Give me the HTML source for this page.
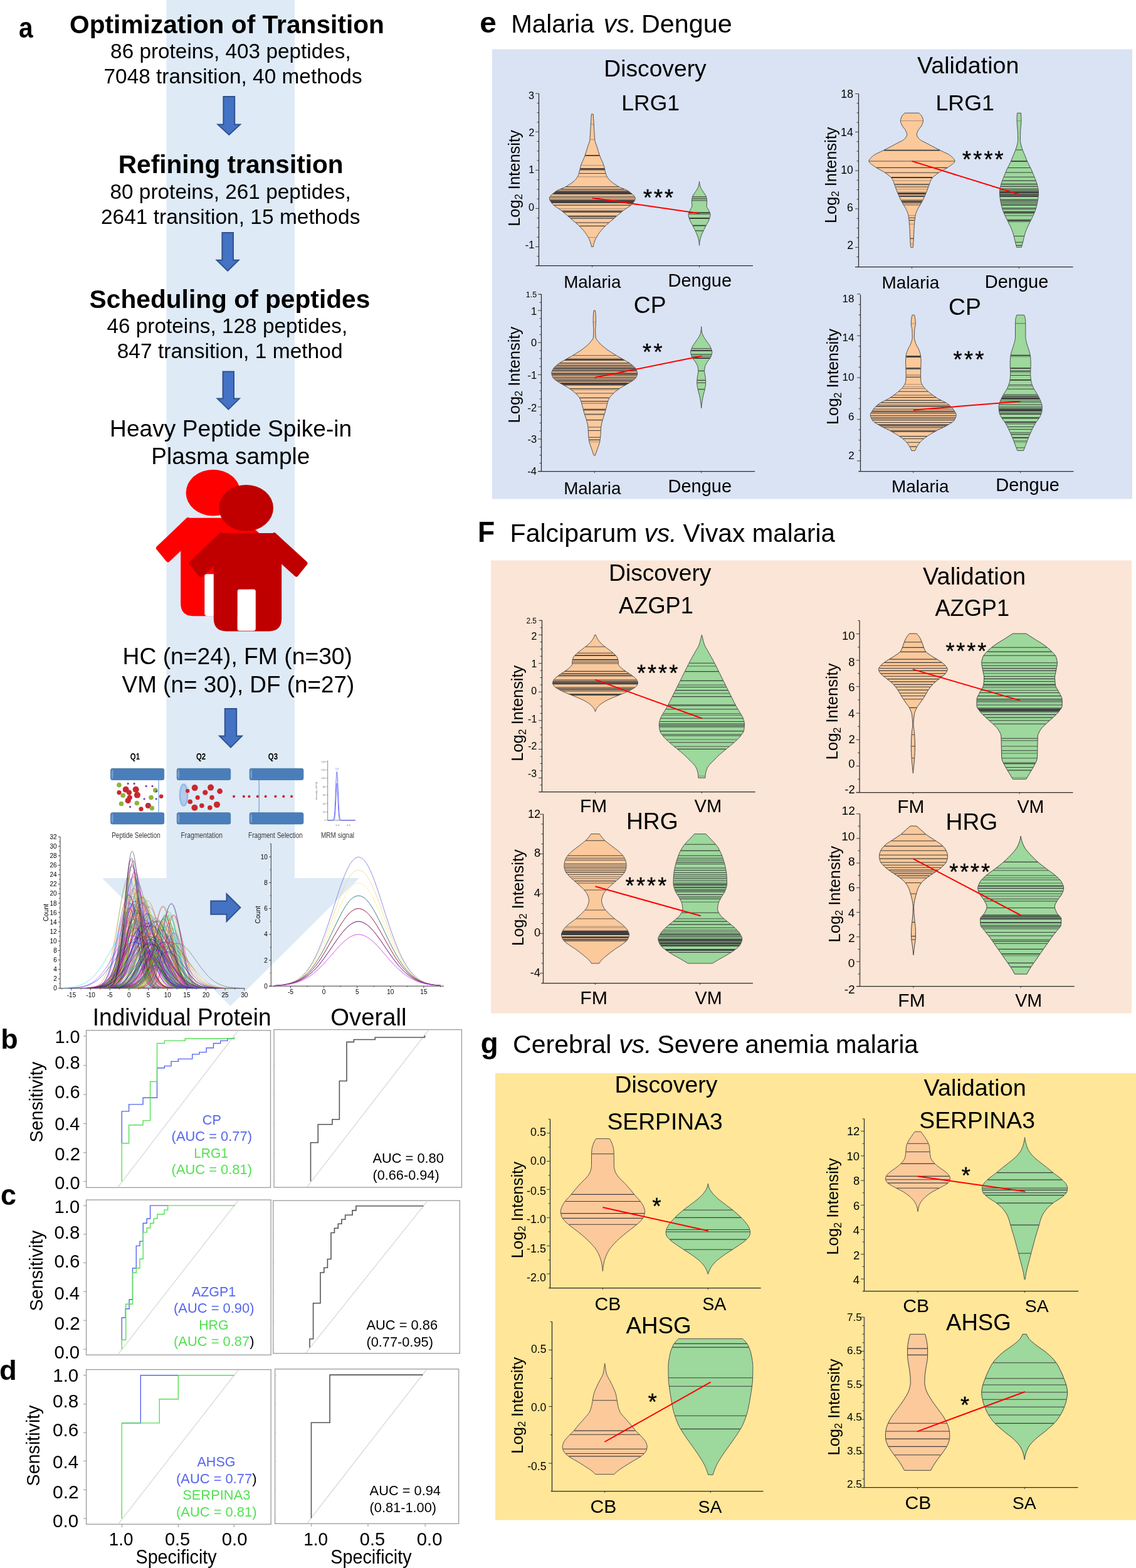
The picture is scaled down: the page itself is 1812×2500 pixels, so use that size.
<!DOCTYPE html>
<html lang="en"><head><meta charset="utf-8"><title>MRM workflow and biomarker validation</title>
<style>
html,body{margin:0;padding:0;background:#fff}
body{width:1812px;height:2500px;overflow:hidden}
svg{display:block}
svg text{font-family:"Liberation Sans",Arial,Helvetica,sans-serif}
</style></head><body>
<svg width="1812" height="2500" viewBox="0 0 1812 2500">
<path d="M265.5 0 L470 0 L470 1400 L573 1400 L367.5 1604 L163 1400 L265.5 1400 Z" fill="#deeaf6" />
<rect x="785.0" y="78.5" width="1021.0" height="717.0" fill="#dae3f3" />
<rect x="783.0" y="893.5" width="1022.0" height="722.0" fill="#fbe5d6" />
<rect x="790.0" y="1711.0" width="1022.0" height="712.5" fill="#ffe699" />
<text x="30.0" y="59.7" font-size="45.8" font-weight="bold" textLength="22.6" lengthAdjust="spacingAndGlyphs">a</text>
<text x="111.0" y="52.5" font-size="40.7" font-weight="bold" textLength="502.0" lengthAdjust="spacingAndGlyphs">Optimization of Transition</text>
<text x="176.1" y="93.0" font-size="33.3" textLength="383.6" lengthAdjust="spacingAndGlyphs">86 proteins, 403 peptides,</text>
<text x="165.5" y="133.1" font-size="33.4" textLength="412.1" lengthAdjust="spacingAndGlyphs">7048 transition, 40 methods</text>
<path d="M356.4 154.0 L374.2 154.0 L374.2 198.4 L383.1 198.4 L365.3 215.0 L347.5 198.4 L356.4 198.4 Z" fill="#4472c4" stroke="#2f528f" stroke-width="2" stroke-linejoin="miter"/>
<text x="188.7" y="276.0" font-size="40.6" font-weight="bold" textLength="359.0" lengthAdjust="spacingAndGlyphs">Refining transition</text>
<text x="175.4" y="316.8" font-size="33.4" textLength="384.4" lengthAdjust="spacingAndGlyphs">80 proteins, 261 peptides,</text>
<text x="160.9" y="356.9" font-size="33.5" textLength="413.5" lengthAdjust="spacingAndGlyphs">2641 transition, 15 methods</text>
<path d="M354.4 371.0 L372.0 371.0 L372.0 414.8 L380.7 414.8 L363.2 431.9 L345.7 414.8 L354.4 414.8 Z" fill="#4472c4" stroke="#2f528f" stroke-width="2" stroke-linejoin="miter"/>
<text x="142.6" y="490.5" font-size="40.7" font-weight="bold" textLength="447.8" lengthAdjust="spacingAndGlyphs">Scheduling of peptides</text>
<text x="170.4" y="531.4" font-size="33.4" textLength="383.9" lengthAdjust="spacingAndGlyphs">46 proteins, 128 peptides,</text>
<text x="186.7" y="571.1" font-size="33.5" textLength="359.9" lengthAdjust="spacingAndGlyphs">847 transition, 1 method</text>
<path d="M355.6 592.4 L373.0 592.4 L373.0 635.6 L381.8 635.6 L364.3 652.6 L346.8 635.6 L355.6 635.6 Z" fill="#4472c4" stroke="#2f528f" stroke-width="2" stroke-linejoin="miter"/>
<text x="175.1" y="695.7" font-size="37.1" textLength="386.1" lengthAdjust="spacingAndGlyphs">Heavy Peptide Spike-in</text>
<text x="241.3" y="739.7" font-size="37.0" textLength="253.0" lengthAdjust="spacingAndGlyphs">Plasma sample</text>
<text x="195.5" y="1059.1" font-size="37.3" textLength="366.5" lengthAdjust="spacingAndGlyphs">HC (n=24), FM (n=30)</text>
<text x="194.6" y="1103.5" font-size="36.9" textLength="370.7" lengthAdjust="spacingAndGlyphs">VM (n= 30), DF (n=27)</text>
<path d="M358.8 1130.0 L377.2 1130.0 L377.2 1173.6 L385.9 1173.6 L368.0 1191.6 L350.1 1173.6 L358.8 1173.6 Z" fill="#4472c4" stroke="#2f528f" stroke-width="2" stroke-linejoin="miter"/>
<g transform="translate(-52.6 -24.2)" fill="#ff0000">
<ellipse cx="392.6" cy="809.9" rx="43.4" ry="36.9"/>
<path fill-rule="evenodd" d="M350.5 850 L439.4 850 L449.2 859.3 L449.2 986 Q449.2 1006.4 429 1006.4 L361 1006.4 Q340.8 1006.4 340.8 986 L340.8 859.3 Z M381.8 939.8 Q378.8 939.8 378.8 942.8 L378.8 1002.5 Q378.8 1005.5 381.8 1005.5 L404.6 1005.5 Q407.6 1005.5 407.6 1002.5 L407.6 942.8 Q407.6 939.8 404.6 939.8 Z"/>
<path stroke="#ff0000" stroke-width="7" stroke-linejoin="round" d="M352.6 852.8 L305 898 L320.6 917 L345 894 L345 860 Z"/>
<path stroke="#ff0000" stroke-width="7" stroke-linejoin="round" d="M437.4 852.8 L487 898 L472.6 916 L445 891 L445 860 Z"/>
</g>
<rect x="327.7" y="915.5" width="14.0" height="67.0" fill="#ffffff" rx="2" />
<g transform="translate(0.0 0.0)" fill="#c00000">
<ellipse cx="392.6" cy="809.9" rx="43.4" ry="36.9"/>
<path fill-rule="evenodd" d="M350.5 850 L439.4 850 L449.2 859.3 L449.2 986 Q449.2 1006.4 429 1006.4 L361 1006.4 Q340.8 1006.4 340.8 986 L340.8 859.3 Z M381.8 939.8 Q378.8 939.8 378.8 942.8 L378.8 1002.5 Q378.8 1005.5 381.8 1005.5 L404.6 1005.5 Q407.6 1005.5 407.6 1002.5 L407.6 942.8 Q407.6 939.8 404.6 939.8 Z"/>
<path stroke="#c00000" stroke-width="7" stroke-linejoin="round" d="M352.6 852.8 L305 898 L320.6 917 L345 894 L345 860 Z"/>
<path stroke="#c00000" stroke-width="7" stroke-linejoin="round" d="M437.4 852.8 L487 898 L472.6 916 L445 891 L445 860 Z"/>
</g>
<rect x="378.8" y="939.8" width="28.8" height="65.7" fill="#ffffff" rx="3" />
<rect x="176.6" y="1225.3" width="85.1" height="18.2" rx="2.5" fill="#4a7ebb" stroke="#41719c" stroke-width="0.8"/>
<ellipse cx="179.2" cy="1234.4" rx="2.2" ry="8.5" fill="#6f9bd1" stroke="#41719c" stroke-width="0.6"/>
<rect x="176.6" y="1295.7" width="85.1" height="18.2" rx="2.5" fill="#4a7ebb" stroke="#41719c" stroke-width="0.8"/>
<ellipse cx="179.2" cy="1304.8" rx="2.2" ry="8.5" fill="#6f9bd1" stroke="#41719c" stroke-width="0.6"/>
<rect x="282.3" y="1225.3" width="85.4" height="18.2" rx="2.5" fill="#4a7ebb" stroke="#41719c" stroke-width="0.8"/>
<ellipse cx="284.9" cy="1234.4" rx="2.2" ry="8.5" fill="#6f9bd1" stroke="#41719c" stroke-width="0.6"/>
<rect x="282.3" y="1295.7" width="85.4" height="18.2" rx="2.5" fill="#4a7ebb" stroke="#41719c" stroke-width="0.8"/>
<ellipse cx="284.9" cy="1304.8" rx="2.2" ry="8.5" fill="#6f9bd1" stroke="#41719c" stroke-width="0.6"/>
<rect x="398.2" y="1225.3" width="85.7" height="18.2" rx="2.5" fill="#4a7ebb" stroke="#41719c" stroke-width="0.8"/>
<ellipse cx="400.8" cy="1234.4" rx="2.2" ry="8.5" fill="#6f9bd1" stroke="#41719c" stroke-width="0.6"/>
<rect x="398.2" y="1295.7" width="85.7" height="18.2" rx="2.5" fill="#4a7ebb" stroke="#41719c" stroke-width="0.8"/>
<ellipse cx="400.8" cy="1304.8" rx="2.2" ry="8.5" fill="#6f9bd1" stroke="#41719c" stroke-width="0.6"/>
<text x="215.4" y="1210.9" font-size="15.5" text-anchor="middle" font-weight="bold" textLength="15.2" lengthAdjust="spacingAndGlyphs">Q1</text>
<text x="320.6" y="1210.9" font-size="15.5" text-anchor="middle" font-weight="bold" textLength="15.2" lengthAdjust="spacingAndGlyphs">Q2</text>
<text x="435.4" y="1210.9" font-size="15.5" text-anchor="middle" font-weight="bold" textLength="15.2" lengthAdjust="spacingAndGlyphs">Q3</text>
<line x1="253.1" y1="1243.5" x2="253.1" y2="1295.7" stroke="#5b8fd0" stroke-width="1" />
<line x1="413.2" y1="1243.5" x2="413.2" y2="1295.7" stroke="#5b8fd0" stroke-width="1" />
<g fill="#c9282d">
<circle cx="200.7" cy="1258.8" r="5.0"/>
<circle cx="206.0" cy="1263.6" r="4.2"/>
<circle cx="216.7" cy="1258.8" r="5.0"/>
<circle cx="218.9" cy="1267.6" r="5.0"/>
<circle cx="190.0" cy="1263.6" r="3.6"/>
<circle cx="206.8" cy="1271.6" r="4.2"/>
<circle cx="204.2" cy="1276.5" r="4.6"/>
<circle cx="225.0" cy="1289.8" r="3.6"/>
<circle cx="236.3" cy="1284.5" r="4.6"/>
<circle cx="257.2" cy="1269.8" r="3.2"/>
</g>
<g fill="#8bb53c">
<circle cx="190.0" cy="1251.6" r="3.8"/>
<circle cx="196.1" cy="1268.2" r="3.8"/>
<circle cx="193.5" cy="1281.5" r="3.8"/>
<circle cx="218.4" cy="1280.5" r="3.8"/>
<circle cx="241.1" cy="1271.6" r="3.8"/>
<circle cx="247.8" cy="1260.1" r="3.8"/>
<circle cx="242.4" cy="1288.5" r="3.8"/>
</g>
<g fill="#7b3fa0">
<circle cx="204.2" cy="1249.4" r="1.6"/>
<circle cx="214.1" cy="1249.4" r="1.6"/>
<circle cx="233.1" cy="1253.4" r="1.6"/>
<circle cx="243.0" cy="1253.4" r="1.6"/>
<circle cx="230.1" cy="1273.8" r="1.6"/>
<circle cx="249.1" cy="1273.8" r="1.6"/>
<circle cx="207.6" cy="1286.4" r="1.6"/>
<circle cx="249.7" cy="1261.7" r="1.6"/>
<circle cx="237.1" cy="1282.3" r="1.6"/>
</g>
<ellipse cx="293.0" cy="1267.6" rx="6" ry="17" fill="#b9c9e6" stroke="#8fbcee" stroke-width="2.6"/>
<g fill="#c9282d">
<circle cx="310.7" cy="1256.1" r="5.0"/>
<circle cx="336.1" cy="1255.6" r="5.0"/>
<circle cx="350.6" cy="1261.5" r="4.4"/>
<circle cx="327.3" cy="1263.6" r="4.2"/>
<circle cx="315.2" cy="1271.6" r="3.6"/>
<circle cx="338.0" cy="1271.6" r="3.8"/>
<circle cx="303.2" cy="1278.3" r="3.8"/>
<circle cx="346.0" cy="1282.9" r="5.0"/>
<circle cx="321.9" cy="1284.5" r="3.8"/>
<circle cx="310.4" cy="1287.7" r="5.0"/>
<circle cx="334.8" cy="1287.7" r="3.8"/>
<circle cx="299.2" cy="1260.9" r="3.2"/>
</g>
<g fill="#c9282d">
<circle cx="373.1" cy="1269.8" r="2.1"/>
<circle cx="388.9" cy="1269.8" r="2.1"/>
<circle cx="397.4" cy="1269.8" r="2.1"/>
<circle cx="410.8" cy="1269.8" r="2.1"/>
<circle cx="423.7" cy="1269.8" r="2.1"/>
<circle cx="439.4" cy="1269.8" r="2.1"/>
<circle cx="452.3" cy="1269.8" r="2.1"/>
<circle cx="465.1" cy="1269.8" r="2.1"/>
</g>
<text x="178.2" y="1335.6" font-size="13.0" fill="#3a3a3a" textLength="77.6" lengthAdjust="spacingAndGlyphs">Peptide Selection</text>
<text x="288.5" y="1335.6" font-size="13.0" fill="#3a3a3a" textLength="66.4" lengthAdjust="spacingAndGlyphs">Fragmentation</text>
<text x="396.1" y="1335.6" font-size="13.0" fill="#3a3a3a" textLength="86.7" lengthAdjust="spacingAndGlyphs">Fragment Selection</text>
<text x="512.0" y="1335.6" font-size="13.0" fill="#3a3a3a" textLength="53.0" lengthAdjust="spacingAndGlyphs">MRM signal</text>
<line x1="522.7" y1="1212.7" x2="522.7" y2="1307.8" stroke="#555" stroke-width="0.7" />
<line x1="522.7" y1="1307.8" x2="566.9" y2="1307.8" stroke="#555" stroke-width="0.7" />
<line x1="520.7" y1="1307.8" x2="522.7" y2="1307.8" stroke="#555" stroke-width="0.5" />
<text x="519.5" y="1309.3" font-size="4.2" text-anchor="end" fill="#777">0</text>
<line x1="520.7" y1="1294.4" x2="522.7" y2="1294.4" stroke="#555" stroke-width="0.5" />
<text x="519.5" y="1295.9" font-size="4.2" text-anchor="end" fill="#777">20</text>
<line x1="520.7" y1="1281.0" x2="522.7" y2="1281.0" stroke="#555" stroke-width="0.5" />
<text x="519.5" y="1282.5" font-size="4.2" text-anchor="end" fill="#777">40</text>
<line x1="520.7" y1="1267.6" x2="522.7" y2="1267.6" stroke="#555" stroke-width="0.5" />
<text x="519.5" y="1269.1" font-size="4.2" text-anchor="end" fill="#777">60</text>
<line x1="520.7" y1="1254.2" x2="522.7" y2="1254.2" stroke="#555" stroke-width="0.5" />
<text x="519.5" y="1255.7" font-size="4.2" text-anchor="end" fill="#777">80</text>
<line x1="520.7" y1="1240.8" x2="522.7" y2="1240.8" stroke="#555" stroke-width="0.5" />
<text x="519.5" y="1242.3" font-size="4.2" text-anchor="end" fill="#777">100</text>
<line x1="520.7" y1="1227.4" x2="522.7" y2="1227.4" stroke="#555" stroke-width="0.5" />
<text x="519.5" y="1228.9" font-size="4.2" text-anchor="end" fill="#777">120</text>
<line x1="520.7" y1="1214.0" x2="522.7" y2="1214.0" stroke="#555" stroke-width="0.5" />
<text x="519.5" y="1215.5" font-size="4.2" text-anchor="end" fill="#777">140</text>
<text x="505.5" y="1261.0" font-size="4.2" text-anchor="middle" fill="#777" transform="rotate(-90 505.5 1261.0)">Intensity (10^3)</text>
<text x="538.4" y="1316.5" font-size="4.2" text-anchor="middle" fill="#777">0.4</text>
<text x="556.0" y="1316.5" font-size="4.2" text-anchor="middle" fill="#777">0.6</text>
<path d="M523 1307.8C523.5 1307.8 523.9 1307.8 524.4 1307.8S525.3 1307.8 525.8 1307.8S526.7 1307.8 527.2 1307.8S528.1 1307.8 528.6 1307.8S529.5 1307.8 530 1307.8S531 1307.7 531.4 1307.3S532.4 1306.1 532.8 1303.5S533.8 1296.5 534.2 1288.6S535.2 1269.1 535.6 1257.6S536.6 1235.4 537 1231.7S538 1232 538.4 1241S539.4 1263 539.8 1273.8S540.8 1292.8 541.2 1297.8S542.2 1304.9 542.6 1306.1S543.6 1307.5 544 1307.6S545 1307.8 545.5 1307.8S546.4 1307.8 546.9 1307.8S547.8 1307.8 548.3 1307.8S549.2 1307.8 549.7 1307.8S550.6 1307.8 551.1 1307.8S552 1307.8 552.5 1307.8S553.4 1307.8 553.9 1307.8S554.8 1307.8 555.3 1307.8S556.2 1307.8 556.7 1307.8S557.6 1307.8 558.1 1307.8S559 1307.8 559.5 1307.8S560.4 1307.8 560.9 1307.8S561.8 1307.8 562.3 1307.8S563.2 1307.8 563.7 1307.8S564.6 1307.8 565.1 1307.8S566 1307.8 566.5 1307.8" fill="none" stroke="#6a6af5" stroke-width="1" />
<path d="M523 1307.8C523.4 1307.8 523.7 1307.8 524.1 1307.8S524.9 1307.8 525.2 1307.8S526 1307.8 526.3 1307.8S527.1 1307.8 527.5 1307.8S528.2 1307.8 528.6 1307.8S529.3 1307.8 529.7 1307.8S530.4 1307.8 530.8 1307.8S531.6 1307.8 531.9 1307.7S532.7 1307.6 533 1306.9S533.8 1305.2 534.2 1302.1S534.9 1293.9 535.3 1286.3S536 1268.8 536.4 1260.9S537.1 1248 537.5 1248.9S538.2 1256.8 538.6 1265.3S539.4 1283.4 539.7 1290.2S540.5 1301.2 540.8 1303.6S541.6 1306.8 542 1307.2S542.7 1307.7 543.1 1307.8S543.8 1307.8 544.2 1307.8S544.9 1307.8 545.3 1307.8S546.1 1307.8 546.4 1307.8S547.2 1307.8 547.5 1307.8S548.3 1307.8 548.7 1307.8S549.4 1307.8 549.8 1307.8S550.5 1307.8 550.9 1307.8S551.6 1307.8 552 1307.8S552.7 1307.8 553.1 1307.8S553.9 1307.8 554.2 1307.8S555 1307.8 555.3 1307.8S556.1 1307.8 556.5 1307.8S557.2 1307.8 557.6 1307.8S558.3 1307.8 558.7 1307.8S559.4 1307.8 559.8 1307.8S560.6 1307.8 560.9 1307.8S561.7 1307.8 562 1307.8S562.8 1307.8 563.2 1307.8S563.9 1307.8 564.3 1307.8S565 1307.8 565.4 1307.8S566.1 1307.8 566.5 1307.8" fill="none" stroke="#6a6af5" stroke-width="0.9" />
<text x="537.8" y="1226.5" font-size="3.6" text-anchor="middle" fill="#6a6af5">0.4</text>
<path d="M336.3 1436.4 L361.5 1436.4 L361.5 1425.2 L383.4 1447.1 L361.5 1469 L361.5 1457.8 L336.3 1457.8 Z" fill="#4472c4" stroke="#2f528f" stroke-width="2" />
<line x1="96.0" y1="1334.2" x2="96.0" y2="1576.2" stroke="#222" stroke-width="0.9" />
<line x1="96.0" y1="1575.8" x2="390.0" y2="1575.8" stroke="#222" stroke-width="0.9" />
<line x1="92.8" y1="1575.8" x2="96.0" y2="1575.8" stroke="#222" stroke-width="0.8" />
<text x="90.7" y="1579.4" font-size="10.0" text-anchor="end">0</text>
<line x1="94.2" y1="1568.2" x2="96.0" y2="1568.2" stroke="#222" stroke-width="0.7" />
<line x1="92.8" y1="1560.7" x2="96.0" y2="1560.7" stroke="#222" stroke-width="0.8" />
<text x="90.7" y="1564.3" font-size="10.0" text-anchor="end">2</text>
<line x1="94.2" y1="1553.1" x2="96.0" y2="1553.1" stroke="#222" stroke-width="0.7" />
<line x1="92.8" y1="1545.6" x2="96.0" y2="1545.6" stroke="#222" stroke-width="0.8" />
<text x="90.7" y="1549.2" font-size="10.0" text-anchor="end">4</text>
<line x1="94.2" y1="1538.0" x2="96.0" y2="1538.0" stroke="#222" stroke-width="0.7" />
<line x1="92.8" y1="1530.5" x2="96.0" y2="1530.5" stroke="#222" stroke-width="0.8" />
<text x="90.7" y="1534.1" font-size="10.0" text-anchor="end">6</text>
<line x1="94.2" y1="1523.0" x2="96.0" y2="1523.0" stroke="#222" stroke-width="0.7" />
<line x1="92.8" y1="1515.4" x2="96.0" y2="1515.4" stroke="#222" stroke-width="0.8" />
<text x="90.7" y="1519.0" font-size="10.0" text-anchor="end">8</text>
<line x1="94.2" y1="1507.8" x2="96.0" y2="1507.8" stroke="#222" stroke-width="0.7" />
<line x1="92.8" y1="1500.3" x2="96.0" y2="1500.3" stroke="#222" stroke-width="0.8" />
<text x="90.7" y="1503.9" font-size="10.0" text-anchor="end">10</text>
<line x1="94.2" y1="1492.8" x2="96.0" y2="1492.8" stroke="#222" stroke-width="0.7" />
<line x1="92.8" y1="1485.2" x2="96.0" y2="1485.2" stroke="#222" stroke-width="0.8" />
<text x="90.7" y="1488.8" font-size="10.0" text-anchor="end">12</text>
<line x1="94.2" y1="1477.6" x2="96.0" y2="1477.6" stroke="#222" stroke-width="0.7" />
<line x1="92.8" y1="1470.1" x2="96.0" y2="1470.1" stroke="#222" stroke-width="0.8" />
<text x="90.7" y="1473.7" font-size="10.0" text-anchor="end">14</text>
<line x1="94.2" y1="1462.5" x2="96.0" y2="1462.5" stroke="#222" stroke-width="0.7" />
<line x1="92.8" y1="1455.0" x2="96.0" y2="1455.0" stroke="#222" stroke-width="0.8" />
<text x="90.7" y="1458.6" font-size="10.0" text-anchor="end">16</text>
<line x1="94.2" y1="1447.5" x2="96.0" y2="1447.5" stroke="#222" stroke-width="0.7" />
<line x1="92.8" y1="1439.9" x2="96.0" y2="1439.9" stroke="#222" stroke-width="0.8" />
<text x="90.7" y="1443.5" font-size="10.0" text-anchor="end">18</text>
<line x1="94.2" y1="1432.3" x2="96.0" y2="1432.3" stroke="#222" stroke-width="0.7" />
<line x1="92.8" y1="1424.8" x2="96.0" y2="1424.8" stroke="#222" stroke-width="0.8" />
<text x="90.7" y="1428.4" font-size="10.0" text-anchor="end">20</text>
<line x1="94.2" y1="1417.2" x2="96.0" y2="1417.2" stroke="#222" stroke-width="0.7" />
<line x1="92.8" y1="1409.7" x2="96.0" y2="1409.7" stroke="#222" stroke-width="0.8" />
<text x="90.7" y="1413.3" font-size="10.0" text-anchor="end">22</text>
<line x1="94.2" y1="1402.1" x2="96.0" y2="1402.1" stroke="#222" stroke-width="0.7" />
<line x1="92.8" y1="1394.6" x2="96.0" y2="1394.6" stroke="#222" stroke-width="0.8" />
<text x="90.7" y="1398.2" font-size="10.0" text-anchor="end">24</text>
<line x1="94.2" y1="1387.0" x2="96.0" y2="1387.0" stroke="#222" stroke-width="0.7" />
<line x1="92.8" y1="1379.5" x2="96.0" y2="1379.5" stroke="#222" stroke-width="0.8" />
<text x="90.7" y="1383.1" font-size="10.0" text-anchor="end">26</text>
<line x1="94.2" y1="1372.0" x2="96.0" y2="1372.0" stroke="#222" stroke-width="0.7" />
<line x1="92.8" y1="1364.4" x2="96.0" y2="1364.4" stroke="#222" stroke-width="0.8" />
<text x="90.7" y="1368.0" font-size="10.0" text-anchor="end">28</text>
<line x1="94.2" y1="1356.8" x2="96.0" y2="1356.8" stroke="#222" stroke-width="0.7" />
<line x1="92.8" y1="1349.3" x2="96.0" y2="1349.3" stroke="#222" stroke-width="0.8" />
<text x="90.7" y="1352.9" font-size="10.0" text-anchor="end">30</text>
<line x1="94.2" y1="1341.8" x2="96.0" y2="1341.8" stroke="#222" stroke-width="0.7" />
<line x1="92.8" y1="1334.2" x2="96.0" y2="1334.2" stroke="#222" stroke-width="0.8" />
<text x="90.7" y="1337.8" font-size="10.0" text-anchor="end">32</text>
<line x1="114.0" y1="1575.8" x2="114.0" y2="1579.0" stroke="#222" stroke-width="0.8" />
<text x="114.0" y="1589.8" font-size="10.0" text-anchor="middle">-15</text>
<line x1="144.6" y1="1575.8" x2="144.6" y2="1579.0" stroke="#222" stroke-width="0.8" />
<text x="144.6" y="1589.8" font-size="10.0" text-anchor="middle">-10</text>
<line x1="175.2" y1="1575.8" x2="175.2" y2="1579.0" stroke="#222" stroke-width="0.8" />
<text x="175.2" y="1589.8" font-size="10.0" text-anchor="middle">-5</text>
<line x1="205.9" y1="1575.8" x2="205.9" y2="1579.0" stroke="#222" stroke-width="0.8" />
<text x="205.9" y="1589.8" font-size="10.0" text-anchor="middle">0</text>
<line x1="236.6" y1="1575.8" x2="236.6" y2="1579.0" stroke="#222" stroke-width="0.8" />
<text x="236.6" y="1589.8" font-size="10.0" text-anchor="middle">5</text>
<line x1="267.2" y1="1575.8" x2="267.2" y2="1579.0" stroke="#222" stroke-width="0.8" />
<text x="267.2" y="1589.8" font-size="10.0" text-anchor="middle">10</text>
<line x1="297.9" y1="1575.8" x2="297.9" y2="1579.0" stroke="#222" stroke-width="0.8" />
<text x="297.9" y="1589.8" font-size="10.0" text-anchor="middle">15</text>
<line x1="328.5" y1="1575.8" x2="328.5" y2="1579.0" stroke="#222" stroke-width="0.8" />
<text x="328.5" y="1589.8" font-size="10.0" text-anchor="middle">20</text>
<line x1="359.1" y1="1575.8" x2="359.1" y2="1579.0" stroke="#222" stroke-width="0.8" />
<text x="359.1" y="1589.8" font-size="10.0" text-anchor="middle">25</text>
<line x1="389.8" y1="1575.8" x2="389.8" y2="1579.0" stroke="#222" stroke-width="0.8" />
<text x="389.8" y="1589.8" font-size="10.0" text-anchor="middle">30</text>
<line x1="98.6" y1="1575.8" x2="98.6" y2="1577.6" stroke="#222" stroke-width="0.7" />
<line x1="129.3" y1="1575.8" x2="129.3" y2="1577.6" stroke="#222" stroke-width="0.7" />
<line x1="159.9" y1="1575.8" x2="159.9" y2="1577.6" stroke="#222" stroke-width="0.7" />
<line x1="190.6" y1="1575.8" x2="190.6" y2="1577.6" stroke="#222" stroke-width="0.7" />
<line x1="221.2" y1="1575.8" x2="221.2" y2="1577.6" stroke="#222" stroke-width="0.7" />
<line x1="251.9" y1="1575.8" x2="251.9" y2="1577.6" stroke="#222" stroke-width="0.7" />
<line x1="282.5" y1="1575.8" x2="282.5" y2="1577.6" stroke="#222" stroke-width="0.7" />
<line x1="313.2" y1="1575.8" x2="313.2" y2="1577.6" stroke="#222" stroke-width="0.7" />
<line x1="343.8" y1="1575.8" x2="343.8" y2="1577.6" stroke="#222" stroke-width="0.7" />
<line x1="374.5" y1="1575.8" x2="374.5" y2="1577.6" stroke="#222" stroke-width="0.7" />
<text x="76.8" y="1455.0" font-size="10.5" text-anchor="middle" transform="rotate(-90 76.8 1455.0)">Count</text>
<g fill="none" stroke-width="0.55" opacity="0.9">
<path d="M156.5 1575.3C160.4 1574.9 164.3 1574.3 168.3 1571.7S176.1 1564.3 180 1555S187.9 1531.2 191.8 1514.7S199.6 1480.6 203.5 1471.3S211.4 1461.9 215.3 1471.3S223.1 1498.3 227.1 1514.7S234.9 1545.6 238.8 1555S246.7 1569 250.6 1571.7S258.4 1574.9 262.3 1575.3" stroke="#00aa00"/>
<path d="M166.3 1575.3C170.1 1575 173.9 1574.3 177.7 1571.8S185.3 1564.8 189.1 1555.9S196.7 1533.2 200.5 1517.5S208.1 1485 211.9 1476.1S219.6 1467.1 223.4 1476.1S231 1501.9 234.8 1517.5S242.4 1547 246.2 1555.9S253.8 1569.4 257.6 1571.8S265.2 1575 269.1 1575.3" stroke="#ff0080"/>
<path d="M159.9 1575.3C163.4 1575 166.9 1574.3 170.5 1571.9S177.6 1564.9 181.1 1556.1S188.2 1533.5 191.7 1518S198.8 1485.6 202.3 1476.8S209.4 1467.9 212.9 1476.8S220 1502.4 223.5 1518S230.6 1547.2 234.1 1556.1S241.2 1569.4 244.7 1571.9S251.8 1575 255.4 1575.3" stroke="#808000"/>
<path d="M148.7 1575.2C152.9 1574.7 157.1 1573.9 161.4 1570.7S169.8 1561.8 174 1550.4S182.4 1521.3 186.6 1501.2S195 1459.5 199.2 1448.1S207.7 1436.6 211.9 1448.1S220.3 1481.1 224.5 1501.2S232.9 1538.9 237.1 1550.4S245.6 1567.5 249.8 1570.7S258.2 1574.7 262.4 1575.2" stroke="#0000ff"/>
<path d="M168.3 1575.1C172.1 1574.6 176 1573.7 179.8 1570S187.4 1559.8 191.2 1546.9S198.8 1513.8 202.6 1491S210.2 1443.6 214 1430.6S221.6 1417.6 225.5 1430.6S233.1 1468.2 236.9 1491S244.5 1533.9 248.3 1546.9S255.9 1566.4 259.7 1570S267.3 1574.6 271.2 1575.1" stroke="#ff0000"/>
<path d="M153.5 1575.2C157.9 1574.8 162.4 1573.9 166.8 1570.8S175.7 1562 180.2 1550.8S189.1 1522.3 193.6 1502.6S202.5 1461.7 206.9 1450.4S215.8 1439.2 220.3 1450.4S229.2 1482.9 233.7 1502.6S242.6 1539.6 247 1550.8S255.9 1567.7 260.4 1570.8S269.3 1574.8 273.8 1575.2" stroke="#ff0000"/>
<path d="M165.5 1575.3C169.1 1574.9 172.6 1574.3 176.1 1571.7S183.2 1564.5 186.7 1555.3S193.8 1531.8 197.4 1515.6S204.4 1482 208 1472.7S215 1463.5 218.6 1472.7S225.7 1499.4 229.2 1515.6S236.3 1546.1 239.8 1555.3S246.9 1569.1 250.4 1571.7S257.5 1574.9 261 1575.3" stroke="#404040"/>
<path d="M149.4 1575.3C153.6 1574.8 157.8 1574.1 162 1571.1S170.4 1562.8 174.6 1552.3S183 1525.5 187.1 1506.9S195.5 1468.5 199.7 1457.9S208.1 1447.3 212.3 1457.9S220.7 1488.4 224.9 1506.9S233.3 1541.8 237.5 1552.3S245.8 1568.2 250 1571.1S258.4 1574.8 262.6 1575.3" stroke="#ff00ff"/>
<path d="M163.2 1575.2C166.3 1574.6 169.5 1573.7 172.6 1570.2S178.9 1560.4 182.1 1547.9S188.4 1516 191.6 1493.9S197.9 1448.2 201 1435.6S207.3 1423.1 210.5 1435.6S216.8 1471.9 220 1493.9S226.3 1535.4 229.4 1547.9S235.8 1566.7 238.9 1570.2S245.2 1574.6 248.4 1575.2" stroke="#0000ff"/>
<path d="M173.4 1575.4C176.3 1575 179.3 1574.4 182.2 1571.9S188.1 1565.1 191 1556.5S196.9 1534.3 199.9 1519.1S205.8 1487.4 208.7 1478.7S214.6 1470 217.5 1478.7S223.4 1503.8 226.4 1519.1S232.3 1547.8 235.2 1556.5S241.1 1569.5 244.1 1571.9S249.9 1575 252.9 1575.4" stroke="#cccc00"/>
<path d="M156.5 1575.2C160.7 1574.7 164.8 1573.8 168.9 1570.4S177.2 1560.8 181.3 1548.5S189.6 1517.4 193.7 1495.9S202 1451.3 206.1 1439S214.3 1426.7 218.5 1439S226.7 1474.4 230.9 1495.9S239.1 1536.3 243.2 1548.5S251.5 1567 255.6 1570.4S263.9 1574.7 268 1575.2" stroke="#ff8000"/>
<path d="M168.6 1575.2C172 1574.7 175.3 1573.9 178.7 1570.6S185.4 1561.5 188.7 1549.9S195.4 1520.2 198.7 1499.8S205.4 1457.3 208.7 1445.6S215.4 1434 218.8 1445.6S225.4 1479.3 228.8 1499.8S235.5 1538.2 238.8 1549.9S245.5 1567.4 248.8 1570.6S255.5 1574.7 258.9 1575.2" stroke="#ff00ff"/>
<path d="M164.4 1575.3C168.2 1574.9 172 1574.1 175.8 1571.3S183.4 1563.4 187.2 1553.4S194.8 1527.8 198.6 1510.1S206.1 1473.4 209.9 1463.4S217.5 1453.3 221.3 1463.4S228.9 1492.5 232.7 1510.1S240.3 1543.4 244.1 1553.4S251.7 1568.5 255.5 1571.3S263.1 1574.9 266.8 1575.3" stroke="#ff0080"/>
<path d="M163.8 1575.2C167.4 1574.8 171 1574 174.6 1571S181.8 1562.5 185.4 1551.7S192.5 1524.2 196.1 1505.2S203.3 1465.8 206.9 1454.9S214 1444.1 217.6 1454.9S224.8 1486.2 228.4 1505.2S235.6 1540.9 239.2 1551.7S246.3 1568 249.9 1571S257.1 1574.8 260.7 1575.2" stroke="#40c040"/>
<path d="M172.5 1575.3C176.1 1575 179.6 1574.3 183.2 1571.8S190.2 1564.6 193.8 1555.5S200.8 1532.3 204.4 1516.4S211.4 1483.2 215 1474S222.1 1464.9 225.6 1474S232.7 1500.4 236.2 1516.4S243.3 1546.4 246.8 1555.5S253.9 1569.2 257.4 1571.8S264.5 1575 268 1575.3" stroke="#669933"/>
<path d="M161.9 1575C165.4 1574.4 169 1573.3 172.5 1569S179.6 1557 183.2 1541.8S190.2 1502.9 193.8 1476S200.9 1420.3 204.4 1405S211.5 1389.7 215 1405S222.1 1449.2 225.7 1476S232.7 1526.5 236.3 1541.8S243.4 1564.8 246.9 1569S254 1574.4 257.5 1575" stroke="#c0c040"/>
<path d="M149.4 1575.2C153.5 1574.6 157.6 1573.7 161.8 1570.3S170.1 1560.5 174.2 1548.1S182.5 1516.4 186.7 1494.6S195 1449.2 199.1 1436.8S207.4 1424.3 211.6 1436.8S219.9 1472.8 224 1494.6S232.3 1535.7 236.5 1548.1S244.7 1566.8 248.9 1570.3S257.2 1574.6 261.3 1575.2" stroke="#800000"/>
<path d="M160.2 1575.2C163.9 1574.8 167.5 1574 171.2 1571S178.5 1562.4 182.2 1551.6S189.5 1523.9 193.2 1504.9S200.5 1465.3 204.2 1454.4S211.5 1443.5 215.2 1454.4S222.5 1485.8 226.2 1504.9S233.5 1540.8 237.2 1551.6S244.5 1568 248.2 1571S255.5 1574.8 259.2 1575.2" stroke="#ff8000"/>
<path d="M160.8 1575.3C164 1575 167.3 1574.3 170.6 1571.8S177.2 1564.8 180.5 1555.9S187.1 1533.2 190.4 1517.6S197 1485 200.3 1476.1S206.8 1467.2 210.1 1476.1S216.7 1501.9 220 1517.6S226.6 1547 229.9 1555.9S236.5 1569.4 239.8 1571.8S246.3 1575 249.6 1575.3" stroke="#993366"/>
<path d="M161 1575.4C165 1575 169 1574.4 173 1572S181 1565.1 185 1556.5S193 1534.4 197 1519.2S205 1487.6 209 1478.9S217.1 1470.2 221.1 1478.9S229.1 1504 233.1 1519.2S241.1 1547.8 245.1 1556.5S253.1 1569.5 257.1 1572S265.1 1575 269.1 1575.4" stroke="#4040c0"/>
<path d="M165.3 1575.1C168.9 1574.6 172.4 1573.6 176 1569.9S183.2 1559.4 186.8 1546S193.9 1512 197.5 1488.5S204.7 1439.7 208.3 1426.3S215.4 1412.9 219 1426.3S226.2 1465 229.7 1488.5S236.9 1532.7 240.5 1546S247.7 1566.1 251.2 1569.9S258.4 1574.6 262 1575.1" stroke="#993366"/>
<path d="M171.5 1575.1C174.4 1574.6 177.3 1573.6 180.2 1569.9S185.9 1559.5 188.8 1546.2S194.6 1512.4 197.5 1489.1S203.2 1440.7 206.1 1427.4S211.9 1414.1 214.8 1427.4S220.5 1465.8 223.4 1489.1S229.2 1533 232.1 1546.2S237.8 1566.2 240.7 1569.9S246.5 1574.6 249.4 1575.1" stroke="#ff8000"/>
<path d="M160.5 1575.1C164.2 1574.6 167.8 1573.7 171.5 1570.1S178.8 1560 182.5 1547.2S189.8 1514.5 193.5 1492S200.8 1445.1 204.5 1432.3S211.8 1419.4 215.4 1432.3S222.8 1469.4 226.4 1492S233.7 1534.4 237.4 1547.2S244.7 1566.5 248.4 1570.1S255.7 1574.6 259.4 1575.1" stroke="#cccc00"/>
<path d="M172.8 1575.3C176.1 1574.9 179.3 1574.3 182.6 1571.7S189.1 1564.5 192.4 1555.3S198.9 1531.9 202.1 1515.8S208.6 1482.3 211.9 1473.1S218.4 1463.9 221.7 1473.1S228.2 1499.7 231.4 1515.8S237.9 1546.2 241.2 1555.3S247.7 1569.2 251 1571.7S257.5 1574.9 260.7 1575.3" stroke="#008080"/>
<path d="M177.1 1575.2C180.2 1574.7 183.3 1573.8 186.5 1570.5S192.7 1561.1 195.8 1549.1S202.1 1518.7 205.2 1497.6S211.4 1454 214.6 1442S220.8 1430 223.9 1442S230.2 1476.6 233.3 1497.6S239.5 1537.2 242.6 1549.1S248.9 1567.2 252 1570.5S258.3 1574.7 261.4 1575.2" stroke="#008080"/>
<path d="M156.5 1575C160.7 1574.4 164.9 1573.3 169.1 1569.2S177.5 1557.5 181.7 1542.6S190.1 1504.7 194.3 1478.5S202.7 1424.1 206.9 1409.2S215.3 1394.3 219.5 1409.2S227.8 1452.3 232 1478.5S240.4 1527.7 244.6 1542.6S253 1565 257.2 1569.2S265.6 1574.4 269.8 1575" stroke="#404040"/>
<path d="M162.3 1575.2C165.7 1574.7 169.1 1573.9 172.6 1570.8S179.4 1561.8 182.9 1550.5S189.8 1521.6 193.2 1501.7S200.1 1460.2 203.5 1448.9S210.4 1437.5 213.8 1448.9S220.7 1481.7 224.1 1501.7S231 1539.2 234.5 1550.5S241.3 1567.6 244.8 1570.8S251.6 1574.7 255.1 1575.2" stroke="#008080"/>
<path d="M177.6 1575.3C180.7 1574.9 183.8 1574.3 187 1571.7S193.2 1564.3 196.4 1555S202.7 1531.2 205.8 1514.7S212.1 1480.6 215.2 1471.2S221.5 1461.9 224.6 1471.2S230.9 1498.3 234 1514.7S240.3 1545.6 243.4 1555S249.7 1569 252.9 1571.7S259.1 1574.9 262.3 1575.3" stroke="#808000"/>
<path d="M158 1575.4C162.2 1575 166.5 1574.4 170.7 1572.1S179.1 1565.6 183.3 1557.3S191.8 1536.2 196 1521.6S204.4 1491.3 208.6 1483S217.1 1474.7 221.3 1483S229.7 1507 233.9 1521.6S242.4 1549 246.6 1557.3S255 1569.8 259.2 1572.1S267.7 1575 271.9 1575.4" stroke="#ff00ff"/>
<path d="M160.7 1575.4C164.2 1575 167.7 1574.4 171.3 1572.1S178.3 1565.7 181.9 1557.4S189 1536.5 192.5 1522S199.6 1491.9 203.1 1483.7S210.2 1475.4 213.7 1483.7S220.8 1507.5 224.3 1522S231.4 1549.2 234.9 1557.4S242 1569.9 245.6 1572.1S252.6 1575 256.2 1575.4" stroke="#008000"/>
<path d="M172.9 1575.3C176 1574.8 179 1574 182.1 1571.1S188.2 1562.7 191.2 1552.1S197.4 1525.1 200.4 1506.4S206.5 1467.7 209.6 1457S215.7 1446.4 218.7 1457S224.8 1487.8 227.9 1506.4S234 1541.5 237.1 1552.1S243.2 1568.1 246.2 1571.1S252.3 1574.8 255.4 1575.3" stroke="#ff0080"/>
<path d="M164.9 1575.1C169 1574.6 173 1573.6 177.1 1570S185.2 1559.6 189.3 1546.5S197.4 1512.9 201.5 1489.8S209.6 1441.7 213.7 1428.5S221.8 1415.4 225.9 1428.5S234 1466.7 238.1 1489.8S246.2 1533.3 250.3 1546.5S258.4 1566.3 262.5 1570S270.6 1574.6 274.7 1575.1" stroke="#ff8000"/>
<path d="M161.1 1575.1C165.3 1574.5 169.6 1573.5 173.9 1569.5S182.5 1558.4 186.8 1544.4S195.4 1508.4 199.7 1483.6S208.2 1432.1 212.5 1418S221.1 1403.8 225.4 1418S234 1458.8 238.2 1483.6S246.8 1530.3 251.1 1544.4S259.7 1565.6 264 1569.5S272.6 1574.5 276.8 1575.1" stroke="#404040"/>
<path d="M169.8 1575.2C172.8 1574.8 175.9 1573.9 178.9 1570.8S184.9 1562 187.9 1550.8S194 1522.2 197 1502.5S203 1461.5 206 1450.2S212.1 1439 215.1 1450.2S221.1 1482.7 224.1 1502.5S230.2 1539.6 233.2 1550.8S239.2 1567.7 242.2 1570.8S248.3 1574.8 251.3 1575.2" stroke="#4040c0"/>
<path d="M150.3 1575.3C154.8 1574.9 159.3 1574.2 163.8 1571.5S172.7 1563.9 177.2 1554.3S186.1 1529.7 190.6 1512.8S199.5 1477.6 204 1467.9S212.9 1458.2 217.4 1467.9S226.3 1495.8 230.8 1512.8S239.7 1544.7 244.2 1554.3S253.2 1568.8 257.6 1571.5S266.6 1574.9 271 1575.3" stroke="#ff8000"/>
<path d="M167.1 1575.2C170.1 1574.8 173 1574 175.9 1571S181.8 1562.5 184.7 1551.8S190.6 1524.3 193.5 1505.4S199.4 1466 202.3 1455.2S208.2 1444.4 211.1 1455.2S217 1486.4 219.9 1505.4S225.8 1541 228.8 1551.8S234.6 1568 237.6 1571S243.4 1574.8 246.4 1575.2" stroke="#000000"/>
<path d="M153.9 1575.2C158.3 1574.7 162.7 1573.8 167.1 1570.4S175.9 1560.7 180.4 1548.5S189.2 1517.2 193.6 1495.7S202.4 1450.9 206.8 1438.6S215.6 1426.3 220.1 1438.6S228.9 1474.1 233.3 1495.7S242.1 1536.2 246.5 1548.5S255.3 1566.9 259.8 1570.4S268.6 1574.7 273 1575.2" stroke="#40c040"/>
<path d="M152.4 1575C156.2 1574.4 160.1 1573.3 164 1569.2S171.7 1557.6 175.5 1542.8S183.3 1505 187.1 1478.9S194.8 1424.8 198.7 1410S206.4 1395.1 210.3 1410S218 1452.9 221.8 1478.9S229.6 1528 233.4 1542.8S241.1 1565.1 245 1569.2S252.7 1574.4 256.6 1575" stroke="#00cccc"/>
<path d="M162.7 1575C166.6 1574.4 170.4 1573.2 174.2 1568.9S181.9 1556.8 185.8 1541.4S193.4 1502.1 197.3 1474.9S205 1418.6 208.8 1403.1S216.5 1387.6 220.3 1403.1S228 1447.8 231.8 1474.9S239.5 1526 243.4 1541.4S251 1564.6 254.9 1568.9S262.6 1574.4 266.4 1575" stroke="#8000ff"/>
<path d="M145.6 1575C150 1574.4 154.5 1573.4 159 1569.3S168 1557.8 172.5 1543.2S181.4 1505.9 185.9 1480.2S194.9 1426.8 199.4 1412.1S208.3 1397.4 212.8 1412.1S221.8 1454.5 226.3 1480.2S235.2 1528.6 239.7 1543.2S248.7 1565.2 253.2 1569.3S262.1 1574.4 266.6 1575" stroke="#ff8000"/>
<path d="M173.4 1574.9C176.2 1574.3 178.9 1573.1 181.7 1568.4S187.2 1555.4 190 1538.9S195.5 1496.7 198.3 1467.6S203.8 1407.1 206.6 1390.5S212.1 1373.9 214.9 1390.5S220.4 1438.5 223.1 1467.6S228.7 1522.3 231.4 1538.9S236.9 1563.8 239.7 1568.4S245.2 1574.3 248 1574.9" stroke="#336699"/>
<path d="M168.6 1575C171.7 1574.3 174.7 1573.1 177.8 1568.5S183.9 1555.6 187 1539.2S193.1 1497.3 196.2 1468.4S202.4 1408.3 205.4 1391.8S211.6 1375.4 214.6 1391.8S220.8 1439.5 223.8 1468.4S230 1522.7 233.1 1539.2S239.2 1563.9 242.3 1568.5S248.4 1574.3 251.5 1575" stroke="#ff00ff"/>
<path d="M168.7 1575C171.8 1574.3 174.9 1573.1 178.1 1568.6S184.3 1555.8 187.4 1539.5S193.7 1498 196.8 1469.3S203.1 1409.9 206.2 1393.5S212.4 1377.2 215.6 1393.5S221.8 1440.7 224.9 1469.3S231.2 1523.2 234.3 1539.5S240.6 1564 243.7 1568.6S249.9 1574.3 253.1 1575" stroke="#008000"/>
<path d="M172.5 1574.9C175.2 1574.2 177.9 1573 180.6 1568.2S186 1554.7 188.8 1537.6S194.2 1493.9 196.9 1463.8S202.3 1401.2 205 1384S210.4 1366.8 213.1 1384S218.6 1433.6 221.3 1463.8S226.7 1520.5 229.4 1537.6S234.8 1563.4 237.5 1568.2S242.9 1574.2 245.6 1574.9" stroke="#ff0080"/>
<path d="M172.8 1574.9C175.6 1574.2 178.3 1572.9 181.1 1568.1S186.5 1554.4 189.3 1537S194.8 1492.7 197.5 1462.1S203 1398.6 205.7 1381.2S211.2 1363.7 213.9 1381.2S219.4 1431.6 222.1 1462.1S227.6 1519.6 230.3 1537S235.8 1563.2 238.6 1568.1S244 1574.2 246.8 1574.9" stroke="#000080"/>
<path d="M170.6 1575.2C174.9 1574.7 179.1 1573.8 183.3 1570.4S191.8 1560.8 196 1548.7S204.5 1517.7 208.7 1496.4S217.2 1452 221.5 1439.8S229.9 1427.6 234.2 1439.8S242.6 1475 246.9 1496.4S255.3 1536.6 259.6 1548.7S268 1567 272.3 1570.4S280.8 1574.7 285 1575.2" stroke="#808000"/>
<path d="M171.6 1575.2C175.8 1574.7 180 1573.9 184.2 1570.7S192.5 1561.6 196.7 1550.2S205.1 1520.8 209.3 1500.6S217.7 1458.6 221.9 1447.1S230.2 1435.6 234.4 1447.1S242.8 1480.4 247 1500.6S255.4 1538.7 259.6 1550.2S268 1567.5 272.1 1570.7S280.5 1574.7 284.7 1575.2" stroke="#808000"/>
<path d="M163.2 1575.2C168.1 1574.7 173.1 1573.9 178.1 1570.7S188 1561.6 192.9 1550.1S202.9 1520.6 207.8 1500.3S217.7 1458.1 222.7 1446.6S232.6 1435 237.6 1446.6S247.5 1480 252.5 1500.3S262.4 1538.5 267.3 1550.1S277.2 1567.5 282.2 1570.7S292.1 1574.7 297.1 1575.2" stroke="#cccc00"/>
<path d="M168.4 1575.2C173.3 1574.7 178.2 1573.9 183.1 1570.6S193 1561.4 197.9 1549.7S207.8 1519.9 212.7 1499.3S222.5 1456.6 227.5 1444.9S237.3 1433.1 242.3 1444.9S252.1 1478.8 257 1499.3S266.9 1538 271.8 1549.7S281.7 1567.3 286.6 1570.6S296.4 1574.7 301.4 1575.2" stroke="#808000"/>
<path d="M153.7 1575.3C158.6 1574.9 163.5 1574.1 168.4 1571.3S178.3 1563.4 183.2 1553.4S193 1527.7 197.9 1510.1S207.7 1473.3 212.6 1463.3S222.5 1453.2 227.4 1463.3S237.2 1492.4 242.1 1510.1S251.9 1543.3 256.8 1553.4S266.6 1568.5 271.6 1571.3S281.4 1574.9 286.3 1575.3" stroke="#000000"/>
<path d="M181.2 1575.3C185.2 1574.9 189.1 1574.2 193.1 1571.4S200.9 1563.6 204.9 1553.6S212.8 1528.2 216.7 1510.7S224.6 1474.4 228.6 1464.4S236.4 1454.4 240.4 1464.4S248.3 1493.3 252.2 1510.7S260.1 1543.7 264.1 1553.6S271.9 1568.6 275.9 1571.4S283.8 1574.9 287.7 1575.3" stroke="#40c040"/>
<path d="M167.3 1575.3C172.5 1574.9 177.8 1574.2 183.1 1571.4S193.7 1563.7 198.9 1553.9S209.5 1528.8 214.8 1511.6S225.3 1475.7 230.6 1465.8S241.2 1456 246.5 1465.8S257 1494.3 262.3 1511.6S272.9 1544.1 278.2 1553.9S288.7 1568.7 294 1571.4S304.6 1574.9 309.8 1575.3" stroke="#008000"/>
<path d="M184.6 1575.3C188.6 1574.9 192.6 1574.2 196.6 1571.6S204.6 1564.2 208.6 1554.8S216.6 1530.8 220.5 1514.3S228.5 1479.9 232.5 1470.5S240.5 1461.1 244.5 1470.5S252.5 1497.8 256.5 1514.3S264.5 1545.4 268.5 1554.8S276.4 1569 280.4 1571.6S288.4 1574.9 292.4 1575.3" stroke="#808000"/>
<path d="M166.4 1575.3C170.8 1574.9 175.3 1574.3 179.7 1571.7S188.7 1564.4 193.1 1555.1S202.1 1531.5 206.5 1515.2S215.5 1481.3 219.9 1472S228.9 1462.7 233.3 1472S242.2 1498.9 246.7 1515.2S255.6 1545.9 260.1 1555.1S269 1569.1 273.5 1571.7S282.4 1574.9 286.9 1575.3" stroke="#40c040"/>
<path d="M171.3 1575.3C176.1 1574.9 180.8 1574.1 185.6 1571.4S195.2 1563.5 199.9 1553.5S209.5 1528.1 214.2 1510.5S223.8 1474 228.5 1464S238.1 1454 242.9 1464S252.4 1493 257.2 1510.5S266.7 1543.5 271.5 1553.5S281 1568.6 285.8 1571.4S295.3 1574.9 300.1 1575.3" stroke="#4040c0"/>
<path d="M146.5 1575.2C151.8 1574.8 157 1574 162.2 1571S172.7 1562.4 177.9 1551.5S188.4 1523.7 193.6 1504.5S204.1 1464.7 209.3 1453.8S219.8 1442.8 225 1453.8S235.5 1485.4 240.7 1504.5S251.2 1540.6 256.4 1551.5S266.9 1567.9 272.1 1571S282.6 1574.8 287.8 1575.2" stroke="#993366"/>
<path d="M180.6 1575.3C184.5 1574.9 188.4 1574.1 192.4 1571.4S200.2 1563.5 204.1 1553.5S211.9 1528.1 215.9 1510.6S223.7 1474.1 227.6 1464.1S235.4 1454.1 239.4 1464.1S247.2 1493 251.1 1510.6S259 1543.6 262.9 1553.5S270.7 1568.6 274.6 1571.4S282.5 1574.9 286.4 1575.3" stroke="#4040c0"/>
<path d="M151.1 1575.2C156.5 1574.7 161.8 1573.9 167.1 1570.6S177.8 1561.5 183.2 1549.9S193.9 1520.3 199.2 1499.9S209.9 1457.5 215.2 1445.9S225.9 1434.2 231.3 1445.9S242 1479.5 247.3 1499.9S258 1538.3 263.3 1549.9S274 1567.4 279.4 1570.6S290 1574.7 295.4 1575.2" stroke="#008080"/>
<path d="M175.8 1575.2C179.6 1574.7 183.3 1573.9 187.1 1570.8S194.6 1561.9 198.3 1550.6S205.8 1521.7 209.6 1501.8S217.1 1460.5 220.8 1449.1S228.3 1437.8 232.1 1449.1S239.6 1481.9 243.3 1501.8S250.8 1539.2 254.6 1550.6S262.1 1567.6 265.8 1570.8S273.3 1574.7 277.1 1575.2" stroke="#ff00ff"/>
<path d="M167 1575.4C170.9 1575 174.8 1574.4 178.6 1572.2S186.4 1565.7 190.3 1557.5S198 1536.6 201.9 1522.1S209.6 1492.2 213.5 1483.9S221.2 1475.7 225.1 1483.9S232.8 1507.7 236.7 1522.1S244.4 1549.3 248.3 1557.5S256 1569.9 259.9 1572.2S267.6 1575 271.5 1575.4" stroke="#ff8000"/>
<path d="M166.3 1575.4C171.3 1575 176.4 1574.4 181.5 1572.1S191.7 1565.6 196.8 1557.3S206.9 1536.1 212 1521.5S222.2 1491.2 227.2 1482.8S237.4 1474.5 242.5 1482.8S252.7 1506.9 257.7 1521.5S267.9 1549 273 1557.3S283.2 1569.8 288.2 1572.1S298.4 1575 303.5 1575.4" stroke="#8000ff"/>
<path d="M169.3 1575.3C173.9 1574.9 178.5 1574.3 183.1 1571.7S192.3 1564.3 196.8 1555S206 1531.2 210.6 1514.8S219.8 1480.7 224.3 1471.3S233.5 1461.9 238.1 1471.3S247.3 1498.4 251.8 1514.8S261 1545.7 265.6 1555S274.7 1569.1 279.3 1571.7S288.5 1574.9 293.1 1575.3" stroke="#00cccc"/>
<path d="M149.4 1575.2C154.3 1574.7 159.2 1573.9 164.1 1570.6S173.9 1561.5 178.9 1549.9S188.7 1520.4 193.6 1500S203.4 1457.6 208.3 1445.9S218.1 1434.3 223 1445.9S232.8 1479.6 237.7 1500S247.5 1538.3 252.4 1549.9S262.2 1567.4 267.1 1570.6S276.9 1574.7 281.8 1575.2" stroke="#0000ff"/>
<path d="M168.9 1575.2C173.3 1574.7 177.7 1573.8 182.1 1570.3S190.8 1560.7 195.2 1548.4S203.9 1517.1 208.3 1495.5S217.1 1450.7 221.4 1438.4S230.2 1426 234.6 1438.4S243.3 1473.9 247.7 1495.5S256.5 1536.1 260.8 1548.4S269.6 1566.9 274 1570.3S282.7 1574.7 287.1 1575.2" stroke="#cccc00"/>
<path d="M180.7 1575.4C184.7 1575 188.8 1574.4 192.8 1572S200.9 1565.2 205 1556.5S213.1 1534.5 217.1 1519.4S225.2 1487.8 229.3 1479.2S237.4 1470.5 241.4 1479.2S249.5 1504.2 253.6 1519.4S261.7 1547.9 265.7 1556.5S273.8 1569.6 277.9 1572S286 1575 290 1575.4" stroke="#800080"/>
<path d="M170.9 1575.2C175.1 1574.7 179.3 1573.9 183.5 1570.7S191.8 1561.7 196 1550.3S204.4 1521.2 208.6 1501.1S216.9 1459.4 221.1 1448S229.5 1436.5 233.7 1448S242 1481.1 246.2 1501.1S254.6 1538.9 258.8 1550.3S267.1 1567.5 271.3 1570.7S279.7 1574.7 283.8 1575.2" stroke="#404040"/>
<path d="M154.7 1575.4C160 1575 165.2 1574.4 170.4 1572.1S180.9 1565.7 186.1 1557.4S196.6 1536.5 201.8 1522S212.3 1491.9 217.5 1483.7S228 1475.4 233.2 1483.7S243.7 1507.5 248.9 1522S259.4 1549.2 264.6 1557.4S275.1 1569.9 280.3 1572.1S290.8 1575 296 1575.4" stroke="#008000"/>
<path d="M168.8 1575.2C173.8 1574.8 178.9 1574 184 1571S194.1 1562.4 199.1 1551.5S209.3 1523.7 214.3 1504.5S224.5 1464.6 229.5 1453.7S239.6 1442.7 244.7 1453.7S254.8 1485.3 259.9 1504.5S270 1540.6 275.1 1551.5S285.2 1567.9 290.3 1571S300.4 1574.8 305.4 1575.2" stroke="#ff0080"/>
<path d="M164.7 1575.2C169.2 1574.7 173.7 1573.8 178.2 1570.4S187.2 1560.8 191.7 1548.6S200.7 1517.5 205.2 1496.1S214.2 1451.5 218.7 1439.3S227.7 1427 232.2 1439.3S241.2 1474.6 245.7 1496.1S254.6 1536.4 259.1 1548.6S268.1 1567 272.6 1570.4S281.6 1574.7 286.1 1575.2" stroke="#404040"/>
<path d="M149.1 1575.3C154.2 1574.9 159.4 1574.1 164.6 1571.3S174.9 1563.3 180.1 1553.2S190.4 1527.3 195.6 1509.5S205.9 1472.4 211.1 1462.3S221.4 1452.1 226.6 1462.3S236.9 1491.7 242.1 1509.5S252.4 1543 257.6 1553.2S267.9 1568.5 273.1 1571.3S283.4 1574.9 288.6 1575.3" stroke="#669933"/>
<path d="M151.6 1575.4C156.7 1575.1 161.7 1574.5 166.7 1572.4S176.8 1566.5 181.8 1558.9S191.9 1539.5 196.9 1526.2S207 1498.5 212 1490.9S222.1 1483.3 227.1 1490.9S237.2 1512.9 242.2 1526.2S252.3 1551.3 257.3 1558.9S267.4 1570.3 272.4 1572.4S282.5 1575.1 287.5 1575.4" stroke="#ff00ff"/>
<path d="M167.1 1575.2C170.9 1574.8 174.7 1574 178.5 1571.1S186.2 1562.6 190 1552S197.6 1524.7 201.4 1505.9S209 1466.9 212.8 1456.1S220.5 1445.4 224.3 1456.1S231.9 1487.1 235.7 1505.9S243.3 1541.3 247.2 1552S254.8 1568.1 258.6 1571.1S266.2 1574.8 270 1575.2" stroke="#ff0000"/>
<path d="M161.1 1575.3C165.7 1574.8 170.2 1574.1 174.8 1571.3S184 1563.3 188.6 1553.1S197.8 1527.1 202.4 1509.2S211.6 1472 216.2 1461.8S225.4 1451.6 230 1461.8S239.2 1491.3 243.8 1509.2S253 1542.9 257.6 1553.1S266.7 1568.4 271.3 1571.3S280.5 1574.8 285.1 1575.3" stroke="#669933"/>
<path d="M163.1 1575.3C167.2 1574.8 171.2 1574.1 175.2 1571.2S183.3 1563 187.4 1552.6S195.5 1526.1 199.5 1507.8S207.6 1469.9 211.6 1459.4S219.7 1449 223.8 1459.4S231.8 1489.6 235.9 1507.8S244 1542.2 248 1552.6S256.1 1568.3 260.1 1571.2S268.2 1574.8 272.3 1575.3" stroke="#000080"/>
<path d="M156.6 1575.4C161 1575 165.4 1574.5 169.8 1572.2S178.7 1565.9 183.1 1557.8S191.9 1537.3 196.3 1523.1S205.1 1493.7 209.5 1485.6S218.3 1477.5 222.7 1485.6S231.6 1508.9 236 1523.1S244.8 1549.8 249.2 1557.8S258 1570 262.4 1572.2S271.2 1575 275.7 1575.4" stroke="#000000"/>
<path d="M181.5 1575.3C186.6 1575 191.7 1574.3 196.8 1571.8S207.1 1564.6 212.2 1555.6S222.5 1532.4 227.6 1516.5S237.8 1483.3 243 1474.2S253.2 1465.1 258.3 1474.2S268.6 1500.5 273.7 1516.5S284 1546.5 289.1 1555.6S299.3 1569.2 304.5 1571.8S314.7 1575 319.8 1575.3" stroke="#40c040"/>
<path d="M194.9 1575.4C199.5 1575.1 204.1 1574.5 208.7 1572.4S218 1566.3 222.6 1558.6S231.8 1538.9 236.4 1525.3S245.7 1497.1 250.3 1489.4S259.5 1481.6 264.1 1489.4S273.3 1511.8 278 1525.3S287.2 1550.9 291.8 1558.6S301 1570.2 305.6 1572.4S314.9 1575.1 319.5 1575.4" stroke="#000080"/>
<path d="M171 1575.4C176.2 1575.1 181.4 1574.6 186.6 1572.5S197 1566.7 202.2 1559.3S212.6 1540.4 217.8 1527.4S228.2 1500.4 233.4 1493S243.8 1485.6 249 1493S259.4 1514.4 264.6 1527.4S275 1551.9 280.2 1559.3S290.6 1570.5 295.8 1572.5S306.2 1575.1 311.4 1575.4" stroke="#808000"/>
<path d="M165.5 1575.3C171.6 1575 177.8 1574.3 184 1571.8S196.3 1564.8 202.5 1555.9S214.8 1533.2 221 1517.5S233.4 1485 239.5 1476S251.9 1467.1 258 1476S270.4 1501.8 276.6 1517.5S288.9 1547 295.1 1555.9S307.4 1569.4 313.6 1571.8S325.9 1575 332.1 1575.3" stroke="#000080"/>
<path d="M193.3 1575.3C197.9 1575 202.5 1574.3 207.1 1571.8S216.4 1564.7 221 1555.8S230.2 1532.8 234.8 1517.1S244.1 1484.2 248.7 1475.2S257.9 1466.2 262.6 1475.2S271.8 1501.3 276.4 1517.1S285.7 1546.8 290.3 1555.8S299.5 1569.3 304.2 1571.8S313.4 1575 318 1575.3" stroke="#ff8000"/>
<path d="M162.4 1575.5C167.5 1575.3 172.6 1574.9 177.8 1573.3S188 1568.9 193.1 1563.4S203.4 1549.1 208.5 1539.3S218.8 1518.9 223.9 1513.3S234.1 1507.7 239.2 1513.3S249.5 1529.5 254.6 1539.3S264.9 1557.8 270 1563.4S280.2 1571.8 285.4 1573.3S295.6 1575.3 300.7 1575.5" stroke="#00aa00"/>
<path d="M185.3 1575.4C189.9 1575.2 194.5 1574.7 199.2 1572.7S208.5 1567.3 213.1 1560.3S222.4 1542.6 227 1530.5S236.3 1505.1 241 1498.2S250.2 1491.2 254.9 1498.2S264.2 1518.3 268.8 1530.5S278.1 1553.4 282.7 1560.3S292 1570.8 296.7 1572.7S305.9 1575.2 310.6 1575.4" stroke="#800080"/>
<path d="M190.4 1575.3C194.9 1575 199.4 1574.3 203.9 1571.8S213 1564.7 217.5 1555.7S226.5 1532.8 231 1516.9S240.1 1484 244.6 1475S253.6 1466 258.2 1475S267.2 1501.1 271.7 1516.9S280.8 1546.7 285.3 1555.7S294.3 1569.3 298.8 1571.8S307.9 1575 312.4 1575.3" stroke="#993366"/>
<path d="M183.3 1575.5C188 1575.2 192.7 1574.7 197.4 1572.8S206.9 1567.6 211.6 1560.9S221.1 1544 225.8 1532.2S235.3 1507.9 240 1501.2S249.4 1494.5 254.2 1501.2S263.6 1520.5 268.3 1532.2S277.8 1554.3 282.5 1560.9S292 1571 296.7 1572.8S306.2 1575.2 310.9 1575.5" stroke="#00cccc"/>
<path d="M173.4 1575.5C179.6 1575.2 185.8 1574.8 192 1573.1S204.4 1568.4 210.6 1562.4S222.9 1547.1 229.1 1536.5S241.5 1514.5 247.7 1508.5S260.1 1502.4 266.3 1508.5S278.7 1525.9 284.9 1536.5S297.3 1556.4 303.5 1562.4S315.9 1571.5 322 1573.1S334.4 1575.2 340.6 1575.5" stroke="#008080"/>
<path d="M178.9 1575.5C184.5 1575.3 190.1 1574.8 195.7 1573.2S206.9 1568.7 212.5 1562.9S223.7 1548.3 229.3 1538.1S240.5 1517.1 246.1 1511.3S257.3 1505.5 262.9 1511.3S274.1 1528 279.7 1538.1S290.9 1557.2 296.5 1562.9S307.6 1571.6 313.2 1573.2S324.4 1575.3 330 1575.5" stroke="#808000"/>
<path d="M161.1 1575.4C166.3 1575.2 171.6 1574.6 176.9 1572.7S187.4 1567.2 192.7 1560.3S203.3 1542.6 208.6 1530.4S219.1 1505 224.4 1498S234.9 1491 240.2 1498S250.8 1518.1 256.1 1530.4S266.6 1553.4 271.9 1560.3S282.4 1570.8 287.7 1572.7S298.3 1575.2 303.5 1575.4" stroke="#800000"/>
<path d="M181 1575.5C185.4 1575.2 189.8 1574.7 194.2 1572.9S203 1567.7 207.3 1561S216.1 1544.2 220.5 1532.5S229.3 1508.3 233.7 1501.7S242.5 1495.1 246.9 1501.7S255.6 1520.9 260 1532.5S268.8 1554.4 273.2 1561S282 1571 286.4 1572.9S295.1 1575.2 299.5 1575.5" stroke="#008000"/>
<path d="M158.8 1575.4C164 1575.1 169.1 1574.6 174.2 1572.5S184.4 1566.6 189.6 1559.1S199.8 1540 204.9 1526.8S215.2 1499.5 220.3 1491.9S230.5 1484.4 235.6 1491.9S245.9 1513.7 251 1526.8S261.2 1551.6 266.3 1559.1S276.6 1570.4 281.7 1572.5S291.9 1575.1 297.1 1575.4" stroke="#000000"/>
<path d="M174.1 1575.4C178.9 1575.1 183.8 1574.6 188.6 1572.5S198.2 1566.8 203 1559.5S212.7 1540.8 217.5 1527.9S227.1 1501.1 231.9 1493.8S241.5 1486.4 246.4 1493.8S256 1515 260.8 1527.9S270.4 1552.1 275.3 1559.5S284.9 1570.5 289.7 1572.5S299.3 1575.1 304.1 1575.4" stroke="#00aa00"/>
<path d="M167.7 1575.3C172.4 1575 177.1 1574.3 181.7 1571.8S191.1 1564.6 195.8 1555.5S205.1 1532.3 209.8 1516.3S219.1 1483.1 223.8 1473.9S233.2 1464.8 237.8 1473.9S247.2 1500.3 251.9 1516.3S261.2 1546.4 265.9 1555.5S275.2 1569.2 279.9 1571.8S289.3 1575 293.9 1575.3" stroke="#0000ff"/>
<path d="M147.6 1575.5C153.7 1575.2 159.8 1574.8 165.9 1573S178.1 1568.1 184.2 1561.9S196.4 1545.9 202.5 1535S214.7 1512.2 220.8 1505.9S233 1499.6 239.1 1505.9S251.3 1524 257.4 1535S269.6 1555.6 275.7 1561.9S287.8 1571.3 293.9 1573S306.1 1575.2 312.2 1575.5" stroke="#ff00ff"/>
<path d="M167 1575.5C172.1 1575.3 177.2 1574.9 182.3 1573.3S192.5 1568.9 197.5 1563.3S207.7 1549 212.8 1539.1S222.9 1518.6 228 1512.9S238.2 1507.3 243.3 1512.9S253.4 1529.2 258.5 1539.1S268.7 1557.7 273.8 1563.3S283.9 1571.7 289 1573.3S299.2 1575.3 304.2 1575.5" stroke="#c0c040"/>
<path d="M191.6 1575.5C196.1 1575.2 200.6 1574.8 205.1 1573.1S214.1 1568.2 218.6 1562S227.7 1546.2 232.2 1535.4S241.2 1512.8 245.7 1506.5S254.7 1500.3 259.2 1506.5S268.2 1524.5 272.7 1535.4S281.8 1555.8 286.3 1562S295.3 1571.3 299.8 1573.1S308.8 1575.2 313.3 1575.5" stroke="#ff0080"/>
<path d="M185.7 1575.4C190.1 1575 194.4 1574.5 198.8 1572.2S207.6 1565.8 212 1557.7S220.7 1536.9 225.1 1522.6S233.9 1492.9 238.3 1484.7S247 1476.6 251.4 1484.7S260.2 1508.3 264.6 1522.6S273.3 1549.5 277.7 1557.7S286.5 1569.9 290.9 1572.2S299.6 1575 304 1575.4" stroke="#ff0000"/>
<path d="M169.9 1575.5C175.9 1575.3 182 1574.8 188.1 1573.2S200.2 1568.6 206.3 1562.7S218.5 1547.8 224.5 1537.5S236.7 1516.1 242.8 1510.3S254.9 1504.4 261 1510.3S273.1 1527.2 279.2 1537.5S291.3 1556.9 297.4 1562.7S309.6 1571.6 315.6 1573.2S327.8 1575.3 333.9 1575.5" stroke="#000080"/>
<path d="M176.8 1575.4C182.6 1575.1 188.5 1574.5 194.4 1572.3S206.2 1566.1 212 1558.3S223.8 1538.3 229.7 1524.5S241.4 1495.8 247.3 1488S259.1 1480.1 264.9 1488S276.7 1510.7 282.6 1524.5S294.3 1550.5 300.2 1558.3S311.9 1570.1 317.8 1572.3S329.6 1575.1 335.5 1575.4" stroke="#00aa00"/>
<path d="M181.9 1575.5C186.6 1575.2 191.4 1574.8 196.1 1573.1S205.6 1568.4 210.4 1562.4S219.9 1547 224.6 1536.4S234.1 1514.4 238.9 1508.3S248.4 1502.3 253.1 1508.3S262.6 1525.8 267.4 1536.4S276.9 1556.3 281.6 1562.4S291.1 1571.4 295.9 1573.1S305.4 1575.2 310.1 1575.5" stroke="#0000ff"/>
<path d="M169 1575.5C174.3 1575.2 179.7 1574.7 185 1572.9S195.7 1567.7 201.1 1561.2S211.8 1544.5 217.2 1533S227.9 1509.1 233.2 1502.6S243.9 1496 249.3 1502.6S260 1521.5 265.4 1533S276.1 1554.7 281.4 1561.2S292.1 1571.1 297.5 1572.9S308.2 1575.2 313.6 1575.5" stroke="#000080"/>
<path d="M169.7 1575.5C175.4 1575.3 181 1574.9 186.7 1573.5S198.1 1569.4 203.8 1564.1S215.1 1550.8 220.8 1541.6S232.2 1522.4 237.9 1517.2S249.3 1511.9 254.9 1517.2S266.3 1532.4 272 1541.6S283.4 1558.9 289 1564.1S300.4 1572 306.1 1573.5S317.5 1575.3 323.1 1575.5" stroke="#0000ff"/>
<path d="M195.3 1575.5C199.9 1575.2 204.4 1574.8 209 1573S218.2 1568.2 222.7 1562S231.9 1546.2 236.5 1535.3S245.6 1512.6 250.2 1506.4S259.3 1500.2 263.9 1506.4S273.1 1524.4 277.7 1535.3S286.8 1555.8 291.4 1562S300.5 1571.3 305.1 1573S314.3 1575.2 318.8 1575.5" stroke="#800080"/>
<path d="M184.2 1575.4C188.8 1575.1 193.4 1574.6 198 1572.5S207.3 1566.7 211.9 1559.3S221.2 1540.5 225.8 1527.5S235.1 1500.5 239.7 1493.1S248.9 1485.7 253.6 1493.1S262.8 1514.5 267.4 1527.5S276.7 1551.9 281.3 1559.3S290.6 1570.5 295.2 1572.5S304.5 1575.1 309.1 1575.4" stroke="#ff8000"/>
<path d="M176.2 1575.5C181.1 1575.3 186.1 1574.8 191 1573.2S200.8 1568.6 205.8 1562.8S215.6 1547.9 220.5 1537.7S230.4 1516.4 235.3 1510.5S245.1 1504.7 250.1 1510.5S259.9 1527.4 264.8 1537.7S274.7 1557 279.6 1562.8S289.5 1571.6 294.4 1573.2S304.2 1575.3 309.2 1575.5" stroke="#000000"/>
<path d="M200.7 1575.5C204.9 1575.3 209.1 1574.9 213.4 1573.5S221.8 1569.4 226.1 1564.2S234.5 1550.9 238.8 1541.8S247.3 1522.7 251.5 1517.5S260 1512.3 264.2 1517.5S272.7 1532.6 276.9 1541.8S285.4 1559 289.6 1564.2S298.1 1572 302.3 1573.5S310.8 1575.3 315 1575.5" stroke="#ff0080"/>
<path d="M174.2 1575.5C179.3 1575.3 184.5 1574.8 189.7 1573.2S200.1 1568.6 205.3 1562.7S215.7 1547.7 220.9 1537.3S231.3 1515.9 236.5 1510S246.8 1504.1 252 1510S262.4 1527 267.6 1537.3S278 1556.8 283.2 1562.7S293.6 1571.5 298.8 1573.2S309.1 1575.3 314.3 1575.5" stroke="#ff8000"/>
<path d="M161.7 1575.4C166.8 1575 171.9 1574.4 177 1572S187.2 1565.1 192.3 1556.5S202.6 1534.4 207.7 1519.2S217.9 1487.5 223 1478.9S233.2 1470.2 238.3 1478.9S248.5 1504 253.6 1519.2S263.8 1547.8 268.9 1556.5S279.1 1569.5 284.2 1572S294.4 1575 299.5 1575.4" stroke="#8000ff"/>
<path d="M160 1575.3C166.2 1575 172.4 1574.3 178.7 1571.8S191.1 1564.8 197.4 1555.8S209.8 1532.9 216 1517.2S228.5 1484.4 234.7 1475.4S247.2 1466.4 253.4 1475.4S265.9 1501.4 272.1 1517.2S284.6 1546.8 290.8 1555.8S303.3 1569.3 309.5 1571.8S322 1575 328.2 1575.3" stroke="#800080"/>
<path d="M182.1 1575.3C187 1574.9 191.9 1574.2 196.8 1571.6S206.7 1564.3 211.6 1554.9S221.4 1531 226.3 1514.5S236.1 1480.2 241.1 1470.8S250.9 1461.4 255.8 1470.8S265.6 1498 270.5 1514.5S280.4 1545.5 285.3 1554.9S295.1 1569 300 1571.6S309.9 1574.9 314.8 1575.3" stroke="#993366"/>
<path d="M165 1575.5C171.3 1575.3 177.6 1574.9 183.8 1573.3S196.4 1568.8 202.7 1563.2S215.2 1548.7 221.5 1538.8S234 1518.1 240.3 1512.4S252.8 1506.7 259.1 1512.4S271.6 1528.8 277.9 1538.8S290.5 1557.5 296.7 1563.2S309.3 1571.7 315.5 1573.3S328.1 1575.3 334.4 1575.5" stroke="#ff0000"/>
<path d="M178.7 1575.5C184.2 1575.3 189.7 1575 195.2 1573.5S206.2 1569.5 211.7 1564.4S222.7 1551.4 228.2 1542.4S239.2 1523.7 244.7 1518.6S255.8 1513.5 261.3 1518.6S272.3 1533.4 277.8 1542.4S288.8 1559.3 294.3 1564.4S305.3 1572.1 310.8 1573.5S321.9 1575.3 327.4 1575.5" stroke="#000080"/>
<path d="M165.1 1575.5C170.7 1575.3 176.3 1574.9 181.8 1573.4S193 1569.3 198.6 1564S209.8 1550.5 215.4 1541.2S226.6 1521.9 232.2 1516.6S243.4 1511.3 248.9 1516.6S260.1 1531.9 265.7 1541.2S276.9 1558.7 282.5 1564S293.7 1572 299.3 1573.4S310.4 1575.3 316 1575.5" stroke="#008080"/>
<path d="M189.4 1575.4C194.2 1575.1 199 1574.5 203.8 1572.2S213.3 1565.9 218.1 1557.9S227.7 1537.5 232.5 1523.5S242.1 1494.2 246.9 1486.2S256.4 1478.2 261.2 1486.2S270.8 1509.4 275.6 1523.5S285.2 1549.9 289.9 1557.9S299.5 1570 304.3 1572.2S313.9 1575.1 318.7 1575.4" stroke="#808000"/>
<path d="M186.7 1575.5C191.3 1575.3 195.9 1574.9 200.4 1573.5S209.6 1569.3 214.2 1564.1S223.4 1550.7 228 1541.5S237.1 1522.4 241.7 1517.1S250.9 1511.8 255.5 1517.1S264.6 1532.3 269.2 1541.5S278.4 1558.9 283 1564.1S292.1 1572 296.7 1573.5S305.9 1575.3 310.5 1575.5" stroke="#000080"/>
<path d="M157.1 1575.5C163.4 1575.2 169.6 1574.8 175.8 1573S188.2 1568.2 194.4 1562S206.8 1546.1 213.1 1535.2S225.5 1512.5 231.7 1506.3S244.1 1500.1 250.3 1506.3S262.8 1524.3 269 1535.2S281.4 1555.8 287.6 1562S300 1571.3 306.3 1573S318.7 1575.2 324.9 1575.5" stroke="#404040"/>
<path d="M155.6 1575.5C161.7 1575.3 167.7 1574.9 173.8 1573.5S185.9 1569.4 191.9 1564.2S204 1551 210.1 1541.8S222.2 1522.8 228.2 1517.6S240.3 1512.4 246.3 1517.6S258.4 1532.7 264.5 1541.8S276.6 1559 282.6 1564.2S294.7 1572 300.8 1573.5S312.9 1575.3 318.9 1575.5" stroke="#cccc00"/>
<path d="M217.8 1575.4C221.3 1575.2 224.8 1574.7 228.3 1572.7S235.4 1567.3 238.9 1560.3S245.9 1542.6 249.4 1530.4S256.4 1505.1 260 1498.1S267 1491.1 270.5 1498.1S277.5 1518.2 281 1530.4S288 1553.4 291.6 1560.3S298.6 1570.8 302.1 1572.7S309.1 1575.2 312.6 1575.4" stroke="#8000ff"/>
<path d="M218.7 1575.3C222 1574.9 225.3 1574.2 228.7 1571.4S235.3 1563.7 238.7 1553.9S245.3 1528.8 248.7 1511.5S255.3 1475.6 258.7 1465.7S265.3 1455.9 268.6 1465.7S275.3 1494.2 278.6 1511.5S285.3 1544 288.6 1553.9S295.3 1568.7 298.6 1571.4S305.3 1574.9 308.6 1575.3" stroke="#669933"/>
<path d="M216 1575.4C219.1 1575 222.2 1574.5 225.4 1572.2S231.6 1565.8 234.7 1557.7S241 1537.1 244.1 1522.8S250.3 1493.2 253.4 1485.1S259.7 1477 262.8 1485.1S269 1508.6 272.1 1522.8S278.4 1549.6 281.5 1557.7S287.7 1569.9 290.8 1572.2S297.1 1575 300.2 1575.4" stroke="#008080"/>
<path d="M224 1575.4C227.4 1575 230.8 1574.4 234.2 1571.9S241 1565.1 244.4 1556.5S251.2 1534.3 254.6 1519.1S261.4 1487.4 264.8 1478.7S271.6 1470 275 1478.7S281.8 1503.8 285.2 1519.1S292 1547.8 295.4 1556.5S302.2 1569.5 305.6 1571.9S312.4 1575 315.8 1575.4" stroke="#4040c0"/>
<path d="M212.6 1575.3C216.3 1574.9 220 1574.2 223.8 1571.6S231.2 1564.1 234.9 1554.6S242.3 1530.3 246 1513.5S253.4 1478.8 257.1 1469.2S264.6 1459.7 268.3 1469.2S275.7 1496.8 279.4 1513.5S286.8 1545 290.5 1554.6S298 1568.9 301.7 1571.6S309.1 1574.9 312.8 1575.3" stroke="#669933"/>
<path d="M206.4 1575.2C210.5 1574.8 214.5 1574 218.6 1571S226.7 1562.4 230.7 1551.5S238.8 1523.8 242.9 1504.7S251 1464.9 255.1 1454S263.2 1443.1 267.2 1454S275.3 1485.6 279.4 1504.7S287.5 1540.7 291.6 1551.5S299.7 1567.9 303.7 1571S311.8 1574.8 315.9 1575.2" stroke="#40c040"/>
<path d="M207.5 1575.4C211.8 1575 216.1 1574.4 220.5 1572.1S229.1 1565.5 233.4 1557.1S242.1 1535.8 246.4 1521S255.1 1490.4 259.4 1482S268 1473.6 272.4 1482S281 1506.3 285.3 1521S294 1548.7 298.3 1557.1S307 1569.7 311.3 1572.1S319.9 1575 324.3 1575.4" stroke="#00cccc"/>
<path d="M220.7 1575.3C223.9 1574.9 227 1574.2 230.2 1571.5S236.6 1563.9 239.8 1554.2S246.2 1529.6 249.4 1512.6S255.8 1477.3 259 1467.6S265.3 1457.9 268.5 1467.6S274.9 1495.6 278.1 1512.6S284.5 1544.6 287.7 1554.2S294.1 1568.8 297.3 1571.5S303.7 1574.9 306.8 1575.3" stroke="#993366"/>
<path d="M222.2 1575.3C226.2 1574.9 230.2 1574.2 234.2 1571.5S242.2 1563.9 246.1 1554.2S254.1 1529.4 258.1 1512.3S266.1 1476.9 270.1 1467.2S278 1457.4 282 1467.2S290 1495.3 294 1512.3S302 1544.5 305.9 1554.2S313.9 1568.8 317.9 1571.5S325.9 1574.9 329.9 1575.3" stroke="#ff0080"/>
<path d="M211.2 1575.3C214.9 1574.9 218.5 1574.3 222.2 1571.7S229.6 1564.4 233.2 1555.2S240.6 1531.6 244.3 1515.3S251.6 1481.5 255.3 1472.3S262.7 1463 266.3 1472.3S273.7 1499.1 277.4 1515.3S284.7 1545.9 288.4 1555.2S295.8 1569.1 299.4 1571.7S306.8 1574.9 310.5 1575.3" stroke="#000000"/>
<path d="M218 1575.3C222.2 1574.9 226.4 1574.2 230.6 1571.6S239 1564.1 243.2 1554.6S251.6 1530.3 255.8 1513.6S264.2 1478.8 268.4 1469.3S276.8 1459.7 281 1469.3S289.4 1496.9 293.6 1513.6S302 1545.1 306.2 1554.6S314.6 1568.9 318.8 1571.6S327.2 1574.9 331.4 1575.3" stroke="#c0c040"/>
<path d="M235.3 1575.3C238.4 1574.9 241.6 1574.2 244.7 1571.5S250.9 1563.8 254 1554S260.2 1529.1 263.3 1511.9S269.6 1476.2 272.7 1466.4S278.9 1456.6 282 1466.4S288.2 1494.7 291.3 1511.9S297.6 1544.2 300.7 1554S306.9 1568.7 310 1571.5S316.2 1574.9 319.4 1575.3" stroke="#ff0000"/>
<path d="M218.3 1575.4C221.5 1575 224.6 1574.4 227.7 1572S234 1565.3 237.2 1556.8S243.4 1535 246.6 1520S252.9 1488.9 256 1480.3S262.3 1471.8 265.4 1480.3S271.7 1505 274.8 1520S281.1 1548.3 284.2 1556.8S290.5 1569.6 293.7 1572S299.9 1575 303.1 1575.4" stroke="#ff8000"/>
<path d="M217.4 1575.3C221.3 1574.9 225.1 1574.2 229 1571.5S236.7 1563.9 240.5 1554.2S248.2 1529.4 252 1512.3S259.7 1476.9 263.5 1467.1S271.2 1457.4 275.1 1467.1S282.7 1495.3 286.6 1512.3S294.3 1544.4 298.1 1554.2S305.8 1568.8 309.6 1571.5S317.3 1574.9 321.2 1575.3" stroke="#c0c040"/>
<path d="M214.2 1575.4C217.8 1575 221.4 1574.5 225 1572.2S232.2 1565.8 235.9 1557.7S243.1 1537.1 246.7 1522.8S253.9 1493.2 257.5 1485.1S264.8 1477 268.4 1485.1S275.6 1508.6 279.2 1522.8S286.4 1549.6 290.1 1557.7S297.3 1569.9 300.9 1572.2S308.1 1575 311.7 1575.4" stroke="#00aa00"/>
<path d="M222.9 1575.3C226.7 1574.9 230.4 1574.3 234.1 1571.7S241.5 1564.5 245.3 1555.4S252.7 1532 256.4 1515.9S263.8 1482.5 267.6 1473.3S275 1464.1 278.7 1473.3S286.2 1499.8 289.9 1515.9S297.3 1546.2 301 1555.4S308.5 1569.2 312.2 1571.7S319.6 1574.9 323.3 1575.3" stroke="#c0c040"/>
<path d="M219.6 1575.3C223.2 1574.8 226.8 1574.1 230.5 1571.3S237.7 1563.2 241.4 1553S248.6 1526.9 252.3 1508.9S259.6 1471.6 263.2 1461.3S270.5 1451 274.1 1461.3S281.4 1490.9 285 1508.9S292.3 1542.8 295.9 1553S303.2 1568.4 306.8 1571.3S314.1 1574.8 317.7 1575.3" stroke="#00aa00"/>
<path d="M220.9 1575.4C224.9 1575.1 228.9 1574.5 232.9 1572.3S241 1566 245 1558S253 1537.7 257 1523.7S265.1 1494.5 269.1 1486.5S277.1 1478.5 281.1 1486.5S289.2 1509.7 293.2 1523.7S301.2 1550.1 305.2 1558S313.3 1570 317.3 1572.3S325.3 1575.1 329.4 1575.4" stroke="#808000"/>
<path d="M223.5 1575.2C227.2 1574.7 230.8 1573.9 234.5 1570.8S241.8 1562 245.5 1550.7S252.8 1522.1 256.5 1502.3S263.8 1461.2 267.5 1449.9S274.8 1438.7 278.5 1449.9S285.8 1482.5 289.5 1502.3S296.8 1539.5 300.4 1550.7S307.8 1567.7 311.4 1570.8S318.8 1574.7 322.4 1575.2" stroke="#008080"/>
<path d="M213.9 1575.2C217.3 1574.8 220.6 1574 224 1570.9S230.8 1562.3 234.2 1551.4S240.9 1523.4 244.3 1504.2S251.1 1464.2 254.5 1453.2S261.2 1442.2 264.6 1453.2S271.4 1484.9 274.8 1504.2S281.6 1540.4 284.9 1551.4S291.7 1567.9 295.1 1570.9S301.9 1574.8 305.2 1575.2" stroke="#ff0000"/>
<path d="M228.6 1575.3C231.7 1574.9 234.8 1574.2 237.9 1571.5S244.1 1563.8 247.2 1554S253.4 1529.1 256.5 1511.9S262.7 1476.2 265.8 1466.4S272 1456.6 275.1 1466.4S281.3 1494.7 284.4 1511.9S290.6 1544.2 293.7 1554S299.9 1568.7 303.1 1571.5S309.3 1574.9 312.4 1575.3" stroke="#00cccc"/>
<path d="M211.6 1575.3C215.6 1574.9 219.5 1574.2 223.4 1571.4S231.3 1563.7 235.2 1553.9S243.1 1528.9 247 1511.6S254.9 1475.8 258.8 1466S266.7 1456.1 270.6 1466S278.5 1494.4 282.4 1511.6S290.3 1544.1 294.2 1553.9S302.1 1568.7 306 1571.4S313.9 1574.9 317.8 1575.3" stroke="#40c040"/>
<path d="M227.9 1575.4C231 1575.1 234.1 1574.6 237.2 1572.7S243.3 1567.2 246.4 1560.2S252.6 1542.4 255.6 1530.1S261.8 1504.5 264.9 1497.5S271 1490.5 274.1 1497.5S280.3 1517.8 283.3 1530.1S289.5 1553.2 292.6 1560.2S298.7 1570.7 301.8 1572.7S308 1575.1 311.1 1575.4" stroke="#000080"/>
<path d="M233.3 1575.4C236.5 1575.1 239.8 1574.6 243.1 1572.5S249.7 1566.7 253 1559.4S259.6 1540.5 262.9 1527.6S269.5 1500.6 272.7 1493.2S279.3 1485.8 282.6 1493.2S289.2 1514.6 292.5 1527.6S299.1 1552 302.4 1559.4S308.9 1570.5 312.2 1572.5S318.8 1575.1 322.1 1575.4" stroke="#8000ff"/>
<path d="M215 1575.3C218.6 1574.9 222.2 1574.3 225.8 1571.7S233.1 1564.5 236.7 1555.2S244 1531.7 247.6 1515.5S254.8 1481.9 258.5 1472.6S265.7 1463.4 269.3 1472.6S276.6 1499.3 280.2 1515.5S287.4 1546 291.1 1555.2S298.3 1569.1 301.9 1571.7S309.2 1574.9 312.8 1575.3" stroke="#ff8000"/>
<path d="M223.1 1575.2C226.8 1574.7 230.5 1573.9 234.3 1570.8S241.8 1561.9 245.5 1550.6S253 1521.7 256.7 1501.8S264.2 1460.4 267.9 1449.1S275.4 1437.7 279.1 1449.1S286.6 1481.9 290.3 1501.8S297.8 1539.2 301.6 1550.6S309 1567.6 312.8 1570.8S320.2 1574.7 324 1575.2" stroke="#800080"/>
<path d="M222.5 1575.5C225.5 1575.2 228.6 1574.7 231.6 1572.8S237.7 1567.6 240.7 1561S246.8 1544 249.8 1532.3S255.9 1508 258.9 1501.3S265 1494.6 268 1501.3S274.1 1520.6 277.1 1532.3S283.2 1554.3 286.2 1561S292.3 1571 295.3 1572.8S301.4 1575.2 304.4 1575.5" stroke="#ff8000"/>
<path d="M167.2 1575.6C172.3 1575.4 177.4 1575 182.5 1573.7S192.6 1569.9 197.7 1565.2S207.9 1553.1 213 1544.7S223.1 1527.3 228.2 1522.5S238.4 1517.8 243.5 1522.5S253.6 1536.3 258.7 1544.7S268.9 1560.4 274 1565.2S284.1 1572.4 289.2 1573.7S299.4 1575.4 304.5 1575.6" stroke="#000080"/>
<path d="M178.5 1575.5C183.5 1575.2 188.4 1574.7 193.4 1572.9S203.3 1567.7 208.2 1561.2S218.1 1544.4 223.1 1532.9S233 1508.9 237.9 1502.3S247.8 1495.7 252.8 1502.3S262.7 1521.3 267.6 1532.9S277.5 1554.6 282.5 1561.2S292.4 1571.1 297.3 1572.9S307.2 1575.2 312.2 1575.5" stroke="#00aa00"/>
<path d="M196 1575.6C200.1 1575.5 204.2 1575.3 208.3 1574.4S216.5 1571.9 220.6 1568.8S228.8 1560.8 232.9 1555.2S241.1 1543.7 245.2 1540.6S253.4 1537.4 257.5 1540.6S265.6 1549.7 269.7 1555.2S277.9 1565.6 282 1568.8S290.2 1573.5 294.3 1574.4S302.5 1575.5 306.6 1575.6" stroke="#008000"/>
<path d="M182.7 1575.5C186.7 1575.2 190.8 1574.8 194.9 1573.1S203 1568.2 207.1 1562.1S215.2 1546.4 219.3 1535.6S227.4 1513.2 231.5 1507S239.6 1500.9 243.6 1507S251.8 1524.8 255.8 1535.6S264 1556 268 1562.1S276.2 1571.4 280.2 1573.1S288.4 1575.2 292.4 1575.5" stroke="#0000ff"/>
<path d="M189.2 1575.6C194 1575.5 198.9 1575.2 203.8 1574.2S213.6 1571.4 218.4 1567.9S228.2 1558.9 233.1 1552.6S242.8 1539.7 247.7 1536.1S257.5 1532.6 262.4 1536.1S272.1 1546.4 277 1552.6S286.8 1564.4 291.6 1567.9S301.4 1573.2 306.3 1574.2S316 1575.5 320.9 1575.6" stroke="#8000ff"/>
<path d="M178.2 1575.6C183.2 1575.5 188.2 1575.3 193.2 1574.4S203.2 1571.8 208.1 1568.6S218.1 1560.4 223.1 1554.7S233.1 1542.9 238.1 1539.7S248.1 1536.5 253 1539.7S263 1549 268 1554.7S278 1565.4 283 1568.6S293 1573.5 298 1574.4S307.9 1575.5 312.9 1575.6" stroke="#c0c040"/>
<path d="M202.9 1575.6C206.1 1575.4 209.4 1575.2 212.7 1574.1S219.3 1571.1 222.6 1567.2S229.2 1557.4 232.5 1550.6S239.1 1536.5 242.4 1532.6S248.9 1528.8 252.2 1532.6S258.8 1543.8 262.1 1550.6S268.7 1563.3 272 1567.2S278.6 1573 281.9 1574.1S288.5 1575.4 291.7 1575.6" stroke="#008000"/>
<path d="M195.2 1575.6C198.9 1575.5 202.6 1575.3 206.2 1574.4S213.6 1572 217.3 1569S224.7 1561.2 228.4 1555.8S235.8 1544.7 239.5 1541.6S246.9 1538.5 250.6 1541.6S257.9 1550.4 261.6 1555.8S269 1565.9 272.7 1569S280.1 1573.6 283.8 1574.4S291.2 1575.5 294.9 1575.6" stroke="#800000"/>
<path d="M212.6 1575.5C215.9 1575.2 219.1 1574.8 222.4 1573S228.9 1568.1 232.1 1561.9S238.6 1546 241.9 1535.1S248.4 1512.3 251.6 1506.1S258.1 1499.9 261.4 1506.1S267.9 1524.1 271.1 1535.1S277.6 1555.7 280.9 1561.9S287.4 1571.3 290.6 1573S297.1 1575.2 300.4 1575.5" stroke="#cccc00"/>
<path d="M206.7 1575.5C210.3 1575.2 213.9 1574.7 217.5 1572.9S224.7 1567.8 228.3 1561.3S235.5 1544.7 239.1 1533.3S246.3 1509.5 249.9 1503S257.1 1496.5 260.7 1503S268 1521.9 271.6 1533.3S278.8 1554.8 282.4 1561.3S289.6 1571.1 293.2 1572.9S300.4 1575.2 304 1575.5" stroke="#008000"/>
<path d="M170.4 1575.6C175.2 1575.4 180 1575.1 184.8 1573.9S194.5 1570.6 199.3 1566.3S209 1555.5 213.8 1548S223.4 1532.5 228.2 1528.3S237.9 1524 242.7 1528.3S252.4 1540.6 257.2 1548S266.8 1562.1 271.6 1566.3S281.3 1572.7 286.1 1573.9S295.8 1575.4 300.6 1575.6" stroke="#00aa00"/>
<path d="M196.3 1575.6C199.9 1575.4 203.4 1575.1 207 1573.8S214.2 1570.4 217.7 1566S224.9 1554.7 228.5 1547S235.6 1530.8 239.2 1526.4S246.3 1522 249.9 1526.4S257.1 1539.2 260.6 1547S267.8 1561.6 271.3 1566S278.5 1572.6 282.1 1573.8S289.2 1575.4 292.8 1575.6" stroke="#ff0000"/>
<path d="M182.9 1575.7C187.3 1575.5 191.7 1575.3 196 1574.6S204.8 1572.4 209.2 1569.7S218 1562.7 222.4 1557.8S231.1 1547.8 235.5 1545S244.3 1542.3 248.7 1545S257.4 1553 261.8 1557.8S270.6 1566.9 275 1569.7S283.7 1573.8 288.1 1574.6S296.9 1575.5 301.3 1575.7" stroke="#4040c0"/>
<path d="M214.2 1575.6C217.7 1575.5 221.3 1575.2 224.8 1574.2S231.9 1571.3 235.5 1567.7S242.6 1558.5 246.2 1552.1S253.3 1538.9 256.8 1535.2S263.9 1531.6 267.5 1535.2S274.6 1545.7 278.2 1552.1S285.3 1564.1 288.8 1567.7S295.9 1573.2 299.5 1574.2S306.6 1575.5 310.1 1575.6" stroke="#ff0080"/>
<path d="M180.5 1575.5C185.1 1575.2 189.8 1574.8 194.4 1573.2S203.7 1568.5 208.3 1562.6S217.6 1547.4 222.3 1537S231.5 1515.3 236.2 1509.4S245.5 1503.4 250.1 1509.4S259.4 1526.6 264.1 1537S273.3 1556.6 278 1562.6S287.3 1571.5 291.9 1573.2S301.2 1575.2 305.9 1575.5" stroke="#0000a0"/>
<path d="M202.3 1575.5C206.6 1575.2 210.9 1574.8 215.2 1573.1S223.9 1568.3 228.2 1562.2S236.8 1546.6 241.1 1535.9S249.8 1513.6 254.1 1507.4S262.7 1501.3 267.1 1507.4S275.7 1525.1 280 1535.9S288.7 1556.1 293 1562.2S301.6 1571.4 306 1573.1S314.6 1575.2 318.9 1575.5" stroke="#404040"/>
<path d="M208.5 1575.5C211.6 1575.3 214.7 1574.9 217.8 1573.3S224 1568.8 227.1 1563.1S233.3 1548.6 236.4 1538.5S242.6 1517.7 245.7 1512S251.9 1506.3 255 1512S261.2 1528.5 264.3 1538.5S270.5 1557.4 273.6 1563.1S279.8 1571.7 282.9 1573.3S289.1 1575.3 292.2 1575.5" stroke="#336699"/>
<path d="M201.7 1575.5C205 1575.3 208.3 1574.9 211.6 1573.5S218.1 1569.4 221.4 1564.1S228 1550.8 231.3 1541.6S237.9 1522.4 241.1 1517.2S247.7 1511.9 251 1517.2S257.6 1532.4 260.9 1541.6S267.4 1558.9 270.7 1564.1S277.3 1572 280.6 1573.5S287.2 1575.3 290.5 1575.5" stroke="#800080"/>
<path d="M192.3 1575.5C196.5 1575.2 200.6 1574.7 204.8 1572.9S213.1 1567.7 217.2 1561.2S225.5 1544.5 229.7 1533S238 1509.1 242.1 1502.5S250.4 1495.9 254.6 1502.5S262.9 1521.5 267 1533S275.3 1554.7 279.5 1561.2S287.8 1571.1 292 1572.9S300.3 1575.2 304.4 1575.5" stroke="#ff00ff"/>
<path d="M199.1 1575.6C202.7 1575.4 206.3 1575.1 209.9 1574S217.2 1570.8 220.8 1566.8S228 1556.5 231.7 1549.4S238.9 1534.6 242.5 1530.6S249.8 1526.5 253.4 1530.6S260.6 1542.3 264.3 1549.4S271.5 1562.8 275.1 1566.8S282.4 1572.9 286 1574S293.2 1575.4 296.8 1575.6" stroke="#336699"/>
<path d="M204.2 1575.5C208 1575.3 211.9 1574.9 215.7 1573.4S223.4 1569.1 227.3 1563.7S235 1550 238.8 1540.5S246.5 1520.7 250.4 1515.3S258.1 1509.9 261.9 1515.3S269.6 1531 273.4 1540.5S281.1 1558.3 285 1563.7S292.7 1571.9 296.5 1573.4S304.2 1575.3 308.1 1575.5" stroke="#808000"/>
<path d="M191.1 1575.5C194.9 1575.3 198.7 1575 202.6 1573.6S210.2 1569.7 214 1564.7S221.7 1552 225.5 1543.2S233.1 1525 237 1520S244.6 1515 248.4 1520S256.1 1534.5 259.9 1543.2S267.6 1559.7 271.4 1564.7S279 1572.2 282.9 1573.6S290.5 1575.3 294.3 1575.5" stroke="#ff00ff"/>
<path d="M198.6 1575.7C202.6 1575.5 206.7 1575.3 210.7 1574.5S218.8 1572.3 222.8 1569.4S230.9 1562.2 235 1557.1S243.1 1546.7 247.1 1543.8S255.2 1541 259.3 1543.8S267.4 1552.1 271.4 1557.1S279.5 1566.6 283.6 1569.4S291.6 1573.7 295.7 1574.5S303.8 1575.5 307.8 1575.7" stroke="#8000ff"/>
<path d="M200.5 1575.6C204.2 1575.4 207.9 1575.1 211.6 1573.8S218.9 1570.2 222.6 1565.7S230 1554.2 233.7 1546.2S241.1 1529.7 244.8 1525.2S252.2 1520.6 255.9 1525.2S263.3 1538.3 267 1546.2S274.4 1561.2 278.1 1565.7S285.5 1572.5 289.2 1573.8S296.5 1575.4 300.2 1575.6" stroke="#669933"/>
<path d="M201.4 1575.6C204.8 1575.5 208.2 1575.3 211.6 1574.4S218.4 1571.9 221.8 1568.8S228.6 1560.8 232 1555.3S238.8 1543.8 242.2 1540.7S249 1537.5 252.4 1540.7S259.2 1549.8 262.6 1555.3S269.4 1565.7 272.8 1568.8S279.6 1573.5 283 1574.4S289.8 1575.5 293.2 1575.6" stroke="#00aa00"/>
<path d="M189.3 1575.5C193 1575.3 196.7 1575 200.3 1573.6S207.7 1569.7 211.3 1564.7S218.7 1552 222.3 1543.3S229.7 1525.1 233.3 1520.1S240.7 1515.1 244.3 1520.1S251.7 1534.5 255.3 1543.3S262.7 1559.7 266.3 1564.7S273.7 1572.2 277.3 1573.6S284.7 1575.3 288.3 1575.5" stroke="#008000"/>
<path d="M175.8 1575.5C180.7 1575.3 185.5 1575 190.4 1573.6S200.1 1569.6 205 1564.6S214.7 1551.7 219.5 1542.9S229.3 1524.5 234.1 1519.4S243.8 1514.4 248.7 1519.4S258.4 1534 263.3 1542.9S273 1559.5 277.8 1564.6S287.6 1572.2 292.4 1573.6S302.1 1575.3 307 1575.5" stroke="#336699"/>
<path d="M138.9 1575.4C146.2 1575.2 153.6 1574.7 160.9 1572.7S175.6 1567.3 182.9 1560.5S197.6 1542.9 204.9 1530.8S219.6 1505.7 226.9 1498.8S241.6 1491.8 248.9 1498.8S263.6 1518.7 270.9 1530.8S285.6 1553.6 292.9 1560.5S307.6 1570.8 314.9 1572.7S329.6 1575.2 336.9 1575.4" stroke="#cccc00"/>
<path d="M137.3 1575.5C143.4 1575.2 149.5 1574.7 155.7 1572.8S167.9 1567.5 174 1560.8S186.2 1543.6 192.3 1531.7S204.5 1507.1 210.6 1500.3S222.8 1493.6 228.9 1500.3S241.1 1519.9 247.2 1531.7S259.4 1554 265.6 1560.8S277.8 1570.9 283.9 1572.8S296.1 1575.2 302.2 1575.5" stroke="#000080"/>
<path d="M129.4 1575.4C136.7 1575.2 143.9 1574.7 151.1 1572.8S165.6 1567.4 172.8 1560.6S187.3 1543.2 194.5 1531.3S209 1506.4 216.2 1499.6S230.6 1492.7 237.9 1499.6S252.3 1519.3 259.6 1531.3S274 1553.8 281.2 1560.6S295.7 1570.9 302.9 1572.8S317.4 1575.2 324.6 1575.4" stroke="#ff0080"/>
<path d="M142.9 1575.4C149.3 1575 155.7 1574.4 162 1572.1S174.8 1565.5 181.2 1557.1S194 1535.7 200.3 1520.9S213.1 1490.2 219.5 1481.8S232.2 1473.4 238.6 1481.8S251.4 1506.1 257.8 1520.9S270.5 1548.7 276.9 1557.1S289.7 1569.7 296.1 1572.1S308.8 1575 315.2 1575.4" stroke="#000080"/>
<path d="M142.3 1575.4C149.4 1575.2 156.6 1574.7 163.8 1572.7S178.1 1567.3 185.2 1560.4S199.5 1542.9 206.7 1530.8S221 1505.6 228.2 1498.7S242.5 1491.8 249.6 1498.7S263.9 1518.7 271.1 1530.8S285.4 1553.6 292.5 1560.4S306.9 1570.8 314 1572.7S328.3 1575.2 335.5 1575.4" stroke="#0000a0"/>
<path d="M138.9 1575.4C146.4 1575 154 1574.4 161.6 1572.1S176.7 1565.5 184.3 1557.2S199.4 1535.9 207 1521.2S222.1 1490.7 229.6 1482.3S244.8 1473.9 252.3 1482.3S267.5 1506.5 275 1521.2S290.1 1548.8 297.7 1557.2S312.8 1569.8 320.4 1572.1S335.5 1575 343.1 1575.4" stroke="#000000"/>
<path d="M111.1 1575.4C118.5 1575.1 125.9 1574.6 133.2 1572.7S148 1567.2 155.3 1560.2S170.1 1542.3 177.4 1529.9S192.2 1504.3 199.5 1497.3S214.3 1490.2 221.6 1497.3S236.4 1517.6 243.7 1529.9S258.5 1553.1 265.8 1560.2S280.6 1570.7 287.9 1572.7S302.7 1575.1 310 1575.4" stroke="#8000ff"/>
<path d="M158.8 1575.4C164.9 1575.1 171.1 1574.6 177.2 1572.6S189.4 1566.9 195.6 1559.7S207.8 1541.3 213.9 1528.6S226.2 1502.2 232.3 1495S244.6 1487.7 250.7 1495S263 1515.9 269.1 1528.6S281.3 1552.5 287.5 1559.7S299.7 1570.6 305.8 1572.6S318.1 1575.1 324.2 1575.4" stroke="#ff0080"/>
<path d="M150.4 1575.3C156.9 1575 163.3 1574.4 169.7 1571.9S182.6 1565 189.1 1556.3S201.9 1534 208.4 1518.7S221.3 1486.7 227.7 1478S240.6 1469.2 247 1478S259.9 1503.3 266.3 1518.7S279.2 1547.6 285.7 1556.3S298.5 1569.5 305 1571.9S317.9 1575 324.3 1575.3" stroke="#0000ff"/>
<path d="M109.6 1575.5C117.4 1575.2 125.1 1574.8 132.8 1573.1S148.3 1568.2 156.1 1562.1S171.6 1546.4 179.3 1535.6S194.8 1513.1 202.5 1506.9S218 1500.7 225.7 1506.9S241.2 1524.7 249 1535.6S264.5 1555.9 272.2 1562.1S287.7 1571.3 295.4 1573.1S310.9 1575.2 318.6 1575.5" stroke="#0000ff"/>
<path d="M143.9 1575.4C151.1 1575.1 158.2 1574.5 165.4 1572.3S179.7 1566 186.8 1558.1S201.2 1537.8 208.3 1523.8S222.6 1494.8 229.8 1486.8S244.1 1478.8 251.3 1486.8S265.6 1509.8 272.7 1523.8S287.1 1550.1 294.2 1558.1S308.5 1570.1 315.7 1572.3S330 1575.1 337.2 1575.4" stroke="#669933"/>
<path d="M139 1575.5C146.4 1575.2 153.8 1574.8 161.2 1573.2S176 1568.5 183.4 1562.5S198.2 1547.4 205.6 1536.9S220.3 1515.2 227.7 1509.3S242.5 1503.3 249.9 1509.3S264.7 1526.5 272.1 1536.9S286.9 1556.6 294.2 1562.5S309 1571.5 316.4 1573.2S331.2 1575.2 338.6 1575.5" stroke="#000000"/>
<path d="M131.4 1575.5C139.1 1575.2 146.7 1574.7 154.4 1573S169.7 1567.9 177.3 1561.5S192.6 1545.2 200.3 1533.9S215.6 1510.5 223.2 1504.1S238.5 1497.6 246.1 1504.1S261.4 1522.6 269.1 1533.9S284.4 1555.1 292 1561.5S307.3 1571.2 315 1573S330.3 1575.2 337.9 1575.5" stroke="#4040c0"/>
<path d="M136.1 1575.3C143.2 1575 150.3 1574.4 157.4 1571.9S171.7 1565.1 178.8 1556.4S193 1534.2 200.2 1518.9S214.4 1487 221.5 1478.3S235.8 1469.6 242.9 1478.3S257.1 1503.5 264.2 1518.9S278.5 1547.7 285.6 1556.4S299.8 1569.5 307 1571.9S321.2 1575 328.3 1575.3" stroke="#ff0080"/>
<path d="M187.4 1575.5C193.5 1575.3 199.7 1574.9 205.8 1573.3S218.2 1568.7 224.3 1563S236.7 1548.4 242.8 1538.3S255.1 1517.3 261.3 1511.6S273.6 1505.8 279.8 1511.6S292.1 1528.2 298.3 1538.3S310.6 1557.3 316.8 1563S329.1 1571.7 335.2 1573.3S347.6 1575.3 353.7 1575.5" stroke="#00aa00"/>
<path d="M177.5 1575.5C183.8 1575.2 190.1 1574.8 196.4 1573S208.9 1568.2 215.2 1562S227.8 1546.2 234 1535.3S246.6 1512.6 252.9 1506.4S265.4 1500.2 271.7 1506.4S284.3 1524.4 290.6 1535.3S303.1 1555.8 309.4 1562S322 1571.3 328.3 1573S340.8 1575.2 347.1 1575.5" stroke="#000080"/>
<path d="M179.3 1575.5C185.3 1575.3 191.3 1574.9 197.3 1573.3S209.3 1569 215.4 1563.4S227.4 1549.3 233.4 1539.5S245.4 1519.2 251.4 1513.7S263.4 1508.1 269.4 1513.7S281.5 1529.7 287.5 1539.5S299.5 1557.9 305.5 1563.4S317.5 1571.8 323.5 1573.3S335.5 1575.3 341.5 1575.5" stroke="#800080"/>
<path d="M192.1 1575.5C198.5 1575.3 205 1575 211.5 1573.6S224.4 1569.7 230.9 1564.8S243.8 1552.2 250.3 1543.5S263.2 1525.4 269.7 1520.5S282.6 1515.5 289.1 1520.5S302 1534.8 308.5 1543.5S321.4 1559.8 327.9 1564.8S340.8 1572.2 347.3 1573.6S360.2 1575.3 366.7 1575.5" stroke="#808000"/>
<path d="M180.7 1575.5C187 1575.3 193.4 1575 199.8 1573.6S212.5 1569.8 218.9 1565S231.6 1552.6 238 1544S250.7 1526.3 257 1521.4S269.8 1516.5 276.1 1521.4S288.9 1535.5 295.2 1544S308 1560.1 314.3 1565S327.1 1572.3 333.4 1573.6S346.1 1575.3 352.5 1575.5" stroke="#0000a0"/>
<path d="M190.9 1575.5C196.9 1575.3 202.9 1575 208.9 1573.6S221 1569.7 227 1564.7S239.1 1551.9 245.1 1543.1S257.2 1524.9 263.2 1519.9S275.2 1514.9 281.3 1519.9S293.3 1534.4 299.3 1543.1S311.4 1559.7 317.4 1564.7S329.5 1572.2 335.5 1573.6S347.5 1575.3 353.6 1575.5" stroke="#8000ff"/>
<path d="M194.1 1575.5C200.2 1575.3 206.3 1574.9 212.4 1573.3S224.7 1568.9 230.8 1563.2S243 1548.8 249.1 1538.9S261.3 1518.3 267.5 1512.7S279.7 1507 285.8 1512.7S298 1529 304.2 1538.9S316.4 1557.6 322.5 1563.2S334.7 1571.7 340.8 1573.3S353.1 1575.3 359.2 1575.5" stroke="#808000"/>
<path d="M185.8 1575.5C192.1 1575.2 198.5 1574.8 204.8 1573.1S217.5 1568.2 223.8 1562.1S236.5 1546.3 242.8 1535.5S255.5 1513 261.8 1506.8S274.5 1500.6 280.8 1506.8S293.5 1524.7 299.8 1535.5S312.5 1555.9 318.8 1562.1S331.5 1571.3 337.8 1573.1S350.5 1575.2 356.8 1575.5" stroke="#ff0000"/>
<path d="M98.7 1575.4C107.1 1575 115.5 1574.4 123.9 1572S140.7 1565.3 149.1 1556.8S165.9 1535.1 174.3 1520.1S191.1 1489 199.4 1480.5S216.2 1472 224.6 1480.5S241.4 1505.2 249.8 1520.1S266.6 1548.3 275 1556.8S291.7 1569.6 300.1 1572S316.9 1575 325.3 1575.4" stroke="#00cccc"/>
<path d="M181.4 1575.5C188.9 1575.2 196.4 1574.8 203.9 1573.1S218.8 1568.4 226.3 1562.4S241.3 1547.2 248.8 1536.6S263.8 1514.7 271.3 1508.7S286.3 1502.7 293.8 1508.7S308.7 1526.1 316.2 1536.6S331.2 1556.5 338.7 1562.4S353.7 1571.5 361.2 1573.1S376.2 1575.2 383.7 1575.5" stroke="#404040"/>
<path d="M172.4 1574.9C175.2 1574.1 178.1 1572.8 180.9 1567.7S186.6 1553.3 189.5 1535S195.1 1488.4 198 1456.2S203.7 1389.4 206.5 1371.1S212.2 1352.7 215.1 1371.1S220.8 1424.1 223.6 1456.2S229.3 1516.7 232.2 1535S237.9 1562.6 240.7 1567.7S246.4 1574.1 249.2 1574.9" stroke="#000000"/>
<path d="M172.2 1574.9C175.2 1574.2 178.2 1573 181.2 1568.2S187.2 1554.8 190.2 1537.8S196.2 1494.4 199.2 1464.5S205.2 1402.3 208.1 1385.2S214.1 1368.1 217.1 1385.2S223.1 1434.6 226.1 1464.5S232.1 1520.8 235.1 1537.8S241.1 1563.5 244.1 1568.2S250.1 1574.2 253.1 1574.9" stroke="#404040"/>
<path d="M173.2 1575C176.4 1574.3 179.5 1573.2 182.7 1568.8S189 1556.4 192.1 1540.6S198.4 1500.4 201.5 1472.7S207.8 1415.1 211 1399.3S217.3 1383.5 220.4 1399.3S226.7 1445 229.9 1472.7S236.2 1524.9 239.3 1540.6S245.6 1564.4 248.7 1568.8S255 1574.3 258.2 1575" stroke="#cc00cc"/>
<path d="M169.1 1575C172.1 1574.3 175.1 1573.2 178.1 1568.8S184.1 1556.4 187.1 1540.6S193.1 1500.4 196.1 1472.7S202.1 1415.1 205.1 1399.3S211.1 1383.5 214.1 1399.3S220.1 1445 223.1 1472.7S229.1 1524.9 232.1 1540.6S238 1564.4 241 1568.8S247 1574.3 250 1575" stroke="#cccc00"/>
</g>
<line x1="432.3" y1="1345.2" x2="432.3" y2="1572.6" stroke="#222" stroke-width="0.9" />
<line x1="429.4" y1="1572.2" x2="708.0" y2="1572.2" stroke="#222" stroke-width="0.9" />
<line x1="429.1" y1="1572.2" x2="432.3" y2="1572.2" stroke="#222" stroke-width="0.8" />
<text x="426.8" y="1575.8" font-size="10.0" text-anchor="end">0</text>
<line x1="430.5" y1="1551.6" x2="432.3" y2="1551.6" stroke="#222" stroke-width="0.7" />
<line x1="429.1" y1="1531.0" x2="432.3" y2="1531.0" stroke="#222" stroke-width="0.8" />
<text x="426.8" y="1534.6" font-size="10.0" text-anchor="end">2</text>
<line x1="430.5" y1="1510.4" x2="432.3" y2="1510.4" stroke="#222" stroke-width="0.7" />
<line x1="429.1" y1="1489.8" x2="432.3" y2="1489.8" stroke="#222" stroke-width="0.8" />
<text x="426.8" y="1493.4" font-size="10.0" text-anchor="end">4</text>
<line x1="430.5" y1="1469.2" x2="432.3" y2="1469.2" stroke="#222" stroke-width="0.7" />
<line x1="429.1" y1="1448.6" x2="432.3" y2="1448.6" stroke="#222" stroke-width="0.8" />
<text x="426.8" y="1452.2" font-size="10.0" text-anchor="end">6</text>
<line x1="430.5" y1="1428.0" x2="432.3" y2="1428.0" stroke="#222" stroke-width="0.7" />
<line x1="429.1" y1="1407.4" x2="432.3" y2="1407.4" stroke="#222" stroke-width="0.8" />
<text x="426.8" y="1411.0" font-size="10.0" text-anchor="end">8</text>
<line x1="430.5" y1="1386.8" x2="432.3" y2="1386.8" stroke="#222" stroke-width="0.7" />
<line x1="429.1" y1="1366.2" x2="432.3" y2="1366.2" stroke="#222" stroke-width="0.8" />
<text x="426.8" y="1369.8" font-size="10.0" text-anchor="end">10</text>
<line x1="430.5" y1="1345.2" x2="432.3" y2="1345.2" stroke="#222" stroke-width="0.7" />
<line x1="463.5" y1="1572.2" x2="463.5" y2="1575.4" stroke="#222" stroke-width="0.8" />
<text x="463.5" y="1585.2" font-size="10.0" text-anchor="middle">-5</text>
<line x1="516.6" y1="1572.2" x2="516.6" y2="1575.4" stroke="#222" stroke-width="0.8" />
<text x="516.6" y="1585.2" font-size="10.0" text-anchor="middle">0</text>
<line x1="569.7" y1="1572.2" x2="569.7" y2="1575.4" stroke="#222" stroke-width="0.8" />
<text x="569.7" y="1585.2" font-size="10.0" text-anchor="middle">5</text>
<line x1="622.8" y1="1572.2" x2="622.8" y2="1575.4" stroke="#222" stroke-width="0.8" />
<text x="622.8" y="1585.2" font-size="10.0" text-anchor="middle">10</text>
<line x1="675.9" y1="1572.2" x2="675.9" y2="1575.4" stroke="#222" stroke-width="0.8" />
<text x="675.9" y="1585.2" font-size="10.0" text-anchor="middle">15</text>
<line x1="437.0" y1="1572.2" x2="437.0" y2="1574.0" stroke="#222" stroke-width="0.7" />
<line x1="490.1" y1="1572.2" x2="490.1" y2="1574.0" stroke="#222" stroke-width="0.7" />
<line x1="543.1" y1="1572.2" x2="543.1" y2="1574.0" stroke="#222" stroke-width="0.7" />
<line x1="596.2" y1="1572.2" x2="596.2" y2="1574.0" stroke="#222" stroke-width="0.7" />
<line x1="649.4" y1="1572.2" x2="649.4" y2="1574.0" stroke="#222" stroke-width="0.7" />
<line x1="702.5" y1="1572.2" x2="702.5" y2="1574.0" stroke="#222" stroke-width="0.7" />
<text x="414.6" y="1458.4" font-size="10.5" text-anchor="middle" transform="rotate(-90 414.6 1458.4)">Count</text>
<path d="M437 1571.5C446.9 1571 456.7 1570 466.6 1565.9S486.3 1554.3 496.1 1538.4S515.8 1497.1 525.7 1467S545.4 1402.8 555.2 1383.3S574.9 1361.1 584.8 1376.8S604.5 1424.9 614.3 1455.7S634 1514.2 643.9 1532.1S663.6 1559.2 673.4 1564.3S693.1 1570.6 703 1571.3" fill="none" stroke="#7070d8" stroke-width="0.8" />
<path d="M437 1571.5C446.9 1570.9 456.7 1570 466.6 1566.1S486.3 1555 496.1 1540.4S515.8 1502.9 525.7 1476S545.4 1419 555.2 1401.9S574.9 1382.3 584.8 1396.1S604.5 1438.5 614.3 1465.9S634 1518.3 643.9 1534.7S663.6 1559.7 673.4 1564.5S693.1 1570.5 703 1571.3" fill="none" stroke="#f5d28a" stroke-width="0.8" />
<path d="M437 1571.5C446.9 1570.9 456.7 1570 466.6 1566.3S486.3 1556 496.1 1542.8S515.8 1509.1 525.7 1485.3S545.4 1435.4 555.2 1420.5S574.9 1403.5 584.8 1415.5S604.5 1452.4 614.3 1476.5S634 1522.9 643.9 1537.6S663.6 1560.4 673.4 1564.8S693.1 1570.5 703 1571.3" fill="none" stroke="#f6ee8a" stroke-width="0.8" />
<path d="M437 1571.5C446.9 1571 456.7 1570 466.6 1566.6S486.3 1557.2 496.1 1545.4S515.8 1515.7 525.7 1495.1S545.4 1452 555.2 1439.2S574.9 1424.6 584.8 1434.9S604.5 1466.5 614.3 1487.4S634 1527.7 643.9 1540.8S663.6 1561.2 673.4 1565.3S693.1 1570.6 703 1571.3" fill="none" stroke="#2f9a96" stroke-width="0.9" />
<path d="M437 1571.5C446.9 1571 456.7 1570 466.6 1566.6S486.3 1557.2 496.1 1545.4S515.8 1515.7 525.7 1495.1S545.4 1452 555.2 1439.2S574.9 1424.6 584.8 1434.9S604.5 1466.5 614.3 1487.4S634 1527.7 643.9 1540.8S663.6 1561.2 673.4 1565.3S693.1 1570.6 703 1571.3" fill="none" stroke="#7a7a7a" stroke-width="0.5" />
<path d="M437 1571.5C448.1 1571 459.2 1569.9 470.2 1565.8S492.4 1553.9 503.5 1539.8S525.7 1504.7 536.8 1485.4S558.9 1450.2 570 1448.7S592.2 1460.5 603.2 1479.1S625.4 1519.7 636.5 1535S658.7 1559.4 669.8 1564.3S691.9 1570.6 703 1571.3" fill="none" stroke="#8a2be2" stroke-width="0.5" />
<path d="M437 1571.5C448.1 1571 459.2 1569.9 470.2 1565.8S492.4 1553.9 503.5 1539.8S525.7 1504.7 536.8 1485.4S558.9 1450.2 570 1448.7S592.2 1460.5 603.2 1479.1S625.4 1519.7 636.5 1535S658.7 1559.4 669.8 1564.3S691.9 1570.6 703 1571.3" fill="none" stroke="#a03030" stroke-width="0.9" />
<path d="M437 1571.6C448.1 1571 459.2 1570.1 470.2 1566.5S492.4 1556.2 503.5 1544.4S525.7 1515.2 536.8 1499.3S558.9 1470.5 570 1469.3S592.2 1478.9 603.2 1494.1S625.4 1527.5 636.5 1540.3S658.7 1561 669.8 1565.2S691.9 1570.7 703 1571.4" fill="none" stroke="#d0105a" stroke-width="0.9" />
<path d="M437 1571.6C448.1 1571 459.2 1570.1 470.2 1566.5S492.4 1556.2 503.5 1544.4S525.7 1515.2 536.8 1499.3S558.9 1470.5 570 1469.3S592.2 1478.9 603.2 1494.1S625.4 1527.5 636.5 1540.3S658.7 1561 669.8 1565.2S691.9 1570.7 703 1571.4" fill="none" stroke="#5a3f9a" stroke-width="0.8" />
<path d="M437 1571.6C448.1 1571.2 459.2 1570.3 470.2 1567.3S492.4 1558.8 503.5 1549.3S525.7 1525.9 536.8 1513.4S558.9 1490.8 570 1489.9S592.2 1497.3 603.2 1509.4S625.4 1535.8 636.5 1546S658.7 1562.7 669.8 1566.3S691.9 1570.9 703 1571.5" fill="none" stroke="#cc44ee" stroke-width="0.9" />
<text x="147.7" y="1634.8" font-size="38.8" textLength="284.9" lengthAdjust="spacingAndGlyphs">Individual Protein</text>
<text x="527.3" y="1634.8" font-size="38.8" textLength="121.3" lengthAdjust="spacingAndGlyphs">Overall</text>
<text x="1.2" y="1671.5" font-size="45.0" font-weight="bold" textLength="27.5" lengthAdjust="spacingAndGlyphs">b</text>
<rect x="137.6" y="1642.8" width="293.9" height="250.6" fill="#ffffff" stroke="#9a9a9a" stroke-width="1.3"/>
<rect x="437.0" y="1641.6" width="299.4" height="251.5" fill="#ffffff" stroke="#9a9a9a" stroke-width="1.3"/>
<line x1="133.1" y1="1652.0" x2="137.6" y2="1652.0" stroke="#9a9a9a" stroke-width="1.1" />
<text x="87.4" y="1663.3" font-size="29.5" textLength="40.2" lengthAdjust="spacingAndGlyphs">1.0</text>
<line x1="133.1" y1="1698.8" x2="137.6" y2="1698.8" stroke="#9a9a9a" stroke-width="1.1" />
<text x="87.2" y="1704.2" font-size="29.5" textLength="40.5" lengthAdjust="spacingAndGlyphs">0.8</text>
<line x1="133.1" y1="1745.1" x2="137.6" y2="1745.1" stroke="#9a9a9a" stroke-width="1.1" />
<text x="87.2" y="1750.6" font-size="29.5" textLength="40.5" lengthAdjust="spacingAndGlyphs">0.6</text>
<line x1="133.1" y1="1791.4" x2="137.6" y2="1791.4" stroke="#9a9a9a" stroke-width="1.1" />
<text x="87.2" y="1801.9" font-size="29.5" textLength="40.2" lengthAdjust="spacingAndGlyphs">0.4</text>
<line x1="133.1" y1="1837.7" x2="137.6" y2="1837.7" stroke="#9a9a9a" stroke-width="1.1" />
<text x="87.2" y="1849.8" font-size="29.5" textLength="40.8" lengthAdjust="spacingAndGlyphs">0.2</text>
<line x1="133.1" y1="1883.7" x2="137.6" y2="1883.7" stroke="#9a9a9a" stroke-width="1.1" />
<text x="87.2" y="1896.0" font-size="29.5" textLength="40.4" lengthAdjust="spacingAndGlyphs">0.0</text>
<line x1="437.0" y1="1652.0" x2="439.0" y2="1652.0" stroke="#bbbbbb" stroke-width="0.8" />
<line x1="437.0" y1="1698.8" x2="439.0" y2="1698.8" stroke="#bbbbbb" stroke-width="0.8" />
<line x1="437.0" y1="1745.1" x2="439.0" y2="1745.1" stroke="#bbbbbb" stroke-width="0.8" />
<line x1="437.0" y1="1791.4" x2="439.0" y2="1791.4" stroke="#bbbbbb" stroke-width="0.8" />
<line x1="437.0" y1="1837.7" x2="439.0" y2="1837.7" stroke="#bbbbbb" stroke-width="0.8" />
<line x1="437.0" y1="1883.7" x2="439.0" y2="1883.7" stroke="#bbbbbb" stroke-width="0.8" />
<text x="67.6" y="1821.6" font-size="30.0" textLength="129.0" lengthAdjust="spacingAndGlyphs" transform="rotate(-90 67.6 1821.6)">Sensitivity</text>
<clipPath id="cb1"><rect x="137.6" y="1642.8" width="293.9" height="250.6"/></clipPath>
<line x1="187.4" y1="1893.6" x2="380.1" y2="1642.8" stroke="#d2d2d2" stroke-width="1.1" clip-path="url(#cb1)"/>
<clipPath id="cb2"><rect x="437.0" y="1641.6" width="299.4" height="251.5"/></clipPath>
<line x1="489.3" y1="1893.1" x2="684.3" y2="1641.4" stroke="#d2d2d2" stroke-width="1.1" clip-path="url(#cb2)"/>
<path d="M194.3 1822.7L194.3 1771.9L205.6 1771.9L205.6 1760.9L228.1 1760.9L228.1 1750.2L250.5 1750.2L250.5 1702.8L262.3 1702.8L262.3 1699.6L273 1699.6L273 1692.4L284.3 1692.4L284.3 1688.4L306.7 1688.4L306.7 1680.9L318 1680.9L318 1677.6L329.2 1677.6L329.2 1670.7L340.5 1670.7L340.5 1663.5L351.7 1663.5L351.7 1659.4L363 1659.4L363 1656L373.9 1656" fill="none" stroke="#5566ee" stroke-width="1.4" stroke-linejoin="miter"/>
<path d="M194.3 1883.7L194.3 1822.7L205.6 1822.7L205.6 1793.8L228.1 1793.8L228.1 1786.6L239.6 1786.6L239.6 1724.5L250.5 1724.5L250.5 1663.5L262.3 1663.5L262.3 1659.4L295.2 1659.4L295.2 1656L373.9 1656L373.9 1653.6" fill="none" stroke="#55e055" stroke-width="1.4" stroke-linejoin="miter"/>
<path d="M495.5 1883.4L495.5 1821.7L507.3 1821.7L507.3 1792.8L530 1792.8L530 1784.7L541.4 1784.7L541.4 1723.5L553 1723.5L553 1661.4L564.4 1661.4L564.4 1657.5L598.3 1657.5L598.3 1654L677.5 1654L677.5 1650.7" fill="none" stroke="#555555" stroke-width="1.6" stroke-linejoin="miter"/>
<text x="337.8" y="1792.5" font-size="21.6" text-anchor="middle" fill="#5566ee">CP</text>
<text x="273.6" y="1819.2" font-size="21.6" fill="#5566ee" textLength="128.4" lengthAdjust="spacingAndGlyphs">(AUC = 0.77)</text>
<text x="309.2" y="1845.5" font-size="21.6" fill="#55e055" textLength="54.8" lengthAdjust="spacingAndGlyphs">LRG1</text>
<text x="273.6" y="1872.2" font-size="21.6" fill="#55e055" textLength="128.4" lengthAdjust="spacingAndGlyphs">(AUC = 0.81)</text>
<text x="594.4" y="1854.4" font-size="22.6" textLength="113.5" lengthAdjust="spacingAndGlyphs">AUC = 0.80</text>
<text x="594.4" y="1881.3" font-size="22.6" textLength="106.3" lengthAdjust="spacingAndGlyphs">(0.66-0.94)</text>
<text x="1.0" y="1920.6" font-size="45.8" font-weight="bold" textLength="25.0" lengthAdjust="spacingAndGlyphs">c</text>
<rect x="137.6" y="1913.1" width="294.6" height="247.2" fill="#ffffff" stroke="#9a9a9a" stroke-width="1.3"/>
<rect x="435.7" y="1914.2" width="297.6" height="243.6" fill="#ffffff" stroke="#9a9a9a" stroke-width="1.3"/>
<line x1="133.1" y1="1922.1" x2="137.6" y2="1922.1" stroke="#9a9a9a" stroke-width="1.1" />
<text x="86.6" y="1933.8" font-size="29.5" textLength="40.6" lengthAdjust="spacingAndGlyphs">1.0</text>
<line x1="133.1" y1="1967.9" x2="137.6" y2="1967.9" stroke="#9a9a9a" stroke-width="1.1" />
<text x="86.4" y="1974.5" font-size="29.5" textLength="41.0" lengthAdjust="spacingAndGlyphs">0.8</text>
<line x1="133.1" y1="2013.4" x2="137.6" y2="2013.4" stroke="#9a9a9a" stroke-width="1.1" />
<text x="86.4" y="2020.7" font-size="29.5" textLength="41.0" lengthAdjust="spacingAndGlyphs">0.6</text>
<line x1="133.1" y1="2059.2" x2="137.6" y2="2059.2" stroke="#9a9a9a" stroke-width="1.1" />
<text x="86.4" y="2071.6" font-size="29.5" textLength="40.7" lengthAdjust="spacingAndGlyphs">0.4</text>
<line x1="133.1" y1="2105.2" x2="137.6" y2="2105.2" stroke="#9a9a9a" stroke-width="1.1" />
<text x="86.4" y="2119.6" font-size="29.5" textLength="41.3" lengthAdjust="spacingAndGlyphs">0.2</text>
<line x1="133.1" y1="2151.2" x2="137.6" y2="2151.2" stroke="#9a9a9a" stroke-width="1.1" />
<text x="86.4" y="2166.3" font-size="29.5" textLength="40.8" lengthAdjust="spacingAndGlyphs">0.0</text>
<line x1="435.7" y1="1922.1" x2="437.7" y2="1922.1" stroke="#bbbbbb" stroke-width="0.8" />
<line x1="435.7" y1="1967.9" x2="437.7" y2="1967.9" stroke="#bbbbbb" stroke-width="0.8" />
<line x1="435.7" y1="2013.4" x2="437.7" y2="2013.4" stroke="#bbbbbb" stroke-width="0.8" />
<line x1="435.7" y1="2059.2" x2="437.7" y2="2059.2" stroke="#bbbbbb" stroke-width="0.8" />
<line x1="435.7" y1="2105.2" x2="437.7" y2="2105.2" stroke="#bbbbbb" stroke-width="0.8" />
<line x1="435.7" y1="2151.2" x2="437.7" y2="2151.2" stroke="#bbbbbb" stroke-width="0.8" />
<text x="68.4" y="2090.6" font-size="30.0" textLength="129.0" lengthAdjust="spacingAndGlyphs" transform="rotate(-90 68.4 2090.6)">Sensitivity</text>
<clipPath id="cc1"><rect x="137.6" y="1913.1" width="294.6" height="247.2"/></clipPath>
<line x1="187.4" y1="2160.3" x2="380.6" y2="1913.1" stroke="#d2d2d2" stroke-width="1.1" clip-path="url(#cc1)"/>
<clipPath id="cc2"><rect x="435.7" y="1914.2" width="297.6" height="243.6"/></clipPath>
<line x1="487.2" y1="2157.8" x2="682.3" y2="1914.2" stroke="#d2d2d2" stroke-width="1.1" clip-path="url(#cc2)"/>
<path d="M194.3 2136.3L194.3 2100.7L200.2 2100.7L200.2 2086.7L206.1 2086.7L206.1 2072L211.5 2072L211.5 2022L217.3 2022L217.3 1986.4L223 1986.4L223 1979.1L228.3 1979.1L228.3 1950.2L234.2 1950.2L234.2 1943L239.6 1943L239.6 1922.1L267.7 1922.1" fill="none" stroke="#5566ee" stroke-width="1.4" stroke-linejoin="miter"/>
<path d="M194.3 2151.2L194.3 2136.3L200.7 2136.3L200.7 2079.2L211.5 2079.2L211.5 2029.2L217.3 2029.2L217.3 2022L223 2022L223 2007.2L228.3 2007.2L228.3 1964.9L234.2 1964.9L234.2 1957.7L239.6 1957.7L239.6 1950.2L245.2 1950.2L245.2 1943L250.8 1943L250.8 1936L262 1936L262 1929.1L267.7 1929.1L267.7 1922.1L374.7 1922.1" fill="none" stroke="#55e055" stroke-width="1.4" stroke-linejoin="miter"/>
<path d="M494 2148.5L494 2134.7L499.6 2134.7L499.6 2077.8L511 2077.8L511 2029L516.8 2029L516.8 2021.3L522.4 2021.3L522.4 2007.5L528 2007.5L528 1965.5L533.5 1965.5L533.5 1958.3L539.3 1958.3L539.3 1951.2L544.9 1951.2L544.9 1944.2L550.7 1944.2L550.7 1937.2L562.1 1937.2L562.1 1929.9L567.9 1929.9L567.9 1922.7L675.4 1922.7" fill="none" stroke="#555555" stroke-width="1.6" stroke-linejoin="miter"/>
<text x="305.9" y="2066.7" font-size="21.6" fill="#5566ee" textLength="70.2" lengthAdjust="spacingAndGlyphs">AZGP1</text>
<text x="277.0" y="2093.4" font-size="21.6" fill="#5566ee" textLength="128.5" lengthAdjust="spacingAndGlyphs">(AUC = 0.90)</text>
<text x="317.2" y="2119.7" font-size="21.6" fill="#55e055" textLength="47.4" lengthAdjust="spacingAndGlyphs">HRG</text>
<text x="277.0" y="2146.4" font-size="21.6" textLength="128.5" lengthAdjust="spacingAndGlyphs"><tspan fill="#55e055">(AUC = 0.87</tspan><tspan fill="#000">)</tspan></text>
<text x="584.4" y="2120.0" font-size="22.6" textLength="113.8" lengthAdjust="spacingAndGlyphs">AUC = 0.86</text>
<text x="584.4" y="2146.5" font-size="22.6" textLength="106.6" lengthAdjust="spacingAndGlyphs">(0.77-0.95)</text>
<text x="-1.0" y="2200.3" font-size="45.0" font-weight="bold" textLength="27.8" lengthAdjust="spacingAndGlyphs">d</text>
<rect x="137.6" y="2183.6" width="294.6" height="246.6" fill="#ffffff" stroke="#9a9a9a" stroke-width="1.3"/>
<rect x="438.6" y="2182.8" width="293.1" height="246.5" fill="#ffffff" stroke="#9a9a9a" stroke-width="1.3"/>
<line x1="133.1" y1="2192.7" x2="137.6" y2="2192.7" stroke="#9a9a9a" stroke-width="1.1" />
<text x="84.2" y="2203.3" font-size="29.5" textLength="41.1" lengthAdjust="spacingAndGlyphs">1.0</text>
<line x1="133.1" y1="2238.7" x2="137.6" y2="2238.7" stroke="#9a9a9a" stroke-width="1.1" />
<text x="84.0" y="2243.6" font-size="29.5" textLength="41.4" lengthAdjust="spacingAndGlyphs">0.8</text>
<line x1="133.1" y1="2284.2" x2="137.6" y2="2284.2" stroke="#9a9a9a" stroke-width="1.1" />
<text x="84.0" y="2289.8" font-size="29.5" textLength="41.4" lengthAdjust="spacingAndGlyphs">0.6</text>
<line x1="133.1" y1="2329.4" x2="137.6" y2="2329.4" stroke="#9a9a9a" stroke-width="1.1" />
<text x="84.0" y="2340.6" font-size="29.5" textLength="41.1" lengthAdjust="spacingAndGlyphs">0.4</text>
<line x1="133.1" y1="2375.2" x2="137.6" y2="2375.2" stroke="#9a9a9a" stroke-width="1.1" />
<text x="84.0" y="2389.2" font-size="29.5" textLength="41.7" lengthAdjust="spacingAndGlyphs">0.2</text>
<line x1="133.1" y1="2421.0" x2="137.6" y2="2421.0" stroke="#9a9a9a" stroke-width="1.1" />
<text x="84.0" y="2435.4" font-size="29.5" textLength="41.2" lengthAdjust="spacingAndGlyphs">0.0</text>
<line x1="438.6" y1="2192.7" x2="440.6" y2="2192.7" stroke="#bbbbbb" stroke-width="0.8" />
<line x1="438.6" y1="2238.7" x2="440.6" y2="2238.7" stroke="#bbbbbb" stroke-width="0.8" />
<line x1="438.6" y1="2284.2" x2="440.6" y2="2284.2" stroke="#bbbbbb" stroke-width="0.8" />
<line x1="438.6" y1="2329.4" x2="440.6" y2="2329.4" stroke="#bbbbbb" stroke-width="0.8" />
<line x1="438.6" y1="2375.2" x2="440.6" y2="2375.2" stroke="#bbbbbb" stroke-width="0.8" />
<line x1="438.6" y1="2421.0" x2="440.6" y2="2421.0" stroke="#bbbbbb" stroke-width="0.8" />
<text x="63.4" y="2369.4" font-size="30.0" textLength="129.0" lengthAdjust="spacingAndGlyphs" transform="rotate(-90 63.4 2369.4)">Sensitivity</text>
<clipPath id="cd1"><rect x="137.6" y="2183.6" width="294.6" height="246.6"/></clipPath>
<line x1="188.2" y1="2430.3" x2="380.6" y2="2183.6" stroke="#d2d2d2" stroke-width="1.1" clip-path="url(#cd1)"/>
<clipPath id="cd2"><rect x="438.6" y="2182.8" width="293.1" height="246.5"/></clipPath>
<line x1="489.3" y1="2429.3" x2="681.0" y2="2182.8" stroke="#d2d2d2" stroke-width="1.1" clip-path="url(#cd2)"/>
<path d="M194.3 2268.9L224.3 2268.9L224.3 2192.7L284.3 2192.7" fill="none" stroke="#5566ee" stroke-width="1.4" stroke-linejoin="miter"/>
<path d="M194.3 2421L194.3 2268.9L254.3 2268.9L254.3 2230.7L284.3 2230.7L284.3 2192.7L373.9 2192.7" fill="none" stroke="#55e055" stroke-width="1.4" stroke-linejoin="miter"/>
<path d="M496.5 2420.6L496.5 2268.2L526.1 2268.2L526.1 2192.1L674.4 2192.1" fill="none" stroke="#555555" stroke-width="1.6" stroke-linejoin="miter"/>
<text x="314.5" y="2338.0" font-size="21.6" fill="#5566ee" textLength="61.0" lengthAdjust="spacingAndGlyphs">AHSG</text>
<text x="281.0" y="2364.8" font-size="21.6" textLength="128.5" lengthAdjust="spacingAndGlyphs"><tspan fill="#5566ee">(AUC = 0.77</tspan><tspan fill="#000">)</tspan></text>
<text x="291.2" y="2391.0" font-size="21.6" fill="#55e055" textLength="108.2" lengthAdjust="spacingAndGlyphs">SERPINA3</text>
<text x="281.0" y="2417.8" font-size="21.6" fill="#55e055" textLength="128.5" lengthAdjust="spacingAndGlyphs">(AUC = 0.81)</text>
<text x="589.6" y="2384.0" font-size="22.6" textLength="113.4" lengthAdjust="spacingAndGlyphs">AUC = 0.94</text>
<text x="589.6" y="2410.7" font-size="22.6" textLength="106.5" lengthAdjust="spacingAndGlyphs">(0.81-1.00)</text>
<text x="173.7" y="2464.2" font-size="29.5" textLength="38.7" lengthAdjust="spacingAndGlyphs">1.0</text>
<text x="262.9" y="2464.2" font-size="29.5" textLength="40.4" lengthAdjust="spacingAndGlyphs">0.5</text>
<text x="353.8" y="2464.2" font-size="29.5" textLength="40.8" lengthAdjust="spacingAndGlyphs">0.0</text>
<text x="484.2" y="2464.2" font-size="29.5" textLength="38.8" lengthAdjust="spacingAndGlyphs">1.0</text>
<text x="573.8" y="2464.2" font-size="29.5" textLength="40.3" lengthAdjust="spacingAndGlyphs">0.5</text>
<text x="664.8" y="2464.2" font-size="29.5" textLength="40.8" lengthAdjust="spacingAndGlyphs">0.0</text>
<line x1="194.6" y1="2430.2" x2="194.6" y2="2435.0" stroke="#9a9a9a" stroke-width="1.1" />
<line x1="284.4" y1="2430.2" x2="284.4" y2="2435.0" stroke="#9a9a9a" stroke-width="1.1" />
<line x1="373.3" y1="2430.2" x2="373.3" y2="2435.0" stroke="#9a9a9a" stroke-width="1.1" />
<line x1="496.5" y1="2429.3" x2="496.5" y2="2434.0" stroke="#9a9a9a" stroke-width="1.1" />
<line x1="587.0" y1="2429.3" x2="587.0" y2="2434.0" stroke="#9a9a9a" stroke-width="1.1" />
<line x1="678.2" y1="2429.3" x2="678.2" y2="2434.0" stroke="#9a9a9a" stroke-width="1.1" />
<text x="216.5" y="2493.4" font-size="30.5" textLength="129.1" lengthAdjust="spacingAndGlyphs">Specificity</text>
<text x="527.3" y="2492.6" font-size="30.5" textLength="129.3" lengthAdjust="spacingAndGlyphs">Specificity</text>
<text x="765.3" y="52.3" font-size="45.8" font-weight="bold" textLength="26.6" lengthAdjust="spacingAndGlyphs">e</text>
<text x="815.2" y="52.0" font-size="40.4" textLength="132.4" lengthAdjust="spacingAndGlyphs">Malaria</text>
<text x="962.8" y="52.0" font-size="41.0" font-style="italic" textLength="52.4" lengthAdjust="spacingAndGlyphs">vs.</text>
<text x="1023.0" y="52.0" font-size="41.3" textLength="144.7" lengthAdjust="spacingAndGlyphs">Dengue</text>
<text x="963.3" y="121.5" font-size="37.2" textLength="163.4" lengthAdjust="spacingAndGlyphs">Discovery</text>
<text x="1463.0" y="117.0" font-size="37.6" textLength="162.4" lengthAdjust="spacingAndGlyphs">Validation</text>
<line x1="859.5" y1="149.1" x2="859.5" y2="424.1" stroke="#2a2a2a" stroke-width="1.25" />
<line x1="854.3" y1="423.5" x2="1200.9" y2="423.5" stroke="#2a2a2a" stroke-width="1.25" />
<path d="M854.1 149.1h5.4M854.1 210.2h5.4M854.1 271.3h5.4M854.1 332.4h5.4M854.1 393.4h5.4M856.6 164.4h2.9M856.6 179.6h2.9M856.6 194.9h2.9M856.6 225.5h2.9M856.6 240.8h2.9M856.6 256h2.9M856.6 286.6h2.9M856.6 301.9h2.9M856.6 317.2h2.9M856.6 347.7h2.9M856.6 362.9h2.9M856.6 378.1h2.9M856.6 408.6h2.9M944.5 423.5v2.6M1115.5 423.5v2.6" stroke="#2a2a2a" stroke-width="0.9" fill="none"/>
<text x="843.1" y="157.5" font-size="16.4">3</text>
<text x="843.3" y="217.1" font-size="16.4">2</text>
<text x="843.2" y="276.3" font-size="16.4">1</text>
<text x="843.1" y="335.7" font-size="16.4">0</text>
<text x="837.7" y="395.6" font-size="16.4">-1</text>
<text x="829.2" y="360.8" font-size="25.5" textLength="153.6" lengthAdjust="spacingAndGlyphs" transform="rotate(-90 829.2 360.8)">Log<tspan font-size="16.3" dy="4.3">2</tspan><tspan dy="-4.3"> Intensity</tspan></text>
<text x="991.3" y="176.4" font-size="35.5" textLength="92.8" lengthAdjust="spacingAndGlyphs">LRG1</text>
<path d="M943.4 182L946.2 182C946.6 187.4 947 192.7 947.3 198.1C947.8 206.2 947.9 214.3 948.7 222.5C949.1 226.7 951.3 230.9 952.6 235.1C953.9 239.3 955 243.5 956.5 247.8C958.4 253.3 961.6 258.8 963.3 264.3C964.7 268.8 965 273.4 966.6 277.9C967.5 280.5 969 283.1 971.1 285.7C974.1 289.6 980.2 293.5 986.6 297.4C991 300 999.8 302.6 1003.2 305.2C1008.1 308.9 1013.3 312.7 1013.3 316.5C1013.3 319.2 1011 321.9 1009 324.6C1006.2 328.5 998.3 332.4 993.5 336.3C988.6 340.2 984.3 344.1 979.8 348C974.6 352.5 968.6 357.1 964.3 361.6C960.5 365.5 957.1 369.4 954.5 373.3C952.4 376.6 950.3 379.8 949.1 383C947.8 386.5 946.6 389.9 946.2 393.4L943.4 393.4C943 389.9 941.8 386.5 940.5 383C939.3 379.8 937.2 376.6 935.1 373.3C932.5 369.4 929.1 365.5 925.3 361.6C921 357.1 915 352.5 909.8 348C905.3 344.1 901 340.2 896.1 336.3C891.3 332.4 883.4 328.5 880.6 324.6C878.6 321.9 876.3 319.2 876.3 316.5C876.3 312.7 881.5 308.9 886.4 305.2C889.8 302.6 898.6 300 903 297.4C909.4 293.5 915.5 289.6 918.5 285.7C920.6 283.1 922.1 280.5 923 277.9C924.6 273.4 924.9 268.8 926.3 264.3C928 258.8 931.2 253.3 933.1 247.8C934.6 243.5 935.7 239.3 937 235.1C938.3 230.9 940.5 226.7 940.9 222.5C941.7 214.3 941.8 206.2 942.3 198.1C942.6 192.7 943 187.4 943.4 182Z" fill="#fcc99b" stroke="#444444" stroke-width="0.9" stroke-linejoin="round"/>
<path d="M942.7 198.2h4.3M941.3 222.5h7M926.9 263.7h35.8M925 271.9h39.6M921.5 281.9h46.6M891.2 332.6h107.2M895.2 335.3h99.2M938.8 378.6h12" stroke="#3a3a3a" stroke-width="1" opacity="0.42" fill="none"/>
<path d="M923.9 276.5h41.8M902.5 297.9h84.7M894.1 301.6h101.4M878 313h133.5M876.9 315.2h135.9M876.9 318h135.8M883.4 327.1h122.9M906.1 344.4h77.4M907.6 345.8h74.3M910.3 348.1h69.1M924.5 360.4h40.6" stroke="#3a3a3a" stroke-width="1.1" opacity="0.95" fill="none"/>
<path d="M933.5 247.9h22.7" stroke="#3a3a3a" stroke-width="1.8" fill="none"/>
<path d="M889.7 303.5h110.3M887.8 304.5h114M917.9 354.5h53.8M919.1 355.5h51.4" stroke="#3a3a3a" stroke-width="1" opacity="0.5" fill="none"/>
<path d="M896.8 336.5h96.1M898 337.5h93.6M899.2 338.5h91.2" stroke="#3a3a3a" stroke-width="1" opacity="0.8" fill="none"/>
<path d="M925.7 268.5h38.3M925.5 269.5h38.7M925.3 270.5h39.1" stroke="#3a3a3a" stroke-width="1" opacity="0.9" fill="none"/>
<path d="M886.4 305.5h116.8M885.1 306.5h119.4M883.8 307.5h122M882.6 308.5h124.5M881.4 309.5h126.9M877.5 319.5h134.6M878 320.5h133.5M878.7 321.5h132.2M879.4 322.5h130.8M880.1 323.5h129.4" stroke="#3a3a3a" stroke-width="1" opacity="0.95" fill="none"/>
<path d="M1115.5 289.2C1115.5 291.9 1116.3 294.7 1117.1 297.4C1117.8 300 1119.8 302.6 1121.3 305.2C1122.9 307.8 1125.4 310.4 1126.2 313C1126.9 315.2 1127.6 317.5 1127.6 319.8C1127.6 322.7 1127.2 325.6 1127.2 328.5C1127.2 330.5 1129.3 332.4 1130.1 334.4C1131.2 337 1133 339.6 1133 342.2C1133 344.8 1131.9 347.4 1131.1 350C1130 353.2 1127.8 356.4 1126.2 359.7C1124.3 363.6 1121.9 367.5 1120.4 371.4C1118.8 375.3 1117.1 379.1 1116.5 383C1116 385.8 1115.6 388.6 1115.5 391.4C1115.4 388.6 1115 385.8 1114.5 383C1113.9 379.1 1112.2 375.3 1110.6 371.4C1109.1 367.5 1106.7 363.6 1104.8 359.7C1103.2 356.4 1101 353.2 1099.9 350C1099.1 347.4 1098 344.8 1098 342.2C1098 339.6 1099.8 337 1100.9 334.4C1101.7 332.4 1103.8 330.5 1103.8 328.5C1103.8 325.6 1103.4 322.7 1103.4 319.8C1103.4 317.5 1104.1 315.2 1104.8 313C1105.6 310.4 1108.1 307.8 1109.7 305.2C1111.2 302.6 1113.2 300 1113.9 297.4C1114.7 294.7 1115.5 291.9 1115.5 289.2Z" fill="#9dd89c" stroke="#444444" stroke-width="0.9" stroke-linejoin="round"/>
<path d="M1104.9 313.9h21.2M1104.2 316.9h22.7M1103.8 319.8h23.3M1098.5 341.2h34.1M1109.5 367.9h12.1" stroke="#3a3a3a" stroke-width="1.1" opacity="0.95" fill="none"/>
<path d="M1099 339.2h33M1099.7 348h31.7M1105.2 359.7h20.6" stroke="#3a3a3a" stroke-width="1.8" fill="none"/>
<line x1="944.5" y1="315.5" x2="1115.5" y2="340.2" stroke="#ff0000" stroke-width="2" stroke-linecap="butt"/>
<text x="1026.0" y="328.0" font-size="36.0" textLength="48.0" lengthAdjust="spacing" stroke="#000" stroke-width="0.45">***</text>
<text x="899.2" y="458.5" font-size="27.8" textLength="91.2" lengthAdjust="spacingAndGlyphs">Malaria</text>
<text x="1065.5" y="456.5" font-size="29.0" textLength="101.6" lengthAdjust="spacingAndGlyphs">Dengue</text>
<line x1="1369.5" y1="149.5" x2="1369.5" y2="426.1" stroke="#2a2a2a" stroke-width="1.25" />
<line x1="1364.0" y1="425.5" x2="1711.5" y2="425.5" stroke="#2a2a2a" stroke-width="1.25" />
<path d="M1364.1 149.5h5.4M1364.1 210.4h5.4M1364.1 272.1h5.4M1364.1 333h5.4M1364.1 394.3h5.4M1366.6 164.7h2.9M1366.6 179.9h2.9M1366.6 195.2h2.9M1366.6 225.8h2.9M1366.6 241.2h2.9M1366.6 256.7h2.9M1366.6 287.3h2.9M1366.6 302.6h2.9M1366.6 317.8h2.9M1366.6 348.3h2.9M1366.6 363.7h2.9M1366.6 379h2.9M1366.6 409.6h2.9M1454.5 425.5v2.6M1625.5 425.5v2.6" stroke="#2a2a2a" stroke-width="0.9" fill="none"/>
<text x="1341.3" y="155.7" font-size="17.7">18</text>
<text x="1341.1" y="216.6" font-size="17.7">14</text>
<text x="1341.2" y="276.7" font-size="17.7">10</text>
<text x="1351.1" y="336.7" font-size="17.7">6</text>
<text x="1351.3" y="397.0" font-size="17.7">2</text>
<text x="1333.6" y="356.0" font-size="25.5" textLength="153.6" lengthAdjust="spacingAndGlyphs" transform="rotate(-90 1333.6 356.0)">Log<tspan font-size="16.3" dy="4.3">2</tspan><tspan dy="-4.3"> Intensity</tspan></text>
<text x="1492.4" y="176.4" font-size="35.8" textLength="93.6" lengthAdjust="spacingAndGlyphs">LRG1</text>
<path d="M1443.2 180.2L1465.8 180.2C1468.2 182.3 1470.2 184.4 1471 186.4C1471.8 188.5 1472.6 190.6 1472.6 192.7C1472.6 195.1 1471.2 197.6 1470.1 200.1C1468.9 202.7 1465.8 205.3 1464.6 207.9C1463.6 210.1 1462.3 212.4 1462.3 214.7C1462.3 216.9 1464.2 219.2 1466.2 221.5C1468.4 224.1 1475.1 226.7 1479.8 229.3C1485.7 232.5 1492.1 235.8 1498.3 239C1504.5 242.2 1513.3 245.5 1516.8 248.7C1519.7 251.5 1523 254.2 1523 256.9C1523 260 1517 263.1 1512.9 266.3C1508.6 269.5 1500.7 272.7 1496.3 276C1492 279.2 1487.5 282.5 1485.6 285.7C1483.7 289 1483 292.2 1481.8 295.5C1480.5 298.7 1479.5 301.9 1478.2 305.2C1477 308.4 1475.5 311.7 1474 314.9C1472.4 318.2 1470.9 321.4 1469.1 324.6C1467.3 327.9 1464.7 331.1 1463.3 334.4C1461.9 337.6 1460.5 340.9 1460 344.1C1458.9 350.6 1458.4 357.1 1458 363.6C1457.6 370.1 1457.6 376.6 1457.2 383C1457 386.8 1456.7 390.6 1456.4 394.3L1452.6 394.3C1452.3 390.6 1452 386.8 1451.8 383C1451.4 376.6 1451.4 370.1 1451 363.6C1450.6 357.1 1450.1 350.6 1449 344.1C1448.5 340.9 1447.1 337.6 1445.7 334.4C1444.3 331.1 1441.7 327.9 1439.9 324.6C1438.1 321.4 1436.6 318.2 1435 314.9C1433.5 311.7 1432 308.4 1430.8 305.2C1429.5 301.9 1428.5 298.7 1427.2 295.5C1426 292.2 1425.3 289 1423.4 285.7C1421.5 282.5 1417 279.2 1412.7 276C1408.3 272.7 1400.4 269.5 1396.1 266.3C1392 263.1 1386 260 1386 256.9C1386 254.2 1389.3 251.5 1392.2 248.7C1395.7 245.5 1404.5 242.2 1410.7 239C1416.9 235.8 1423.3 232.5 1429.2 229.3C1433.9 226.7 1440.6 224.1 1442.8 221.5C1444.8 219.2 1446.7 216.9 1446.7 214.7C1446.7 212.4 1445.4 210.1 1444.4 207.9C1443.2 205.3 1440.1 202.7 1438.9 200.1C1437.8 197.6 1436.4 195.1 1436.4 192.7C1436.4 190.6 1437.2 188.5 1438 186.4C1438.8 184.4 1440.8 182.3 1443.2 180.2Z" fill="#fcc99b" stroke="#444444" stroke-width="0.9" stroke-linejoin="round"/>
<path d="M1436.8 192.6h35.4M1424.9 288h59.2M1426.8 293h55.4M1429.8 301.7h49.3M1431.4 305.8h46.2M1433.7 311.2h41.5M1449.4 343.6h10.3M1451 357.3h7M1452.5 388.8h3.9" stroke="#3a3a3a" stroke-width="1" opacity="0.42" fill="none"/>
<path d="M1398.2 267.4h112.5M1411.9 275.2h85.1M1427.3 294.4h54.5M1428.6 298h51.8M1437.4 319h34.2M1440 324h29.1M1449.9 347.3h9.1M1450.4 351.4h8.1M1452.1 380.4h4.9" stroke="#3a3a3a" stroke-width="1.1" opacity="0.95" fill="none"/>
<path d="M1386.4 257h136.2M1441.6 326.8h25.9" stroke="#3a3a3a" stroke-width="1.4" opacity="0.55" fill="none"/>
<path d="M1409.9 239.6h89.2M1421.6 283h65.8" stroke="#3a3a3a" stroke-width="1.8" fill="none"/>
<path d="M1438.1 320.5h32.7M1438.6 321.5h31.7M1439.2 322.5h30.7" stroke="#3a3a3a" stroke-width="1" opacity="0.85" fill="none"/>
<path d="M1434.3 312.5h40.4M1434.8 313.5h39.4" stroke="#3a3a3a" stroke-width="1" opacity="0.9" fill="none"/>
<path d="M1432.1 307.5h44.8M1432.5 308.5h43.9M1433 309.5h43.1" stroke="#3a3a3a" stroke-width="1" opacity="0.95" fill="none"/>
<path d="M1622.6 180.2L1628.4 180.2C1628.8 184.2 1629 188.3 1629 192.3C1629 197.5 1628 202.7 1627.8 207.9C1627.6 213 1627.4 218.2 1627.4 223.4C1627.4 227.3 1628.8 231.2 1629.8 235.1C1630.8 239 1632.7 242.9 1634.3 246.8C1635.8 250.7 1637.4 254.6 1639.1 258.5C1640.9 262.4 1643.2 266.3 1645 270.1C1646.7 274 1648.3 277.9 1649.8 281.8C1651.6 286.4 1653.7 290.9 1654.7 295.5C1655.6 299.3 1656.6 303.2 1656.6 307.1C1656.6 311.7 1655.8 316.2 1655.1 320.8C1654.4 325.3 1653.2 329.8 1651.8 334.4C1650.4 338.9 1648 343.5 1645.9 348C1644.1 351.9 1641.9 355.8 1640.1 359.7C1638.3 363.6 1636.4 367.5 1635.2 371.4C1634 375.3 1633.3 379.1 1632.3 383C1631.4 386.8 1630.4 390.6 1629.4 394.3L1621.6 394.3C1620.6 390.6 1619.6 386.8 1618.7 383C1617.7 379.1 1617 375.3 1615.8 371.4C1614.6 367.5 1612.7 363.6 1610.9 359.7C1609.1 355.8 1606.9 351.9 1605.1 348C1603 343.5 1600.6 338.9 1599.2 334.4C1597.8 329.8 1596.6 325.3 1595.9 320.8C1595.2 316.2 1594.4 311.7 1594.4 307.1C1594.4 303.2 1595.4 299.3 1596.3 295.5C1597.3 290.9 1599.4 286.4 1601.2 281.8C1602.7 277.9 1604.3 274 1606 270.1C1607.8 266.3 1610.1 262.4 1611.9 258.5C1613.6 254.6 1615.2 250.7 1616.7 246.8C1618.3 242.9 1620.2 239 1621.2 235.1C1622.2 231.2 1623.6 227.3 1623.6 223.4C1623.6 218.2 1623.4 213 1623.2 207.9C1623 202.7 1622 197.5 1622 192.3C1622 188.3 1622.2 184.2 1622.6 180.2Z" fill="#9dd89c" stroke="#444444" stroke-width="0.9" stroke-linejoin="round"/>
<path d="M1622.4 192.6h6.2M1596.5 322h58M1599.7 334.7h51.6M1608.5 354.1h33.9" stroke="#3a3a3a" stroke-width="1" opacity="0.42" fill="none"/>
<path d="M1620.3 239h10.3M1607.7 267.5h35.5M1604.3 275h42.4M1601.4 282.3h48.2M1599.1 288.1h52.9M1597 294.2h57M1596.3 297.4h58.5M1595 303.7h61M1595 311.3h61.1M1595.9 318.4h59.1M1596.3 320.4h58.5M1596.7 323.2h57.5M1597.2 325.6h56.5M1597.7 327.5h55.6M1598.9 331.9h53.2M1606.5 350.2h38M1617.5 376.5h15.9M1619.9 386.3h11.2M1621.2 391.4h8.5" stroke="#3a3a3a" stroke-width="1.1" opacity="0.95" fill="none"/>
<path d="M1597.5 292.6h56.1M1599.2 333.1h52.5M1603.5 343.8h44" stroke="#3a3a3a" stroke-width="1.4" opacity="0.55" fill="none"/>
<path d="M1612.9 257.1h25.2M1594.8 309.7h61.3M1607.5 352.1h36" stroke="#3a3a3a" stroke-width="1.8" fill="none"/>
<path d="M1595.6 300.5h59.9M1595.4 301.5h60.3M1595.2 302.5h60.6" stroke="#3a3a3a" stroke-width="1" opacity="0.5" fill="none"/>
<path d="M1601.5 339.5h47.9M1602 340.5h47.1" stroke="#3a3a3a" stroke-width="1" opacity="0.6" fill="none"/>
<path d="M1594.8 305.5h61.4M1594.8 306.5h61.5M1594.8 307.5h61.5M1595.1 312.5h60.8M1595.2 313.5h60.6M1600.7 337.5h49.6M1601.1 338.5h48.8" stroke="#3a3a3a" stroke-width="1" opacity="0.95" fill="none"/>
<line x1="1454.5" y1="256.9" x2="1625.5" y2="310.0" stroke="#ff0000" stroke-width="2" stroke-linecap="butt"/>
<text x="1535.0" y="267.1" font-size="36.0" textLength="65.6" lengthAdjust="spacing" stroke="#000" stroke-width="0.45">****</text>
<text x="1406.6" y="460.3" font-size="27.9" textLength="91.6" lengthAdjust="spacingAndGlyphs">Malaria</text>
<text x="1570.7" y="459.1" font-size="29.0" textLength="101.6" lengthAdjust="spacingAndGlyphs">Dengue</text>
<line x1="863.5" y1="469.1" x2="863.5" y2="752.1" stroke="#2a2a2a" stroke-width="1.25" />
<line x1="858.2" y1="751.5" x2="1204.1" y2="751.5" stroke="#2a2a2a" stroke-width="1.25" />
<path d="M858.1 495h5.4M858.1 546.2h5.4M858.1 597.4h5.4M858.1 648.8h5.4M858.1 700h5.4M858.1 751.4h5.4M860.6 482.2h2.9M860.6 469.4h2.9M860.6 507.8h2.9M860.6 520.6h2.9M860.6 533.4h2.9M860.6 559h2.9M860.6 571.8h2.9M860.6 584.6h2.9M860.6 610.3h2.9M860.6 623.1h2.9M860.6 636h2.9M860.6 661.6h2.9M860.6 674.4h2.9M860.6 687.2h2.9M860.6 712.8h2.9M860.6 725.7h2.9M860.6 738.5h2.9M948.3 751.5v2.6M1118.7 751.5v2.6" stroke="#2a2a2a" stroke-width="0.9" fill="none"/>
<line x1="857.9" y1="469.1" x2="863.1" y2="469.1" stroke="#2a2a2a" stroke-width="0.9" />
<text x="838.8" y="473.7" font-size="12.4">1.5</text>
<text x="847.1" y="501.8" font-size="16.5">1</text>
<text x="846.9" y="552.4" font-size="16.5">0</text>
<text x="841.6" y="604.4" font-size="16.5">-1</text>
<text x="841.6" y="655.6" font-size="16.5">-2</text>
<text x="841.5" y="706.2" font-size="16.5">-3</text>
<text x="841.3" y="757.2" font-size="16.5">-4</text>
<text x="829.2" y="674.4" font-size="25.5" textLength="153.6" lengthAdjust="spacingAndGlyphs" transform="rotate(-90 829.2 674.4)">Log<tspan font-size="16.3" dy="4.3">2</tspan><tspan dy="-4.3"> Intensity</tspan></text>
<text x="1010.7" y="499.2" font-size="37.4" textLength="51.9" lengthAdjust="spacingAndGlyphs">CP</text>
<path d="M947.3 495L949.3 495C949.7 497.6 950.2 500.2 950.2 502.8C950.4 506.7 950.4 510.6 950.4 514.5C950.4 518.4 949.7 522.3 949.7 526.2C949.7 530.1 949.9 534 950.2 537.9C950.5 540.5 953.1 543 955.1 545.6C957.7 548.9 961.7 552.1 965.8 555.4C969.9 558.6 975.2 561.9 980.4 565.1C984.6 567.7 989.7 570.3 994 572.9C998.4 575.5 1003.5 578.1 1006.7 580.7C1009.9 583.3 1013.2 585.9 1014.5 588.5C1015.6 590.7 1016.8 593 1016.8 595.3C1016.8 597.6 1015.7 599.8 1014.5 602.1C1013.1 604.7 1008.5 607.3 1004.7 609.9C1001 612.5 995.1 615.1 991.1 617.7C987.1 620.3 983.3 622.9 980.4 625.5C976.9 628.7 973.3 631.9 971.7 635.2C969.7 639.1 968.9 643 967.8 646.9C966.7 650.8 966 654.6 964.8 658.5C963.7 662.4 961.9 666.3 961 670.2C960 674.1 958.9 678 958.6 681.9C958.3 685.8 958.3 689.7 958 693.6C957.7 697.5 957.2 701.4 956.5 705.3C955.8 708.5 954.3 711.7 953.2 715C951.9 718.6 950.7 722.3 949.5 725.9L947.1 725.9C945.9 722.3 944.7 718.6 943.4 715C942.3 711.7 940.8 708.5 940.1 705.3C939.4 701.4 938.9 697.5 938.6 693.6C938.3 689.7 938.3 685.8 938 681.9C937.7 678 936.6 674.1 935.6 670.2C934.7 666.3 932.9 662.4 931.8 658.5C930.6 654.6 929.9 650.8 928.8 646.9C927.7 643 926.9 639.1 924.9 635.2C923.3 631.9 919.7 628.7 916.2 625.5C913.3 622.9 909.5 620.3 905.5 617.7C901.5 615.1 895.6 612.5 891.9 609.9C888.1 607.3 883.5 604.7 882.1 602.1C880.9 599.8 879.8 597.6 879.8 595.3C879.8 593 881 590.7 882.1 588.5C883.4 585.9 886.7 583.3 889.9 580.7C893.1 578.1 898.2 575.5 902.6 572.9C906.9 570.3 912 567.7 916.2 565.1C921.4 561.9 926.7 558.6 930.8 555.4C934.9 552.1 938.9 548.9 941.5 545.6C943.5 543 946.1 540.5 946.4 537.9C946.7 534 946.9 530.1 946.9 526.2C946.9 522.3 946.2 518.4 946.2 514.5C946.2 510.6 946.2 506.7 946.4 502.8C946.4 500.2 946.9 497.6 947.3 495Z" fill="#fcc99b" stroke="#444444" stroke-width="0.9" stroke-linejoin="round"/>
<path d="M946.6 513.8h3.5M906.3 571h83.9M911.9 621.7h72.7M930.5 651.9h35.6M933.1 661.4h30.4M940.4 704.6h15.8" stroke="#3a3a3a" stroke-width="1" opacity="0.42" fill="none"/>
<path d="M888.6 582.1h119.4M883.2 587.4h130.2M881 591.6h134.5M881 599h134.6M882.3 601.6h132M883.8 603.8h129M908.9 619.6h78.9M924.9 634.4h46.7M927.3 639.9h42.1M932.7 660.2h31.3M935.9 669.6h24.8M938.6 686.5h19.3M939.3 697.2h18M939.9 701.4h16.9" stroke="#3a3a3a" stroke-width="1.1" opacity="0.95" fill="none"/>
<path d="M913.9 566.7h68.8M918.3 627h60M928.2 643.1h40.2M938.3 681h20" stroke="#3a3a3a" stroke-width="1.4" opacity="0.55" fill="none"/>
<path d="M930.8 653.3h34.9" stroke="#3a3a3a" stroke-width="1.8" fill="none"/>
<path d="M886.9 583.5h122.8M885.8 584.5h125M884.8 585.5h127.1M883.9 586.5h128.9M900.4 614.5h95.9" stroke="#3a3a3a" stroke-width="1" opacity="0.5" fill="none"/>
<path d="M882.5 588.5h131.6M882 589.5h132.6M881.5 590.5h133.6" stroke="#3a3a3a" stroke-width="1" opacity="0.55" fill="none"/>
<path d="M885.8 605.5h124.9M887.2 606.5h122.2M888.7 607.5h119.2M890.2 608.5h116.2" stroke="#3a3a3a" stroke-width="1" opacity="0.65" fill="none"/>
<path d="M893.4 578.5h109.8M891.9 579.5h112.8" stroke="#3a3a3a" stroke-width="1" opacity="0.7" fill="none"/>
<path d="M880.2 594.5h136.1M880.2 595.5h136.2M880.3 596.5h136M880.5 597.5h135.6" stroke="#3a3a3a" stroke-width="1" opacity="0.75" fill="none"/>
<path d="M903.6 572.5h89.3M901.9 573.5h92.7M900.2 574.5h96.2" stroke="#3a3a3a" stroke-width="1" opacity="0.9" fill="none"/>
<path d="M893.2 610.5h110.2M894.8 611.5h106.9M896.6 612.5h103.3M898.5 613.5h99.6" stroke="#3a3a3a" stroke-width="1" opacity="0.95" fill="none"/>
<path d="M1118.7 520.7C1118.7 523.8 1119.1 527 1119.7 530.1C1120.1 532.7 1121.6 535.3 1123 537.9C1124.4 540.5 1126.7 543 1128.4 545.6C1130.1 548.2 1132.2 550.8 1133.3 553.4C1134.4 556 1135.8 558.6 1135.8 561.2C1135.8 563.8 1134.8 566.4 1133.9 569C1132.9 571.6 1129.9 574.2 1128.4 576.8C1126.9 579.4 1125.1 582 1124.5 584.6C1124 587.2 1123.6 589.8 1123.6 592.4C1123.6 595 1124.6 597.6 1124.9 600.1C1125.3 603.4 1125.7 606.6 1125.7 609.9C1125.7 613.1 1125.1 616.4 1124.5 619.6C1124 622.9 1122.7 626.1 1122 629.3C1121.3 632.6 1120.5 635.8 1120.1 639.1C1119.5 643 1119 646.9 1118.7 650.8C1118.4 646.9 1117.9 643 1117.3 639.1C1116.9 635.8 1116.1 632.6 1115.4 629.3C1114.7 626.1 1113.4 622.9 1112.9 619.6C1112.3 616.4 1111.7 613.1 1111.7 609.9C1111.7 606.6 1112.1 603.4 1112.5 600.1C1112.8 597.6 1113.8 595 1113.8 592.4C1113.8 589.8 1113.4 587.2 1112.9 584.6C1112.3 582 1110.5 579.4 1109 576.8C1107.5 574.2 1104.5 571.6 1103.5 569C1102.6 566.4 1101.6 563.8 1101.6 561.2C1101.6 558.6 1103 556 1104.1 553.4C1105.2 550.8 1107.3 548.2 1109 545.6C1110.7 543 1113 540.5 1114.4 537.9C1115.8 535.3 1117.3 532.7 1117.7 530.1C1118.3 527 1118.7 523.8 1118.7 520.7Z" fill="#9dd89c" stroke="#444444" stroke-width="0.9" stroke-linejoin="round"/>
<path d="M1103.5 555.8h30.5M1102.6 565.1h32.2M1103.6 568h30.3M1114.2 591.4h9M1112.2 606.4h12.9M1112.1 610.3h13.2M1113.4 620.6h10.5" stroke="#3a3a3a" stroke-width="1.1" opacity="0.95" fill="none"/>
<path d="M1102.4 558.5h32.6M1102.2 559.5h33.1M1104.7 570.5h28.1M1105.3 571.5h26.7" stroke="#3a3a3a" stroke-width="1" opacity="0.95" fill="none"/>
<line x1="948.3" y1="602.1" x2="1119.6" y2="567.6" stroke="#ff0000" stroke-width="2" stroke-linecap="butt"/>
<text x="1025.0" y="574.1" font-size="36.0" textLength="31.5" lengthAdjust="spacing" stroke="#000" stroke-width="0.45">**</text>
<text x="899.2" y="787.7" font-size="27.8" textLength="91.2" lengthAdjust="spacingAndGlyphs">Malaria</text>
<text x="1065.5" y="785.4" font-size="29.0" textLength="101.6" lengthAdjust="spacingAndGlyphs">Dengue</text>
<line x1="1372.5" y1="470.1" x2="1372.5" y2="752.1" stroke="#2a2a2a" stroke-width="1.25" />
<line x1="1369.2" y1="751.5" x2="1712.5" y2="751.5" stroke="#2a2a2a" stroke-width="1.25" />
<path d="M1367.1 468.8h5.4M1367.1 535.3h5.4M1367.1 602.1h5.4M1367.1 668.7h5.4M1367.1 734.8h5.4M1369.6 485.4h2.9M1369.6 502h2.9M1369.6 518.7h2.9M1369.6 552h2.9M1369.6 568.7h2.9M1369.6 585.4h2.9M1369.6 618.7h2.9M1369.6 635.4h2.9M1369.6 652h2.9M1369.6 685.2h2.9M1369.6 701.8h2.9M1369.6 718.3h2.9M1456.8 751.5v2.6M1627.7 751.5v2.6" stroke="#2a2a2a" stroke-width="0.9" fill="none"/>
<text x="1343.6" y="481.5" font-size="17.0">18</text>
<text x="1343.5" y="543.8" font-size="17.0">14</text>
<text x="1343.5" y="607.1" font-size="17.0">10</text>
<text x="1353.1" y="669.9" font-size="17.0">6</text>
<text x="1353.2" y="732.2" font-size="17.0">2</text>
<text x="1337.4" y="677.0" font-size="25.4" textLength="153.0" lengthAdjust="spacingAndGlyphs" transform="rotate(-90 1337.4 677.0)">Log<tspan font-size="16.3" dy="4.3">2</tspan><tspan dy="-4.3"> Intensity</tspan></text>
<text x="1512.9" y="501.6" font-size="37.4" textLength="52.0" lengthAdjust="spacingAndGlyphs">CP</text>
<path d="M1455.2 502.2L1458.4 502.2C1459.1 504.4 1459.7 506.5 1459.9 508.7C1460.1 511.3 1460.3 513.9 1460.3 516.4C1460.3 519.7 1458.9 522.9 1458.7 526.2C1458.5 530.1 1458.4 534 1458.4 537.9C1458.4 541.1 1459.6 544.3 1460.7 547.6C1461.7 550.8 1464.3 554.1 1465.6 557.3C1466.8 560.6 1468.2 563.8 1468.5 567.1C1468.8 570.3 1469.1 573.5 1469.1 576.8C1469.1 583.3 1468.5 589.8 1468.5 596.3C1468.5 600.1 1468.6 604 1468.9 607.9C1469 610.5 1470.8 613.1 1472.4 615.7C1474.4 619 1478.3 622.2 1482.1 625.5C1485.9 628.7 1490.6 631.9 1495.7 635.2C1500.8 638.4 1509.4 641.7 1513.2 644.9C1517.1 648.2 1520 651.4 1522 654.6C1523.4 656.9 1525.3 659.2 1525.3 661.5C1525.3 664.4 1523.8 667.3 1522 670.2C1520.5 672.8 1515.5 675.4 1511.3 678C1507.1 680.6 1500.6 683.2 1495.7 685.8C1490.9 688.4 1486.1 691 1482.1 693.6C1478.1 696.2 1474.2 698.8 1471.4 701.4C1468.6 704 1466.3 706.6 1464.6 709.1C1462.5 712.3 1460.7 715.4 1459.7 718.5L1453.9 718.5C1452.9 715.4 1451.1 712.3 1449 709.1C1447.3 706.6 1445 704 1442.2 701.4C1439.4 698.8 1435.5 696.2 1431.5 693.6C1427.5 691 1422.7 688.4 1417.9 685.8C1413 683.2 1406.5 680.6 1402.3 678C1398.1 675.4 1393.1 672.8 1391.6 670.2C1389.8 667.3 1388.3 664.4 1388.3 661.5C1388.3 659.2 1390.2 656.9 1391.6 654.6C1393.6 651.4 1396.5 648.2 1400.4 644.9C1404.2 641.7 1412.8 638.4 1417.9 635.2C1423 631.9 1427.7 628.7 1431.5 625.5C1435.3 622.2 1439.2 619 1441.2 615.7C1442.8 613.1 1444.6 610.5 1444.7 607.9C1445 604 1445.1 600.1 1445.1 596.3C1445.1 589.8 1444.5 583.3 1444.5 576.8C1444.5 573.5 1444.8 570.3 1445.1 567.1C1445.4 563.8 1446.8 560.6 1448 557.3C1449.3 554.1 1451.9 550.8 1452.9 547.6C1454 544.3 1455.2 541.1 1455.2 537.9C1455.2 534 1455.1 530.1 1454.9 526.2C1454.7 522.9 1453.3 519.7 1453.3 516.4C1453.3 513.9 1453.5 511.3 1453.7 508.7C1453.9 506.5 1454.5 504.4 1455.2 502.2Z" fill="#fcc99b" stroke="#444444" stroke-width="0.9" stroke-linejoin="round"/>
<path d="M1453.7 516h6.2M1443.3 612.9h26.9M1440.9 616.8h31.8M1414.5 683.9h84.5" stroke="#3a3a3a" stroke-width="1" opacity="0.42" fill="none"/>
<path d="M1445.4 601.5h22.7M1433.3 624.3h47M1420.7 633.6h72.1M1412.4 638.4h88.7M1405.2 642.1h103.3M1399.9 645.7h113.9M1393.6 652.3h126.4M1391.5 655.4h130.6M1388.7 662.5h136.1M1390.2 666.9h133.3M1391.6 669.6h130.3M1395.5 673.5h122.7M1409.4 681.5h94.8M1435 695.6h43.7M1440.4 699.5h32.8M1446.5 705.3h20.7M1451.3 712.1h11" stroke="#3a3a3a" stroke-width="1.1" opacity="0.95" fill="none"/>
<path d="M1389.3 664.9h134.9" stroke="#3a3a3a" stroke-width="1.4" opacity="0.55" fill="none"/>
<path d="M1426.7 629.5h60.2M1425.3 630.5h63" stroke="#3a3a3a" stroke-width="1" opacity="0.4" fill="none"/>
<path d="M1445.5 597.5h22.6M1445.5 599.5h22.6" stroke="#3a3a3a" stroke-width="1" opacity="0.45" fill="none"/>
<path d="M1390.8 656.5h132M1390.1 657.5h133.3M1389.6 658.5h134.5M1389.1 659.5h135.4" stroke="#3a3a3a" stroke-width="1" opacity="0.5" fill="none"/>
<path d="M1438.5 619.5h36.5" stroke="#3a3a3a" stroke-width="1" opacity="0.6" fill="none"/>
<path d="M1400.2 676.5h113.2M1401.9 677.5h109.9M1403.5 678.5h106.5M1405.4 679.5h102.9" stroke="#3a3a3a" stroke-width="1" opacity="0.7" fill="none"/>
<path d="M1397.9 647.5h117.9M1396.9 648.5h119.9M1419.6 686.5h74.4M1421.4 687.5h70.7M1423.3 688.5h67" stroke="#3a3a3a" stroke-width="1" opacity="0.75" fill="none"/>
<path d="M1445.2 586.5h23.1M1445.3 587.5h23.1M1445.3 588.5h23" stroke="#3a3a3a" stroke-width="1" opacity="0.8" fill="none"/>
<path d="M1445.5 567.5h22.6M1445.4 568.5h22.8M1445.3 569.5h23" stroke="#3a3a3a" stroke-width="1" opacity="0.95" fill="none"/>
<path d="M1621.9 502.2L1633.5 502.2C1634.4 504.4 1635.3 506.5 1635.5 508.7C1635.7 511.9 1635.9 515.2 1635.9 518.4C1635.9 524.9 1635.9 531.4 1635.9 537.9C1635.9 541.1 1637 544.3 1637.8 547.6C1638.6 550.8 1640.1 554.1 1640.9 557.3C1642 561.2 1643.3 565.1 1643.7 569C1644 572.9 1644.2 576.8 1644.2 580.7C1644.2 585.9 1643.7 591.1 1643.7 596.3C1643.7 600.1 1644.2 604 1644.8 607.9C1645.4 611.8 1647.3 615.7 1649.1 619.6C1650.6 622.9 1653.2 626.1 1655 629.3C1656.7 632.6 1658.7 635.8 1659.8 639.1C1660.9 642.3 1662.3 645.6 1662.3 648.8C1662.3 651.4 1662.1 654 1661.8 656.6C1661.4 659.2 1660.1 661.8 1658.8 664.4C1657.3 667.6 1654 670.9 1652 674.1C1650.1 677.4 1648.4 680.6 1646.8 683.8C1645.2 687.1 1643.7 690.3 1642.3 693.6C1640.9 696.8 1639.7 700.1 1638.4 703.3C1637.4 705.9 1636.5 708.5 1635.5 711.1C1634.5 713.6 1633.6 716 1632.6 718.5L1622.8 718.5C1621.8 716 1620.9 713.6 1619.9 711.1C1618.9 708.5 1618 705.9 1617 703.3C1615.7 700.1 1614.5 696.8 1613.1 693.6C1611.7 690.3 1610.2 687.1 1608.6 683.8C1607 680.6 1605.3 677.4 1603.4 674.1C1601.4 670.9 1598.1 667.6 1596.6 664.4C1595.3 661.8 1594 659.2 1593.6 656.6C1593.3 654 1593.1 651.4 1593.1 648.8C1593.1 645.6 1594.5 642.3 1595.6 639.1C1596.7 635.8 1598.7 632.6 1600.4 629.3C1602.2 626.1 1604.8 622.9 1606.3 619.6C1608.1 615.7 1610 611.8 1610.6 607.9C1611.2 604 1611.7 600.1 1611.7 596.3C1611.7 591.1 1611.2 585.9 1611.2 580.7C1611.2 576.8 1611.4 572.9 1611.7 569C1612.1 565.1 1613.4 561.2 1614.5 557.3C1615.3 554.1 1616.8 550.8 1617.6 547.6C1618.4 544.3 1619.5 541.1 1619.5 537.9C1619.5 531.4 1619.5 524.9 1619.5 518.4C1619.5 515.2 1619.7 511.9 1619.9 508.7C1620.1 506.5 1621 504.4 1621.9 502.2Z" fill="#9dd89c" stroke="#444444" stroke-width="0.9" stroke-linejoin="round"/>
<path d="M1612.2 568.8h31.1M1612.1 594.2h31.2M1608.4 615.9h38.7M1618.2 705.3h19.1" stroke="#3a3a3a" stroke-width="1" opacity="0.42" fill="none"/>
<path d="M1612 592.1h31.3M1612.1 598.5h31.2M1609.3 613.8h36.9M1606.4 620.2h42.5M1601 629.2h53.5M1599.8 631.3h55.8M1598.9 632.9h57.6M1595.9 639.2h63.5M1593.9 645.3h67.6M1593.5 648.7h68.5M1595.1 660.4h65.2M1597.7 665.7h60.1M1598.5 666.9h58.4M1604.7 675.7h46M1607.3 680.5h40.8M1609.3 684.5h36.7M1613.1 692.6h29.2" stroke="#3a3a3a" stroke-width="1.1" opacity="0.95" fill="none"/>
<path d="M1620 515.6h15.5M1612 591.1h31.4M1595.1 641.5h65.2M1617.4 703.2h20.7M1621.4 713.8h12.7" stroke="#3a3a3a" stroke-width="1.4" opacity="0.55" fill="none"/>
<path d="M1612.4 566.7h30.5M1611.8 587.1h31.9M1611.3 605.9h32.8M1615.3 697.9h24.8" stroke="#3a3a3a" stroke-width="1.8" fill="none"/>
<path d="M1594.2 657.5h67M1594.4 658.5h66.5M1594.8 659.5h65.9M1611.7 689.5h32M1612.2 690.5h31.1" stroke="#3a3a3a" stroke-width="1" opacity="0.5" fill="none"/>
<path d="M1593.5 650.5h68.4M1593.5 651.5h68.3" stroke="#3a3a3a" stroke-width="1" opacity="0.55" fill="none"/>
<path d="M1598 634.5h59.4M1597.5 635.5h60.4M1597 636.5h61.3M1593.6 652.5h68.2M1593.7 653.5h68M1593.8 654.5h67.8M1593.9 655.5h67.6M1602.7 672.5h50M1603.4 673.5h48.6" stroke="#3a3a3a" stroke-width="1" opacity="0.95" fill="none"/>
<line x1="1456.8" y1="653.7" x2="1627.7" y2="640.0" stroke="#ff0000" stroke-width="2" stroke-linecap="butt"/>
<text x="1520.4" y="585.7" font-size="36.0" textLength="49.0" lengthAdjust="spacing" stroke="#000" stroke-width="0.45">***</text>
<text x="1422.0" y="785.4" font-size="27.9" textLength="91.5" lengthAdjust="spacingAndGlyphs">Malaria</text>
<text x="1588.3" y="783.2" font-size="29.0" textLength="101.6" lengthAdjust="spacingAndGlyphs">Dengue</text>
<text x="761.9" y="863.8" font-size="45.8" font-weight="bold" textLength="27.2" lengthAdjust="spacingAndGlyphs">F</text>
<text x="813.6" y="863.7" font-size="41.0" textLength="202.9" lengthAdjust="spacingAndGlyphs">Falciparum</text>
<text x="1027.5" y="863.7" font-size="40.8" font-style="italic" textLength="52.2" lengthAdjust="spacingAndGlyphs">vs.</text>
<text x="1089.6" y="863.7" font-size="40.7" textLength="98.7" lengthAdjust="spacingAndGlyphs">Vivax</text>
<text x="1199.8" y="863.7" font-size="40.3" textLength="132.1" lengthAdjust="spacingAndGlyphs">malaria</text>
<text x="971.0" y="926.1" font-size="37.2" textLength="163.4" lengthAdjust="spacingAndGlyphs">Discovery</text>
<text x="1472.0" y="931.9" font-size="38.0" textLength="164.1" lengthAdjust="spacingAndGlyphs">Validation</text>
<line x1="864.5" y1="989.2" x2="864.5" y2="1263.1" stroke="#2a2a2a" stroke-width="1.25" />
<line x1="859.2" y1="1262.5" x2="1204.7" y2="1262.5" stroke="#2a2a2a" stroke-width="1.25" />
<path d="M859.1 1012.2h5.4M859.1 1057.7h5.4M859.1 1103.3h5.4M859.1 1148.8h5.4M859.1 1194.5h5.4M859.1 1240.3h5.4M861.6 1000.8h2.9M861.6 989.4h2.9M861.6 1023.6h2.9M861.6 1034.9h2.9M861.6 1046.3h2.9M861.6 1069.1h2.9M861.6 1080.5h2.9M861.6 1091.9h2.9M861.6 1114.6h2.9M861.6 1126h2.9M861.6 1137.4h2.9M861.6 1160.2h2.9M861.6 1171.7h2.9M861.6 1183.1h2.9M861.6 1206h2.9M861.6 1217.4h2.9M861.6 1228.9h2.9M861.6 1251.7h2.9M949.5 1262.5v2.6M1119.4 1262.5v2.6" stroke="#2a2a2a" stroke-width="0.9" fill="none"/>
<line x1="859.4" y1="989.2" x2="864.6" y2="989.2" stroke="#2a2a2a" stroke-width="0.9" />
<text x="839.4" y="993.8" font-size="11.9">2.5</text>
<text x="847.5" y="1019.5" font-size="15.9">2</text>
<text x="847.4" y="1063.9" font-size="15.9">1</text>
<text x="847.2" y="1107.1" font-size="15.9">0</text>
<text x="842.1" y="1151.8" font-size="15.9">-1</text>
<text x="842.2" y="1195.2" font-size="15.9">-2</text>
<text x="842.0" y="1238.6" font-size="15.9">-3</text>
<text x="834.4" y="1213.7" font-size="25.4" textLength="152.9" lengthAdjust="spacingAndGlyphs" transform="rotate(-90 834.4 1213.7)">Log<tspan font-size="16.3" dy="4.3">2</tspan><tspan dy="-4.3"> Intensity</tspan></text>
<text x="987.1" y="977.6" font-size="36.2" textLength="118.8" lengthAdjust="spacingAndGlyphs">AZGP1</text>
<path d="M948.7 1012.2L950.3 1012.2C950.9 1014.2 951.8 1016.3 953 1018.4C954.5 1021 956.7 1023.6 959.2 1026.2C961.8 1028.8 965.7 1031.4 969 1034C972.2 1036.6 975.9 1039.2 978.7 1041.8C980.8 1043.7 983.2 1045.6 984.1 1047.6C985.1 1049.5 985.9 1051.5 986.1 1053.4C986.3 1055.4 986.2 1057.3 986.5 1059.3C986.7 1061.2 989.4 1063.2 991.3 1065.1C993.3 1067.1 996.4 1069 999.1 1070.9C1001.9 1072.9 1005.3 1074.8 1007.9 1076.8C1010.4 1078.7 1013.4 1080.7 1014.7 1082.6C1016.1 1084.7 1017.6 1086.8 1017.6 1088.9C1017.6 1090.7 1016.1 1092.5 1014.7 1094.3C1013.2 1096.3 1009.4 1098.2 1005.9 1100.1C1002.5 1102.1 997.8 1104 993.3 1106C988.8 1107.9 983.2 1109.9 978.7 1111.8C974.2 1113.8 969.5 1115.7 966 1117.7C962.6 1119.6 959.5 1121.6 957.3 1123.5C955 1125.5 953 1127.4 951.8 1129.3C950.8 1131.1 949.9 1132.8 949.5 1134.6C949.1 1132.8 948.2 1131.1 947.2 1129.3C946 1127.4 944 1125.5 941.7 1123.5C939.5 1121.6 936.4 1119.6 933 1117.7C929.5 1115.7 924.8 1113.8 920.3 1111.8C915.8 1109.9 910.2 1107.9 905.7 1106C901.2 1104 896.5 1102.1 893.1 1100.1C889.6 1098.2 885.8 1096.3 884.3 1094.3C882.9 1092.5 881.4 1090.7 881.4 1088.9C881.4 1086.8 882.9 1084.7 884.3 1082.6C885.6 1080.7 888.6 1078.7 891.1 1076.8C893.7 1074.8 897.1 1072.9 899.9 1070.9C902.6 1069 905.7 1067.1 907.7 1065.1C909.6 1063.2 912.3 1061.2 912.5 1059.3C912.8 1057.3 912.7 1055.4 912.9 1053.4C913.1 1051.5 913.9 1049.5 914.9 1047.6C915.8 1045.6 918.2 1043.7 920.3 1041.8C923.1 1039.2 926.8 1036.6 930 1034C933.3 1031.4 937.2 1028.8 939.8 1026.2C942.3 1023.6 944.5 1021 946 1018.4C947.2 1016.3 948.1 1014.2 948.7 1012.2Z" fill="#fcc99b" stroke="#444444" stroke-width="0.9" stroke-linejoin="round"/>
<path d="M921.3 1041.2h56.4M901 1070.4h96.9M891.8 1076.5h115.3M881.9 1087.7h135.2M881.9 1089.7h135.3M882.2 1090.6h134.6M886.5 1096h126" stroke="#3a3a3a" stroke-width="1.1" opacity="0.95" fill="none"/>
<path d="M934 1031.3h31.1M913 1058h72.9M897.8 1102.3h103.5" stroke="#3a3a3a" stroke-width="1.4" opacity="0.55" fill="none"/>
<path d="M913.6 1051.9h71.8" stroke="#3a3a3a" stroke-width="1.8" fill="none"/>
<path d="M913.2 1054.5h72.6M913.2 1055.5h72.7M913.1 1056.5h72.8" stroke="#3a3a3a" stroke-width="1" opacity="0.4" fill="none"/>
<path d="M890.6 1077.5h117.9M889.2 1078.5h120.6" stroke="#3a3a3a" stroke-width="1" opacity="0.45" fill="none"/>
<path d="M884.1 1083.5h130.8M883.4 1084.5h132.1M882.8 1085.5h133.3" stroke="#3a3a3a" stroke-width="1" opacity="0.5" fill="none"/>
<path d="M882.3 1086.5h134.3M882 1087.5h135.1M881.8 1088.5h135.4M881.8 1089.5h135.3M888.8 1097.5h121.4M890.5 1098.5h118M892.3 1099.5h114.4M894.1 1100.5h110.8" stroke="#3a3a3a" stroke-width="1" opacity="0.65" fill="none"/>
<path d="M896.4 1073.5h106.2M894.8 1074.5h109.3" stroke="#3a3a3a" stroke-width="1" opacity="0.7" fill="none"/>
<path d="M917.7 1044.5h63.5M916.8 1045.5h65.5" stroke="#3a3a3a" stroke-width="1" opacity="0.85" fill="none"/>
<path d="M907.3 1106.5h84.4M909.8 1107.5h79.4M912.4 1108.5h74.3" stroke="#3a3a3a" stroke-width="1" opacity="0.9" fill="none"/>
<path d="M1119.4 1012.2C1119.9 1014.2 1120.4 1016.3 1121 1018.4C1121.8 1021.6 1122.5 1024.9 1123.7 1028.1C1124.9 1031.4 1127.3 1034.6 1129.1 1037.9C1130.9 1041.1 1132.8 1044.3 1134.6 1047.6C1136.4 1050.8 1138.2 1054.1 1139.8 1057.3C1141.9 1061.2 1143.7 1065.1 1145.7 1069C1147.6 1072.9 1149.6 1076.8 1151.5 1080.7C1154.1 1085.9 1156.7 1091.1 1159.3 1096.3C1161.9 1101.4 1164.5 1106.6 1167.1 1111.8C1169.4 1116.4 1171.4 1120.9 1173.9 1125.5C1175.7 1128.7 1177.9 1131.9 1179.7 1135.2C1181.6 1138.4 1184.1 1141.7 1185.2 1144.9C1186.3 1148.2 1187.5 1151.4 1187.5 1154.6C1187.5 1157.9 1187.1 1161.1 1186.6 1164.4C1186 1167.6 1183.1 1170.9 1180.7 1174.1C1178.3 1177.4 1174.5 1180.6 1171 1183.8C1167.4 1187.1 1163.2 1190.3 1159.3 1193.6C1155.4 1196.8 1151.2 1200.1 1147.6 1203.3C1144.1 1206.6 1141 1209.8 1137.9 1213C1134.8 1216.3 1130.8 1219.5 1129.1 1222.8C1127.5 1226 1126.1 1229.3 1125.6 1232.5C1125.2 1235.1 1124.9 1237.7 1124.9 1240.3L1113.9 1240.3C1113.9 1237.7 1113.6 1235.1 1113.2 1232.5C1112.7 1229.3 1111.3 1226 1109.7 1222.8C1108 1219.5 1104 1216.3 1100.9 1213C1097.8 1209.8 1094.7 1206.6 1091.2 1203.3C1087.6 1200.1 1083.4 1196.8 1079.5 1193.6C1075.6 1190.3 1071.4 1187.1 1067.8 1183.8C1064.3 1180.6 1060.5 1177.4 1058.1 1174.1C1055.7 1170.9 1052.8 1167.6 1052.2 1164.4C1051.7 1161.1 1051.3 1157.9 1051.3 1154.6C1051.3 1151.4 1052.5 1148.2 1053.6 1144.9C1054.7 1141.7 1057.2 1138.4 1059.1 1135.2C1060.9 1131.9 1063.1 1128.7 1064.9 1125.5C1067.4 1120.9 1069.4 1116.4 1071.7 1111.8C1074.3 1106.6 1076.9 1101.4 1079.5 1096.3C1082.1 1091.1 1084.7 1085.9 1087.3 1080.7C1089.2 1076.8 1091.2 1072.9 1093.1 1069C1095.1 1065.1 1096.9 1061.2 1099 1057.3C1100.6 1054.1 1102.4 1050.8 1104.2 1047.6C1106 1044.3 1107.9 1041.1 1109.7 1037.9C1111.5 1034.6 1113.9 1031.4 1115.1 1028.1C1116.3 1024.9 1117 1021.6 1117.8 1018.4C1118.4 1016.3 1118.9 1014.2 1119.4 1012.2Z" fill="#9dd89c" stroke="#444444" stroke-width="0.9" stroke-linejoin="round"/>
<path d="M1114.2 1237.3h10.4" stroke="#3a3a3a" stroke-width="1" opacity="0.42" fill="none"/>
<path d="M1099.4 1057.2h39.9M1092.7 1070.6h53.4M1085.3 1085.4h68.2M1080.3 1095.5h78.2M1077.7 1100.6h83.3M1072.7 1110.6h93.4M1062.2 1130.7h114.5M1053.9 1145.2h131M1052.2 1150.5h134.3M1051.7 1154.4h135.4M1051.7 1156.9h135.3M1051.9 1159h135M1053 1165.6h132.9M1068.2 1183.8h102.4M1080.9 1194.4h77" stroke="#3a3a3a" stroke-width="1.1" opacity="0.95" fill="none"/>
<path d="M1096.9 1062.1h45M1081.9 1092.3h75.1M1075.3 1105.5h88.3M1057.8 1137.8h123.1M1056.2 1140.4h126.4M1063 1179.1h112.7M1075.7 1190.2h87.3" stroke="#3a3a3a" stroke-width="1.4" opacity="0.55" fill="none"/>
<path d="M1055.7 1170.5h127.3M1056.5 1171.5h125.8M1057.3 1172.5h124.3M1058 1173.5h122.8" stroke="#3a3a3a" stroke-width="1" opacity="0.45" fill="none"/>
<path d="M1066.3 1123.5h106.1M1065.8 1124.5h107.2M1065.3 1125.5h108.3" stroke="#3a3a3a" stroke-width="1" opacity="0.6" fill="none"/>
<line x1="949.5" y1="1083.6" x2="1120.0" y2="1145.5" stroke="#ff0000" stroke-width="2" stroke-linecap="butt"/>
<text x="1015.9" y="1086.1" font-size="36.0" textLength="65.3" lengthAdjust="spacing" stroke="#000" stroke-width="0.45">****</text>
<text x="924.9" y="1295.3" font-size="30.0" textLength="43.3" lengthAdjust="spacingAndGlyphs">FM</text>
<text x="1107.6" y="1295.3" font-size="29.1" textLength="43.7" lengthAdjust="spacingAndGlyphs">VM</text>
<line x1="1371.1" y1="989.2" x2="1371.1" y2="1264.1" stroke="#6a635d" stroke-width="1.8" />
<line x1="1365.7" y1="1263.5" x2="1711.5" y2="1263.5" stroke="#2a2a2a" stroke-width="1.25" />
<path d="M1365.7 1010.6h5.4M1365.7 1052.8h5.4M1365.7 1094.7h5.4M1365.7 1137.1h5.4M1365.7 1179.4h5.4M1365.7 1221.4h5.4M1365.7 1263.3h5.4M1368.2 989.5h2.9M1368.2 1031.7h2.9M1368.2 1073.8h2.9M1368.2 1115.9h2.9M1368.2 1158.2h2.9M1368.2 1200.4h2.9M1368.2 1242.3h2.9M1456.4 1263.5v2.6M1626.1 1263.5v2.6" stroke="#2a2a2a" stroke-width="0.9" fill="none"/>
<text x="1342.9" y="1020.0" font-size="18.5">10</text>
<text x="1353.3" y="1061.9" font-size="18.5">8</text>
<text x="1353.3" y="1102.1" font-size="18.5">6</text>
<text x="1353.1" y="1143.6" font-size="18.5">4</text>
<text x="1353.5" y="1184.5" font-size="18.5">2</text>
<text x="1353.2" y="1223.8" font-size="18.5">0</text>
<text x="1347.3" y="1265.3" font-size="18.5">-2</text>
<text x="1336.4" y="1211.2" font-size="25.5" textLength="153.6" lengthAdjust="spacingAndGlyphs" transform="rotate(-90 1336.4 1211.2)">Log<tspan font-size="16.3" dy="4.3">2</tspan><tspan dy="-4.3"> Intensity</tspan></text>
<text x="1491.4" y="982.1" font-size="36.2" textLength="118.8" lengthAdjust="spacingAndGlyphs">AZGP1</text>
<path d="M1450.6 1010.2L1462.2 1010.2C1464.6 1012.9 1466.7 1015.7 1468.1 1018.4C1469.8 1021.6 1470.7 1024.9 1472 1028.1C1473.3 1031.4 1473.9 1034.6 1475.9 1037.9C1477.5 1040.5 1481.9 1043 1485.6 1045.6C1489.3 1048.2 1494.6 1050.8 1498.2 1053.4C1501.9 1056 1506 1058.6 1508 1061.2C1509.5 1063.2 1511.3 1065.1 1511.3 1067.1C1511.3 1069 1510.1 1070.9 1509 1072.9C1507.5 1075.5 1503.2 1078.1 1500.2 1080.7C1496.4 1083.9 1491.6 1087.2 1488.5 1090.4C1485.4 1093.7 1482.9 1096.9 1480.7 1100.1C1478.1 1104 1476.4 1107.9 1473.9 1111.8C1471.8 1115.1 1469.3 1118.3 1467.1 1121.6C1465.3 1124.2 1463.1 1126.7 1461.9 1129.3C1460.3 1132.6 1458.8 1135.8 1458.3 1139.1C1457.6 1144.3 1457 1149.5 1457 1154.6C1457 1159.8 1458.4 1165 1458.7 1170.2C1459.1 1176.7 1459.5 1183.2 1459.5 1189.7C1459.5 1196.2 1459.1 1202.7 1458.7 1209.1C1458.5 1213.7 1457.8 1218.2 1457.4 1222.8C1457 1226.2 1456.7 1229.7 1456.4 1233.1C1456.1 1229.7 1455.8 1226.2 1455.4 1222.8C1455 1218.2 1454.3 1213.7 1454.1 1209.1C1453.7 1202.7 1453.3 1196.2 1453.3 1189.7C1453.3 1183.2 1453.7 1176.7 1454.1 1170.2C1454.4 1165 1455.8 1159.8 1455.8 1154.6C1455.8 1149.5 1455.2 1144.3 1454.5 1139.1C1454 1135.8 1452.5 1132.6 1450.9 1129.3C1449.7 1126.7 1447.5 1124.2 1445.7 1121.6C1443.5 1118.3 1441 1115.1 1438.9 1111.8C1436.4 1107.9 1434.7 1104 1432.1 1100.1C1429.9 1096.9 1427.4 1093.7 1424.3 1090.4C1421.2 1087.2 1416.4 1083.9 1412.6 1080.7C1409.6 1078.1 1405.3 1075.5 1403.8 1072.9C1402.7 1070.9 1401.5 1069 1401.5 1067.1C1401.5 1065.1 1403.3 1063.2 1404.8 1061.2C1406.8 1058.6 1410.9 1056 1414.6 1053.4C1418.2 1050.8 1423.5 1048.2 1427.2 1045.6C1430.9 1043 1435.3 1040.5 1436.9 1037.9C1438.9 1034.6 1439.5 1031.4 1440.8 1028.1C1442.1 1024.9 1443 1021.6 1444.7 1018.4C1446.1 1015.7 1448.2 1012.9 1450.6 1010.2Z" fill="#fcc99b" stroke="#444444" stroke-width="1" stroke-linejoin="round"/>
<path d="M1442.8 1023.8h27.2M1439.7 1032.4h33.3M1436.1 1039.4h40.7M1418.6 1051.1h75.6M1410.8 1056.4h91.2M1405.2 1061.2h102.4M1402.3 1065.5h108.3M1402.4 1069.4h108M1404.9 1073.9h102.9M1409.8 1078.2h93.2M1415.4 1082.6h82.1M1420.8 1086.9h71.2M1425.6 1091.4h61.6M1428.9 1095.3h55M1432.5 1100.1h47.9M1435.4 1105h42M1437.9 1109.5h37.1M1441.2 1114.7h30.3M1450.8 1128.4h11.1M1454.4 1171.2h4M1453.7 1189.7h5.4M1454.4 1208.8h3.9" stroke="#3a3a3a" stroke-width="1.1" opacity="0.95" fill="none"/>
<path d="M1615.4 1010.2L1636.8 1010.2C1641 1012.9 1645.2 1015.7 1649.5 1018.4C1654.6 1021.6 1660.6 1024.9 1665 1028.1C1669.5 1031.4 1673.6 1034.6 1676.7 1037.9C1679.8 1041.1 1683.5 1044.3 1684.5 1047.6C1685.5 1050.8 1686.4 1054.1 1686.4 1057.3C1686.4 1061.2 1685.1 1065.1 1684.5 1069C1683.8 1072.9 1682.5 1076.8 1682.5 1080.7C1682.5 1084.6 1683 1088.5 1683.5 1092.4C1684.1 1096.3 1687.6 1100.1 1689.4 1104C1691.1 1107.9 1694.2 1111.8 1694.2 1115.7C1694.2 1119 1694.2 1122.2 1694.2 1125.5C1694.2 1128.7 1690.8 1131.9 1688.4 1135.2C1686 1138.4 1682.1 1141.7 1678.7 1144.9C1675.3 1148.2 1671.2 1151.4 1667.9 1154.6C1664.7 1157.9 1661 1161.1 1659.2 1164.4C1657.4 1167.6 1655.4 1170.9 1655.3 1174.1C1655 1180.6 1655.1 1187.1 1654.9 1193.6C1654.8 1198.8 1654.7 1204 1654.3 1209.1C1654 1213 1651.4 1216.9 1649.5 1220.8C1647.6 1224.7 1644.9 1228.6 1642.6 1232.5C1640.7 1235.8 1638.8 1239 1636.8 1242.2L1615.4 1242.2C1613.4 1239 1611.5 1235.8 1609.6 1232.5C1607.3 1228.6 1604.6 1224.7 1602.7 1220.8C1600.8 1216.9 1598.2 1213 1597.9 1209.1C1597.5 1204 1597.4 1198.8 1597.3 1193.6C1597.1 1187.1 1597.2 1180.6 1596.9 1174.1C1596.8 1170.9 1594.8 1167.6 1593 1164.4C1591.2 1161.1 1587.5 1157.9 1584.3 1154.6C1581 1151.4 1576.9 1148.2 1573.5 1144.9C1570.1 1141.7 1566.2 1138.4 1563.8 1135.2C1561.4 1131.9 1558 1128.7 1558 1125.5C1558 1122.2 1558 1119 1558 1115.7C1558 1111.8 1561.1 1107.9 1562.8 1104C1564.6 1100.1 1568.1 1096.3 1568.7 1092.4C1569.2 1088.5 1569.7 1084.6 1569.7 1080.7C1569.7 1076.8 1568.4 1072.9 1567.7 1069C1567.1 1065.1 1565.8 1061.2 1565.8 1057.3C1565.8 1054.1 1566.7 1050.8 1567.7 1047.6C1568.7 1044.3 1572.4 1041.1 1575.5 1037.9C1578.6 1034.6 1582.7 1031.4 1587.2 1028.1C1591.6 1024.9 1597.6 1021.6 1602.7 1018.4C1607 1015.7 1611.2 1012.9 1615.4 1010.2Z" fill="#9dd89c" stroke="#444444" stroke-width="1" stroke-linejoin="round"/>
<path d="M1568.6 1094.2h115M1558.4 1120.1h135.5M1614.2 1239.7h23.7" stroke="#3a3a3a" stroke-width="1" opacity="0.42" fill="none"/>
<path d="M1582.1 1032.3h88M1574.7 1039.1h102.9M1569.3 1045.2h113.6M1566.2 1056.7h119.9M1566.5 1061.2h119.2M1567.4 1065.6h117.4M1568.2 1069.4h115.8M1569.9 1078.5h112.4M1570 1082.4h112.1M1569.8 1086.5h112.6M1563 1104.5h126.1M1560.3 1109.6h131.7M1558.5 1114.6h135.3M1558.4 1124h135.5M1568 1139.4h116.1M1578.2 1148.8h95.8M1584.3 1154.3h83.7M1597.4 1177.2h57.4M1597.8 1196.7h56.7M1600.6 1216h51M1601.5 1217.6h49.3M1604.5 1223.5h43.1M1607.3 1228.1h37.7" stroke="#3a3a3a" stroke-width="1.1" opacity="0.95" fill="none"/>
<path d="M1569.1 1073.6h114.1M1567.6 1096.4h116.9M1565 1100.8h122.2M1597.5 1180.7h57.2M1597.6 1189.8h57M1597.9 1201.1h56.4M1598.3 1208.8h55.7" stroke="#3a3a3a" stroke-width="1.4" opacity="0.55" fill="none"/>
<path d="M1569.2 1091.7h113.9" stroke="#3a3a3a" stroke-width="1.8" fill="none"/>
<path d="M1558.4 1116.5h135.5M1558.4 1117.5h135.5M1558.4 1118.5h135.5" stroke="#3a3a3a" stroke-width="1" opacity="0.5" fill="none"/>
<path d="M1559.2 1128.5h133.7M1559.8 1129.5h132.5M1563.7 1134.5h124.8M1564.5 1135.5h123.3M1572.4 1143.5h107.3M1573.5 1144.5h105.2" stroke="#3a3a3a" stroke-width="1" opacity="0.6" fill="none"/>
<path d="M1560.5 1130.5h131.2M1561.3 1131.5h129.7M1562.1 1132.5h128.1M1562.9 1133.5h126.4" stroke="#3a3a3a" stroke-width="1" opacity="0.95" fill="none"/>
<line x1="1455.8" y1="1067.1" x2="1627.1" y2="1116.9" stroke="#ff0000" stroke-width="2" stroke-linecap="butt"/>
<text x="1508.4" y="1051.1" font-size="36.0" textLength="64.9" lengthAdjust="spacing" stroke="#000" stroke-width="0.45">****</text>
<text x="1431.2" y="1296.3" font-size="29.8" textLength="43.1" lengthAdjust="spacingAndGlyphs">FM</text>
<text x="1622.5" y="1295.7" font-size="28.6" textLength="42.9" lengthAdjust="spacingAndGlyphs">VM</text>
<line x1="866.5" y1="1298.1" x2="866.5" y2="1568.1" stroke="#2a2a2a" stroke-width="1.25" />
<line x1="863.5" y1="1567.5" x2="1200.9" y2="1567.5" stroke="#2a2a2a" stroke-width="1.25" />
<path d="M861.1 1298.1h5.4M861.1 1361.4h5.4M861.1 1425h5.4M861.1 1488.3h5.4M861.1 1551.7h5.4M863.6 1313.9h2.9M863.6 1329.7h2.9M863.6 1345.5h2.9M863.6 1377.3h2.9M863.6 1393.2h2.9M863.6 1409.1h2.9M863.6 1440.8h2.9M863.6 1456.6h2.9M863.6 1472.5h2.9M863.6 1504.1h2.9M863.6 1520h2.9M863.6 1535.9h2.9M949.5 1567.5v2.6M1116.5 1567.5v2.6" stroke="#2a2a2a" stroke-width="0.9" fill="none"/>
<text x="842.0" y="1303.5" font-size="18.2">12</text>
<text x="851.9" y="1366.2" font-size="18.2">8</text>
<text x="851.8" y="1429.8" font-size="18.2">4</text>
<text x="851.9" y="1493.1" font-size="18.2">0</text>
<text x="845.7" y="1556.5" font-size="18.2">-4</text>
<text x="835.4" y="1508.1" font-size="25.6" textLength="153.9" lengthAdjust="spacingAndGlyphs" transform="rotate(-90 835.4 1508.1)">Log<tspan font-size="16.4" dy="4.3">2</tspan><tspan dy="-4.3"> Intensity</tspan></text>
<text x="998.9" y="1321.6" font-size="37.3" textLength="82.9" lengthAdjust="spacingAndGlyphs">HRG</text>
<path d="M942.7 1329.6L956.3 1329.6C958 1332.6 960.4 1335.5 963.1 1338.4C966.2 1341.6 970.8 1344.9 974.8 1348.1C978.9 1351.4 984 1354.6 987.5 1357.9C990.2 1360.5 993.1 1363 994.7 1365.6C996.2 1368.2 997.6 1370.8 998.2 1373.4C998.7 1375.9 999.1 1378.4 999.1 1380.8C999.1 1383.6 998.2 1386.3 997.2 1389C996.2 1391.6 993.6 1394.2 991.3 1396.8C988.5 1400 984.2 1403.3 980.6 1406.5C977.1 1409.8 972.9 1413 969.9 1416.3C966.9 1419.5 963.4 1422.7 962.2 1426C960.9 1429.2 959.6 1432.5 959.6 1435.7C959.6 1439 960.9 1442.2 962.2 1445.5C963.4 1448.7 966.9 1451.9 969.9 1455.2C972.9 1458.4 976.8 1461.7 980.6 1464.9C984.5 1468.2 989.8 1471.4 993.3 1474.6C996.1 1477.2 999 1479.8 1000.5 1482.4C1001.9 1484.9 1003.6 1487.4 1003.6 1489.8C1003.6 1492.6 1002.4 1495.3 1001.1 1498C999.8 1500.6 995.7 1503.2 992.3 1505.8C989 1508.4 984.3 1511 980.6 1513.6C976.1 1516.8 971.9 1520.1 968 1523.3C964.9 1525.9 961.5 1528.5 959.2 1531.1C957.8 1532.7 956.6 1534.3 955.7 1536L943.3 1536C942.4 1534.3 941.2 1532.7 939.8 1531.1C937.5 1528.5 934.1 1525.9 931 1523.3C927.1 1520.1 922.9 1516.8 918.4 1513.6C914.7 1511 910 1508.4 906.7 1505.8C903.3 1503.2 899.2 1500.6 897.9 1498C896.6 1495.3 895.4 1492.6 895.4 1489.8C895.4 1487.4 897.1 1484.9 898.5 1482.4C900 1479.8 902.9 1477.2 905.7 1474.6C909.2 1471.4 914.5 1468.2 918.4 1464.9C922.2 1461.7 926.1 1458.4 929.1 1455.2C932.1 1451.9 935.6 1448.7 936.8 1445.5C938.1 1442.2 939.4 1439 939.4 1435.7C939.4 1432.5 938.1 1429.2 936.8 1426C935.6 1422.7 932.1 1419.5 929.1 1416.3C926.1 1413 921.9 1409.8 918.4 1406.5C914.8 1403.3 910.5 1400 907.7 1396.8C905.4 1394.2 902.8 1391.6 901.8 1389C900.8 1386.3 899.9 1383.6 899.9 1380.8C899.9 1378.4 900.3 1375.9 900.8 1373.4C901.4 1370.8 902.8 1368.2 904.3 1365.6C905.9 1363 908.8 1360.5 911.5 1357.9C915 1354.6 920.1 1351.4 924.2 1348.1C928.2 1344.9 932.8 1341.6 935.9 1338.4C938.6 1335.5 941 1332.6 942.7 1329.6Z" fill="#fcc99b" stroke="#444444" stroke-width="0.9" stroke-linejoin="round"/>
<path d="M903.3 1477.2h92.3M901.4 1479.2h96.3M898.5 1483.2h102.1" stroke="#3a3a3a" stroke-width="1" opacity="0.42" fill="none"/>
<path d="M934.3 1340.3h30.4M905.6 1364.3h87.7M903.2 1368.3h92.6M901.9 1371.3h95.3M900.5 1377.5h98M900.4 1382.7h98.2M901.7 1387.7h95.5M903 1390.6h93M905.7 1394.2h87.5M916.6 1404.6h65.8M899.9 1500.1h99.3" stroke="#3a3a3a" stroke-width="1.1" opacity="0.95" fill="none"/>
<path d="M900.3 1380.2h98.5M900.9 1385h97.2M909.1 1397.9h80.9M912.2 1400.9h74.5M920.4 1408h58.2M932.1 1419h34.9M933.4 1451h32.1M918.8 1464.8h61.3" stroke="#3a3a3a" stroke-width="1.4" opacity="0.55" fill="none"/>
<path d="M898.1 1497.5h102.9M898.6 1498.5h101.8" stroke="#3a3a3a" stroke-width="1" opacity="0.8" fill="none"/>
<path d="M896.4 1493.5h106.2M896.8 1494.5h105.5M897.2 1495.5h104.7" stroke="#3a3a3a" stroke-width="1" opacity="0.9" fill="none"/>
<path d="M897.7 1484.5h103.6M897.1 1485.5h104.7M896.6 1486.5h105.7M896.2 1487.5h106.5M895.9 1488.5h107.1M895.8 1489.5h107.4M895.8 1490.5h107.4" stroke="#3a3a3a" stroke-width="1" opacity="0.97" fill="none"/>
<path d="M1107.7 1329.6L1125.9 1329.6C1128.8 1332.6 1131.6 1335.5 1134.3 1338.4C1137.3 1341.6 1140.7 1344.9 1143.1 1348.1C1145.4 1351.4 1147.4 1354.6 1148.9 1357.9C1150.5 1361.1 1151.7 1364.3 1152.8 1367.6C1154.3 1372.1 1155.8 1376.7 1156.7 1381.2C1157.8 1386.4 1159 1391.6 1159.2 1396.8C1159.4 1400.7 1159.6 1404.6 1159.6 1408.5C1159.6 1412.4 1158.1 1416.3 1156.7 1420.1C1155.3 1424 1151.8 1427.9 1149.9 1431.8C1148.3 1435.1 1146.2 1438.3 1145.6 1441.6C1145.1 1444.2 1144.6 1446.7 1144.6 1449.3C1144.6 1452.6 1146.9 1455.8 1148.9 1459.1C1151 1462.3 1155.9 1465.6 1159.6 1468.8C1163.3 1472.1 1168 1475.3 1171.3 1478.5C1174.6 1481.8 1178.2 1485 1180.1 1488.3C1181.7 1491.2 1183.8 1494.1 1183.8 1497C1183.8 1500 1182.4 1502.9 1181 1505.8C1179.8 1508.4 1176.4 1511 1173.2 1513.6C1170.1 1516.2 1165.8 1518.8 1161.6 1521.4C1157.4 1524 1152.4 1526.6 1147.9 1529.1C1144 1531.4 1140.1 1533.7 1136.3 1536L1097.3 1536C1093.5 1533.7 1089.6 1531.4 1085.7 1529.1C1081.2 1526.6 1076.2 1524 1072 1521.4C1067.8 1518.8 1063.5 1516.2 1060.4 1513.6C1057.2 1511 1053.8 1508.4 1052.6 1505.8C1051.2 1502.9 1049.8 1500 1049.8 1497C1049.8 1494.1 1051.9 1491.2 1053.5 1488.3C1055.4 1485 1059 1481.8 1062.3 1478.5C1065.6 1475.3 1070.3 1472.1 1074 1468.8C1077.7 1465.6 1082.6 1462.3 1084.7 1459.1C1086.7 1455.8 1089 1452.6 1089 1449.3C1089 1446.7 1088.5 1444.2 1088 1441.6C1087.4 1438.3 1085.3 1435.1 1083.7 1431.8C1081.8 1427.9 1078.3 1424 1076.9 1420.1C1075.5 1416.3 1074 1412.4 1074 1408.5C1074 1404.6 1074.2 1400.7 1074.4 1396.8C1074.6 1391.6 1075.8 1386.4 1076.9 1381.2C1077.8 1376.7 1079.3 1372.1 1080.8 1367.6C1081.9 1364.3 1083.1 1361.1 1084.7 1357.9C1086.2 1354.6 1088.2 1351.4 1090.5 1348.1C1092.9 1344.9 1096.3 1341.6 1099.3 1338.4C1102 1335.5 1104.8 1332.6 1107.7 1329.6Z" fill="#9dd89c" stroke="#444444" stroke-width="0.9" stroke-linejoin="round"/>
<path d="M1092.4 1346.3h48.9M1085.8 1356.4h62M1082.3 1364.3h68.9M1080.9 1368.3h71.7M1080 1371.3h73.6M1079 1374.6h75.6M1078.2 1377.5h77.3M1076.7 1384h80.2M1076 1387.5h81.6M1075.4 1391.2h82.9M1074.4 1404.3h84.7M1075.3 1414.2h83M1075.8 1415.7h82.1M1080.8 1426.4h72M1083.2 1430.1h67.3M1084.8 1433.1h64.1M1087.5 1455.2h58.7M1074 1469.1h85.5M1062 1479.2h109.6M1052.6 1490.6h128.5M1051.2 1493.1h131.1M1067.7 1518.4h98.3" stroke="#3a3a3a" stroke-width="1.1" opacity="0.95" fill="none"/>
<path d="M1074.7 1397.2h84.1M1087.3 1438.1h59.1M1079.3 1464.8h75.1M1058.4 1482.7h116.7M1056.2 1485.2h121.3M1050.4 1495.6h132.8" stroke="#3a3a3a" stroke-width="1.4" opacity="0.55" fill="none"/>
<path d="M1074.6 1399.5h84.3M1074.6 1400.5h84.4M1074.5 1401.5h84.5" stroke="#3a3a3a" stroke-width="1" opacity="0.45" fill="none"/>
<path d="M1074.4 1407.5h84.8M1074.4 1408.5h84.8M1074.4 1409.5h84.8M1077.1 1419.5h79.5M1077.4 1420.5h78.7M1077.9 1421.5h77.9M1078.4 1422.5h76.9M1054.4 1487.5h124.8M1053.8 1488.5h126M1053.2 1489.5h127.2" stroke="#3a3a3a" stroke-width="1" opacity="0.5" fill="none"/>
<path d="M1068.6 1473.5h96.4M1067.4 1474.5h98.9M1050.8 1500.5h132M1051.1 1501.5h131.4M1051.5 1502.5h130.6M1052.8 1505.5h127.9M1053.4 1506.5h126.9" stroke="#3a3a3a" stroke-width="1" opacity="0.6" fill="none"/>
<path d="M1074.5 1410.5h84.6M1074.7 1411.5h84.3" stroke="#3a3a3a" stroke-width="1" opacity="0.8" fill="none"/>
<path d="M1074.9 1394.5h83.7M1076.7 1418.5h80.2" stroke="#3a3a3a" stroke-width="1" opacity="0.85" fill="none"/>
<path d="M1054.1 1507.5h125.4M1055 1508.5h123.7" stroke="#3a3a3a" stroke-width="1" opacity="0.9" fill="none"/>
<path d="M1050.3 1497.5h133.1M1050.3 1498.5h132.9M1050.5 1499.5h132.5M1051.9 1503.5h129.8M1052.4 1504.5h128.9M1060.7 1513.5h112.3M1061.9 1514.5h109.8M1063.3 1515.5h107.1" stroke="#3a3a3a" stroke-width="1" opacity="0.95" fill="none"/>
<line x1="949.5" y1="1413.3" x2="1117.7" y2="1460.2" stroke="#ff0000" stroke-width="2" stroke-linecap="butt"/>
<text x="997.8" y="1424.8" font-size="36.0" textLength="65.5" lengthAdjust="spacing" stroke="#000" stroke-width="0.45">****</text>
<text x="925.2" y="1601.0" font-size="30.3" textLength="43.8" lengthAdjust="spacingAndGlyphs">FM</text>
<text x="1108.6" y="1601.3" font-size="28.7" textLength="43.0" lengthAdjust="spacingAndGlyphs">VM</text>
<line x1="1371.5" y1="1297.5" x2="1371.5" y2="1573.1" stroke="#6a635d" stroke-width="1.8" />
<line x1="1366.3" y1="1572.5" x2="1713.8" y2="1572.5" stroke="#2a2a2a" stroke-width="1.25" />
<path d="M1366.1 1297.5h5.4M1366.1 1336.8h5.4M1366.1 1376h5.4M1366.1 1415.3h5.4M1366.1 1454.6h5.4M1366.1 1493.7h5.4M1366.1 1533.2h5.4M1366.1 1572.6h5.4M1368.6 1317.2h2.9M1368.6 1356.4h2.9M1368.6 1395.6h2.9M1368.6 1434.9h2.9M1368.6 1474.2h2.9M1368.6 1513.5h2.9M1368.6 1552.9h2.9M1457 1572.5v2.6M1628.1 1572.5v2.6" stroke="#2a2a2a" stroke-width="0.9" fill="none"/>
<text x="1342.5" y="1298.8" font-size="19.2">12</text>
<text x="1342.2" y="1339.7" font-size="19.2">10</text>
<text x="1352.9" y="1380.1" font-size="19.2">8</text>
<text x="1352.9" y="1420.6" font-size="19.2">6</text>
<text x="1352.7" y="1461.5" font-size="19.2">4</text>
<text x="1353.1" y="1502.4" font-size="19.2">2</text>
<text x="1352.8" y="1542.1" font-size="19.2">0</text>
<text x="1346.7" y="1583.9" font-size="19.2">-2</text>
<text x="1340.0" y="1502.4" font-size="25.5" textLength="153.6" lengthAdjust="spacingAndGlyphs" transform="rotate(-90 1340.0 1502.4)">Log<tspan font-size="16.3" dy="4.3">2</tspan><tspan dy="-4.3"> Intensity</tspan></text>
<text x="1508.5" y="1322.5" font-size="37.2" textLength="82.8" lengthAdjust="spacingAndGlyphs">HRG</text>
<path d="M1452.1 1317L1461.9 1317C1464.2 1318.9 1466.4 1320.9 1468.7 1322.8C1471.7 1325.4 1474.1 1328 1477.4 1330.6C1480.8 1333.2 1485.2 1335.8 1489.1 1338.4C1493 1341 1497.8 1343.6 1500.8 1346.2C1503.8 1348.8 1506.5 1351.4 1508 1354C1509.4 1356.6 1510.7 1359.2 1511.1 1361.8C1511.3 1363 1511.5 1364.3 1511.5 1365.6C1511.5 1368.2 1510.8 1370.8 1509.9 1373.4C1509.1 1376 1506.2 1378.6 1503.7 1381.2C1501.2 1383.8 1497.5 1386.4 1494 1389C1490.4 1391.6 1485.8 1394.2 1482.3 1396.8C1478 1400 1473.3 1403.3 1470.6 1406.5C1467.9 1409.8 1465.8 1413 1464.4 1416.3C1463 1419.5 1462.2 1422.7 1461.3 1426C1460.4 1429.2 1459.5 1432.5 1458.9 1435.7C1458.4 1439 1457.6 1442.2 1457.6 1445.5C1457.6 1448.7 1457.7 1451.9 1457.8 1455.2C1457.9 1460.4 1458.9 1465.6 1459.3 1470.8C1459.8 1475.3 1460.5 1479.8 1460.5 1484.4C1460.5 1487.6 1460.5 1490.9 1460.5 1494.1C1460.5 1497.4 1459.8 1500.6 1459.3 1503.8C1458.9 1507.1 1458.4 1510.3 1458 1513.6C1457.6 1516.7 1457.3 1519.8 1457 1522.9C1456.7 1519.8 1456.4 1516.7 1456 1513.6C1455.6 1510.3 1455.1 1507.1 1454.7 1503.8C1454.2 1500.6 1453.5 1497.4 1453.5 1494.1C1453.5 1490.9 1453.5 1487.6 1453.5 1484.4C1453.5 1479.8 1454.2 1475.3 1454.7 1470.8C1455.1 1465.6 1456.1 1460.4 1456.2 1455.2C1456.3 1451.9 1456.4 1448.7 1456.4 1445.5C1456.4 1442.2 1455.6 1439 1455.1 1435.7C1454.5 1432.5 1453.6 1429.2 1452.7 1426C1451.8 1422.7 1451 1419.5 1449.6 1416.3C1448.2 1413 1446.1 1409.8 1443.4 1406.5C1440.7 1403.3 1436 1400 1431.7 1396.8C1428.2 1394.2 1423.6 1391.6 1420 1389C1416.5 1386.4 1412.8 1383.8 1410.3 1381.2C1407.8 1378.6 1404.9 1376 1404.1 1373.4C1403.2 1370.8 1402.5 1368.2 1402.5 1365.6C1402.5 1364.3 1402.7 1363 1402.9 1361.8C1403.3 1359.2 1404.6 1356.6 1406 1354C1407.5 1351.4 1410.2 1348.8 1413.2 1346.2C1416.2 1343.6 1421 1341 1424.9 1338.4C1428.8 1335.8 1433.2 1333.2 1436.6 1330.6C1439.9 1328 1442.3 1325.4 1445.3 1322.8C1447.6 1320.9 1449.8 1318.9 1452.1 1317Z" fill="#fcc99b" stroke="#444444" stroke-width="1" stroke-linejoin="round"/>
<path d="M1437.5 1330.2h39.1M1421.6 1340.7h70.8M1410.4 1349.1h93.2M1405.2 1356.3h103.7M1403.1 1363.3h107.9M1403.3 1369.1h107.4M1405.2 1375h103.6M1408.8 1379.3h96.5M1412.8 1383.2h88.4M1417.8 1387.1h78.5M1421.8 1390h70.4M1426.3 1392.9h61.4M1431.6 1396.4h50.9M1436 1399.7h42M1444.6 1407.5h24.9M1452.9 1425h8.3M1455.1 1470.4h3.8M1453.9 1492.6h6.2M1454.2 1498h5.6" stroke="#3a3a3a" stroke-width="1.1" opacity="0.95" fill="none"/>
<path d="M1628.2 1333.1C1628.5 1335.5 1629.1 1337.9 1629.8 1340.3C1630.7 1343.6 1631.9 1346.8 1633.7 1350.1C1635.7 1354 1639.4 1357.9 1642.8 1361.8C1646.2 1365.6 1650.2 1369.5 1654.5 1373.4C1658.8 1377.3 1664.1 1381.2 1669.1 1385.1C1674.1 1389 1680.5 1392.9 1684.6 1396.8C1688.1 1400 1691.8 1403.3 1693.4 1406.5C1695 1409.8 1696.7 1413 1696.7 1416.3C1696.7 1419.5 1694.9 1422.7 1693.4 1426C1691.9 1429.2 1688.3 1432.5 1686.6 1435.7C1684.8 1439 1682.3 1442.2 1682.3 1445.5C1682.3 1448.7 1684.1 1451.9 1685.6 1455.2C1687.1 1458.4 1692.8 1461.7 1692.8 1464.9C1692.8 1468.2 1692.7 1471.4 1692.4 1474.6C1692.2 1477.9 1688 1481.1 1685.6 1484.4C1683.2 1487.6 1680.3 1490.9 1677.8 1494.1C1675.4 1497.4 1673.3 1500.6 1671 1503.8C1668.8 1507.1 1666.5 1510.3 1664.2 1513.6C1661.9 1516.8 1659.7 1520.1 1657.4 1523.3C1655.1 1526.6 1652.9 1529.8 1650.6 1533C1648.3 1536.3 1645.8 1539.5 1643.8 1542.8C1641.6 1546.2 1639.6 1549.7 1637.9 1553.1L1618.5 1553.1C1616.8 1549.7 1614.8 1546.2 1612.6 1542.8C1610.6 1539.5 1608.1 1536.3 1605.8 1533C1603.5 1529.8 1601.3 1526.6 1599 1523.3C1596.7 1520.1 1594.5 1516.8 1592.2 1513.6C1589.9 1510.3 1587.6 1507.1 1585.4 1503.8C1583.1 1500.6 1581 1497.4 1578.6 1494.1C1576.1 1490.9 1573.2 1487.6 1570.8 1484.4C1568.4 1481.1 1564.2 1477.9 1564 1474.6C1563.7 1471.4 1563.6 1468.2 1563.6 1464.9C1563.6 1461.7 1569.3 1458.4 1570.8 1455.2C1572.3 1451.9 1574.1 1448.7 1574.1 1445.5C1574.1 1442.2 1571.6 1439 1569.8 1435.7C1568.1 1432.5 1564.5 1429.2 1563 1426C1561.5 1422.7 1559.7 1419.5 1559.7 1416.3C1559.7 1413 1561.4 1409.8 1563 1406.5C1564.6 1403.3 1568.3 1400 1571.8 1396.8C1575.9 1392.9 1582.3 1389 1587.3 1385.1C1592.3 1381.2 1597.6 1377.3 1601.9 1373.4C1606.2 1369.5 1610.2 1365.6 1613.6 1361.8C1617 1357.9 1620.7 1354 1622.7 1350.1C1624.5 1346.8 1625.7 1343.6 1626.6 1340.3C1627.3 1337.9 1627.9 1335.5 1628.2 1333.1Z" fill="#9dd89c" stroke="#444444" stroke-width="1" stroke-linejoin="round"/>
<path d="M1601.2 1374.4h54M1560.1 1416.4h136.2M1561.1 1420.9h134.2M1568.6 1433.3h119.2M1570.8 1436.7h114.9M1574.3 1447.5h107.9M1568.4 1458.7h119.6M1566.6 1460.4h123.1M1564 1465.4h128.4M1564.5 1475.3h127.5M1565.3 1477.3h125.7M1572.8 1486.5h110.8M1577.4 1492h101.7M1581.9 1498.3h92.5M1583.6 1500.6h89.3M1586.1 1504.3h84.2M1592.5 1513.4h71.5M1597.5 1520.6h61.3M1607.9 1535.4h40.7M1612.3 1541.6h31.9" stroke="#3a3a3a" stroke-width="1.1" opacity="0.95" fill="none"/>
<path d="M1589.1 1384.1h78.3M1584.2 1387.7h87.9M1573 1396h110.3M1569.1 1399.6h118.1M1566.1 1402.7h124.2M1562.6 1408.1h131.2M1562.9 1425h130.5M1565.2 1428.9h126M1566.4 1478.9h123.5M1568.2 1481h119.9" stroke="#3a3a3a" stroke-width="1.4" opacity="0.55" fill="none"/>
<path d="M1560.7 1412.6h135M1564.1 1471.1h128.1" stroke="#3a3a3a" stroke-width="1.8" fill="none"/>
<path d="M1598.1 1521.5h60.1M1598.8 1522.5h58.7M1599.5 1523.5h57.3M1600.2 1524.5h55.9" stroke="#3a3a3a" stroke-width="1" opacity="0.25" fill="none"/>
<path d="M1565.7 1461.5h125.1M1564.9 1462.5h126.6M1564.3 1463.5h127.8M1564 1464.5h128.4" stroke="#3a3a3a" stroke-width="1" opacity="0.6" fill="none"/>
<line x1="1456.4" y1="1369.1" x2="1628.7" y2="1459.5" stroke="#ff0000" stroke-width="2" stroke-linecap="butt"/>
<text x="1514.2" y="1402.8" font-size="36.0" textLength="64.9" lengthAdjust="spacing" stroke="#000" stroke-width="0.45">****</text>
<text x="1432.3" y="1604.8" font-size="30.1" textLength="43.4" lengthAdjust="spacingAndGlyphs">FM</text>
<text x="1619.2" y="1604.7" font-size="28.7" textLength="43.0" lengthAdjust="spacingAndGlyphs">VM</text>
<text x="766.7" y="1679.1" font-size="45.8" font-weight="bold" textLength="27.9" lengthAdjust="spacingAndGlyphs">g</text>
<text x="818.1" y="1679.0" font-size="41.0" textLength="157.3" lengthAdjust="spacingAndGlyphs">Cerebral</text>
<text x="987.2" y="1679.0" font-size="41.2" font-style="italic" textLength="52.6" lengthAdjust="spacingAndGlyphs">vs.</text>
<text x="1048.2" y="1679.0" font-size="41.2" textLength="130.6" lengthAdjust="spacingAndGlyphs">Severe</text>
<text x="1188.3" y="1679.0" font-size="40.8" textLength="133.7" lengthAdjust="spacingAndGlyphs">anemia</text>
<text x="1332.9" y="1679.0" font-size="40.2" textLength="131.8" lengthAdjust="spacingAndGlyphs">malaria</text>
<text x="980.6" y="1742.3" font-size="37.3" textLength="163.7" lengthAdjust="spacingAndGlyphs">Discovery</text>
<text x="1473.6" y="1747.1" font-size="37.8" textLength="163.1" lengthAdjust="spacingAndGlyphs">Validation</text>
<line x1="877.5" y1="1784.3" x2="877.5" y2="2054.1" stroke="#2a2a2a" stroke-width="1.25" />
<line x1="875.2" y1="2053.5" x2="1213.7" y2="2053.5" stroke="#2a2a2a" stroke-width="1.25" />
<path d="M872.1 1806.7h5.4M872.1 1851.5h5.4M872.1 1896.4h5.4M872.1 1941.4h5.4M872.1 1986.4h5.4M872.1 2031.1h5.4M874.6 1784.3h2.9M874.6 1829.1h2.9M874.6 1874h2.9M874.6 1918.9h2.9M874.6 1963.9h2.9M874.6 2008.8h2.9M961.4 2053.5v2.6M1129.4 2053.5v2.6" stroke="#2a2a2a" stroke-width="0.9" fill="none"/>
<text x="846.0" y="1811.4" font-size="17.9">0.5</text>
<text x="845.9" y="1857.3" font-size="17.9">0.0</text>
<text x="840.1" y="1904.8" font-size="17.9">-0.5</text>
<text x="840.0" y="1950.2" font-size="17.9">-1.0</text>
<text x="840.1" y="1996.9" font-size="17.9">-1.5</text>
<text x="840.0" y="2043.0" font-size="17.9">-2.0</text>
<text x="833.8" y="2006.2" font-size="25.6" textLength="154.2" lengthAdjust="spacingAndGlyphs" transform="rotate(-90 833.8 2006.2)">Log<tspan font-size="16.4" dy="4.4">2</tspan><tspan dy="-4.4"> Intensity</tspan></text>
<text x="968.5" y="1800.8" font-size="37.3" textLength="184.3" lengthAdjust="spacingAndGlyphs">SERPINA3</text>
<path d="M950.7 1815.5L972.1 1815.5C974 1818.4 975.6 1821.3 976.6 1824.2C977.6 1827.5 978.7 1830.7 978.9 1834C979.1 1836.6 979.3 1839.2 979.3 1841.8C979.3 1846.9 979.3 1852.1 979.3 1857.3C979.3 1860.6 980 1863.8 980.9 1867.1C981.7 1870.3 984.3 1873.5 986.7 1876.8C989.1 1880 993.4 1883.3 996.4 1886.5C999.5 1889.8 1002.4 1893 1005.2 1896.3C1007.9 1899.5 1010.2 1902.7 1013 1906C1015.7 1909.2 1019.5 1912.5 1021.7 1915.7C1024 1919 1026.2 1922.2 1027.2 1925.5C1027.8 1927.4 1028.6 1929.3 1028.6 1931.3C1028.6 1933.9 1027.9 1936.5 1027.2 1939.1C1026.5 1941.7 1024 1944.3 1021.7 1946.9C1019.5 1949.5 1016.1 1952.1 1013 1954.6C1009.1 1957.9 1004.4 1961.1 1000.3 1964.4C996.3 1967.6 992.2 1970.9 988.7 1974.1C985.1 1977.4 981.8 1980.6 978.9 1983.8C976 1987.1 973.1 1990.3 971.1 1993.6C969.1 1996.8 967.5 2000.1 966.3 2003.3C965 2006.6 964 2009.8 963.3 2013C962.4 2017.6 961.6 2022.1 961.4 2026.7C961.2 2022.1 960.4 2017.6 959.5 2013C958.8 2009.8 957.8 2006.6 956.5 2003.3C955.3 2000.1 953.7 1996.8 951.7 1993.6C949.7 1990.3 946.8 1987.1 943.9 1983.8C941 1980.6 937.7 1977.4 934.1 1974.1C930.6 1970.9 926.5 1967.6 922.5 1964.4C918.4 1961.1 913.7 1957.9 909.8 1954.6C906.7 1952.1 903.3 1949.5 901.1 1946.9C898.8 1944.3 896.3 1941.7 895.6 1939.1C894.9 1936.5 894.2 1933.9 894.2 1931.3C894.2 1929.3 895 1927.4 895.6 1925.5C896.6 1922.2 898.8 1919 901.1 1915.7C903.3 1912.5 907.1 1909.2 909.8 1906C912.6 1902.7 914.9 1899.5 917.6 1896.3C920.4 1893 923.3 1889.8 926.4 1886.5C929.4 1883.3 933.7 1880 936.1 1876.8C938.5 1873.5 941.1 1870.3 941.9 1867.1C942.8 1863.8 943.5 1860.6 943.5 1857.3C943.5 1852.1 943.5 1846.9 943.5 1841.8C943.5 1839.2 943.7 1836.6 943.9 1834C944.1 1830.7 945.2 1827.5 946.2 1824.2C947.2 1821.3 948.8 1818.4 950.7 1815.5Z" fill="#fcc99b" stroke="#444444" stroke-width="0.9" stroke-linejoin="round"/>
<path d="M943.9 1839.8h35M911.5 1904.4h99.8M901.6 1915.5h119.6M894.9 1934.6h132.9M897.7 1942.4h127.3M907.4 1952.3h108.1" stroke="#3a3a3a" stroke-width="1.1" opacity="0.95" fill="none"/>
<path d="M1129.4 1887.1C1129.6 1889.5 1130.4 1891.9 1131.3 1894.3C1132.3 1896.9 1134.2 1899.5 1136.2 1902.1C1138.7 1905.3 1142.3 1908.6 1145.9 1911.8C1149.6 1915.1 1154.4 1918.3 1158.6 1921.6C1162.8 1924.8 1167.4 1928 1171.2 1931.3C1175.1 1934.5 1178.7 1937.8 1182 1941C1185.2 1944.3 1188.5 1947.5 1190.7 1950.8C1192.5 1953.3 1194.3 1955.9 1195.2 1958.5C1195.9 1960.5 1196.7 1962.4 1196.7 1964.4C1196.7 1966.3 1196.2 1968.3 1195.6 1970.2C1194.8 1972.8 1191.5 1975.4 1188.8 1978C1186 1980.6 1181.8 1983.2 1178.1 1985.8C1174.3 1988.4 1170.3 1991 1166.4 1993.6C1161.5 1996.8 1156.1 2000.1 1151.8 2003.3C1147.5 2006.6 1143.1 2009.8 1140.1 2013C1137.1 2016.3 1134.6 2019.5 1132.9 2022.8C1131.4 2025.7 1130.1 2028.6 1129.4 2031.5C1128.7 2028.6 1127.4 2025.7 1125.9 2022.8C1124.2 2019.5 1121.7 2016.3 1118.7 2013C1115.7 2009.8 1111.3 2006.6 1107 2003.3C1102.7 2000.1 1097.3 1996.8 1092.4 1993.6C1088.5 1991 1084.5 1988.4 1080.7 1985.8C1077 1983.2 1072.8 1980.6 1070 1978C1067.3 1975.4 1064 1972.8 1063.2 1970.2C1062.6 1968.3 1062.1 1966.3 1062.1 1964.4C1062.1 1962.4 1062.9 1960.5 1063.6 1958.5C1064.5 1955.9 1066.3 1953.3 1068.1 1950.8C1070.3 1947.5 1073.6 1944.3 1076.8 1941C1080.1 1937.8 1083.7 1934.5 1087.6 1931.3C1091.4 1928 1096 1924.8 1100.2 1921.6C1104.4 1918.3 1109.2 1915.1 1112.9 1911.8C1116.5 1908.6 1120.1 1905.3 1122.6 1902.1C1124.6 1899.5 1126.5 1896.9 1127.5 1894.3C1128.4 1891.9 1129.2 1889.5 1129.4 1887.1Z" fill="#9dd89c" stroke="#444444" stroke-width="0.9" stroke-linejoin="round"/>
<path d="M1090.3 1929.3h78.1M1076.9 1941.4h105.1M1063.3 1960.5h132.2M1062.5 1964h133.9M1068.3 1976.1h122.2M1090.8 1992.2h77.3" stroke="#3a3a3a" stroke-width="1.1" opacity="0.95" fill="none"/>
<line x1="961.4" y1="1925.1" x2="1129.8" y2="1962.4" stroke="#ff0000" stroke-width="2" stroke-linecap="butt"/>
<text x="1040.6" y="1936.4" font-size="36.0" stroke="#000" stroke-width="0.45">*</text>
<text x="948.5" y="2088.7" font-size="30.2" textLength="41.9" lengthAdjust="spacingAndGlyphs">CB</text>
<text x="1120.2" y="2088.7" font-size="28.7" textLength="38.3" lengthAdjust="spacingAndGlyphs">SA</text>
<line x1="1378.5" y1="1783.7" x2="1378.5" y2="2059.1" stroke="#2a2a2a" stroke-width="1.25" />
<line x1="1376.0" y1="2058.5" x2="1720.2" y2="2058.5" stroke="#2a2a2a" stroke-width="1.25" />
<path d="M1373.1 1803.6h5.4M1373.1 1842.9h5.4M1373.1 1882.2h5.4M1373.1 1921.4h5.4M1373.1 1960.5h5.4M1373.1 1999.8h5.4M1373.1 2039.1h5.4M1375.6 1783.9h2.9M1375.6 1823.3h2.9M1375.6 1862.6h2.9M1375.6 1901.8h2.9M1375.6 1940.9h2.9M1375.6 1980.1h2.9M1375.6 2019.5h2.9M1464 2058.5v2.6M1634.5 2058.5v2.6" stroke="#2a2a2a" stroke-width="0.9" fill="none"/>
<text x="1350.9" y="1810.2" font-size="18.4">12</text>
<text x="1350.6" y="1849.7" font-size="18.4">10</text>
<text x="1360.9" y="1889.4" font-size="18.4">8</text>
<text x="1360.9" y="1928.6" font-size="18.4">6</text>
<text x="1360.8" y="1967.9" font-size="18.4">4</text>
<text x="1361.1" y="2007.8" font-size="18.4">2</text>
<text x="1360.8" y="2047.1" font-size="18.4">4</text>
<text x="1337.4" y="2000.7" font-size="25.6" textLength="154.2" lengthAdjust="spacingAndGlyphs" transform="rotate(-90 1337.4 2000.7)">Log<tspan font-size="16.4" dy="4.4">2</tspan><tspan dy="-4.4"> Intensity</tspan></text>
<text x="1466.3" y="1799.2" font-size="37.3" textLength="184.7" lengthAdjust="spacingAndGlyphs">SERPINA3</text>
<path d="M1459.1 1804.4L1468.9 1804.4C1470.9 1807.1 1472.9 1809.8 1474.7 1812.6C1476.4 1815.2 1478.4 1817.7 1479.6 1820.3C1480.8 1822.9 1482.1 1825.5 1482.5 1828.1C1482.9 1831.4 1482.9 1834.6 1483.3 1837.9C1483.5 1840.5 1483.8 1843 1484.4 1845.6C1485.1 1848.2 1487.2 1850.8 1489.3 1853.4C1491.4 1856 1494.9 1858.6 1498.1 1861.2C1501.3 1863.8 1505.9 1866.4 1508.8 1869C1510.9 1870.9 1513.3 1872.9 1514.2 1874.8C1514.9 1876.1 1515.6 1877.4 1515.6 1878.7C1515.6 1880.7 1514.7 1882.6 1513.6 1884.6C1512.3 1887.2 1506.3 1889.8 1502 1892.4C1497.6 1895 1491.5 1897.6 1487.4 1900.1C1483.2 1902.7 1479.5 1905.3 1476.7 1907.9C1473.8 1910.5 1471.1 1913.1 1469.5 1915.7C1467.8 1918.3 1466.3 1920.9 1465.6 1923.5C1464.8 1926.2 1464.1 1929 1464 1931.7C1463.9 1929 1463.2 1926.2 1462.4 1923.5C1461.7 1920.9 1460.2 1918.3 1458.5 1915.7C1456.9 1913.1 1454.2 1910.5 1451.3 1907.9C1448.5 1905.3 1444.8 1902.7 1440.6 1900.1C1436.5 1897.6 1430.4 1895 1426 1892.4C1421.7 1889.8 1415.7 1887.2 1414.4 1884.6C1413.3 1882.6 1412.4 1880.7 1412.4 1878.7C1412.4 1877.4 1413.1 1876.1 1413.8 1874.8C1414.7 1872.9 1417.1 1870.9 1419.2 1869C1422.1 1866.4 1426.7 1863.8 1429.9 1861.2C1433.1 1858.6 1436.6 1856 1438.7 1853.4C1440.8 1850.8 1442.9 1848.2 1443.6 1845.6C1444.2 1843 1444.5 1840.5 1444.7 1837.9C1445.1 1834.6 1445.1 1831.4 1445.5 1828.1C1445.9 1825.5 1447.2 1822.9 1448.4 1820.3C1449.6 1817.7 1451.6 1815.2 1453.3 1812.6C1455.1 1809.8 1457.1 1807.1 1459.1 1804.4Z" fill="#fcc99b" stroke="#444444" stroke-width="0.9" stroke-linejoin="round"/>
<path d="M1447.5 1823.3h33.1M1445.3 1836.5h37.5M1437.3 1855.4h53.4M1413.9 1875.4h100.2M1413.1 1880.7h101.8M1416.1 1886.1h95.8M1430 1894.3h68.1" stroke="#3a3a3a" stroke-width="1.1" opacity="0.95" fill="none"/>
<path d="M1634.6 1813.5C1634.9 1816.4 1635.5 1819.4 1636.2 1822.3C1636.9 1825.5 1638 1828.8 1639.5 1832C1641 1835.3 1643.5 1838.5 1646.3 1841.8C1649.1 1845 1653.1 1848.2 1657 1851.5C1660.9 1854.7 1665.6 1858 1669.6 1861.2C1673.7 1864.5 1677.3 1867.7 1681.3 1870.9C1685.4 1874.2 1690.6 1877.4 1694 1880.7C1696.7 1883.3 1699.6 1885.9 1700.8 1888.5C1701.7 1890.4 1702.7 1892.4 1702.7 1894.3C1702.7 1896.3 1702.3 1898.2 1701.8 1900.1C1701 1902.7 1697.8 1905.3 1694.9 1907.9C1691.4 1911.2 1684.5 1914.4 1680.3 1917.7C1676.2 1920.9 1672.3 1924.2 1669.6 1927.4C1666.4 1931.3 1663.5 1935.2 1661.9 1939.1C1659.6 1944.3 1658.6 1949.5 1657 1954.6C1655 1961.1 1653 1967.6 1651.1 1974.1C1649.3 1980.6 1647.6 1987.1 1645.9 1993.6C1644.2 2000.1 1642.5 2006.6 1640.8 2013C1639.5 2018.2 1637.9 2023.4 1636.9 2028.6C1636.2 2032.3 1635.6 2036 1635.2 2039.7L1634 2039.7C1633.6 2036 1633 2032.3 1632.3 2028.6C1631.3 2023.4 1629.7 2018.2 1628.4 2013C1626.7 2006.6 1625 2000.1 1623.3 1993.6C1621.6 1987.1 1619.9 1980.6 1618.1 1974.1C1616.2 1967.6 1614.2 1961.1 1612.2 1954.6C1610.6 1949.5 1609.6 1944.3 1607.3 1939.1C1605.7 1935.2 1602.8 1931.3 1599.6 1927.4C1596.9 1924.2 1593 1920.9 1588.9 1917.7C1584.7 1914.4 1577.8 1911.2 1574.3 1907.9C1571.4 1905.3 1568.2 1902.7 1567.4 1900.1C1566.9 1898.2 1566.5 1896.3 1566.5 1894.3C1566.5 1892.4 1567.5 1890.4 1568.4 1888.5C1569.6 1885.9 1572.5 1883.3 1575.2 1880.7C1578.6 1877.4 1583.8 1874.2 1587.9 1870.9C1591.9 1867.7 1595.5 1864.5 1599.6 1861.2C1603.6 1858 1608.3 1854.7 1612.2 1851.5C1616.1 1848.2 1620.1 1845 1622.9 1841.8C1625.7 1838.5 1628.2 1835.3 1629.7 1832C1631.2 1828.8 1632.3 1825.5 1633 1822.3C1633.7 1819.4 1634.3 1816.4 1634.6 1813.5Z" fill="#9dd89c" stroke="#444444" stroke-width="0.9" stroke-linejoin="round"/>
<path d="M1590 1869.6h89.3M1575.2 1881.1h118.7M1566.9 1894.3h135.5M1567.2 1897.4h134.8M1568.6 1901.7h132.1M1572.1 1905.6h125.1M1589.8 1918.1h89.7M1612.2 1953.1h44.9M1624.9 1998.2h19.3" stroke="#3a3a3a" stroke-width="1.1" opacity="0.95" fill="none"/>
<line x1="1463.6" y1="1875.4" x2="1635.3" y2="1899.8" stroke="#ff0000" stroke-width="2" stroke-linecap="butt"/>
<text x="1533.7" y="1886.7" font-size="36.0" stroke="#000" stroke-width="0.45">*</text>
<text x="1440.3" y="2091.9" font-size="30.2" textLength="41.9" lengthAdjust="spacingAndGlyphs">CB</text>
<text x="1634.7" y="2091.7" font-size="28.4" textLength="37.9" lengthAdjust="spacingAndGlyphs">SA</text>
<line x1="880.5" y1="2107.3" x2="880.5" y2="2378.1" stroke="#2a2a2a" stroke-width="1.25" />
<line x1="878.7" y1="2377.5" x2="1217.5" y2="2377.5" stroke="#2a2a2a" stroke-width="1.25" />
<path d="M875.1 2152.4h5.4M875.1 2242.5h5.4M875.1 2333h5.4M877.6 2107.3h2.9M877.6 2197.5h2.9M877.6 2287.8h2.9M964.7 2377.5v2.6M1133.3 2377.5v2.6" stroke="#2a2a2a" stroke-width="0.9" fill="none"/>
<text x="847.0" y="2157.2" font-size="17.6">0.5</text>
<text x="846.9" y="2250.2" font-size="17.6">0.0</text>
<text x="841.2" y="2344.1" font-size="17.6">-0.5</text>
<text x="833.8" y="2317.7" font-size="25.6" textLength="153.9" lengthAdjust="spacingAndGlyphs" transform="rotate(-90 833.8 2317.7)">Log<tspan font-size="16.4" dy="4.3">2</tspan><tspan dy="-4.3"> Intensity</tspan></text>
<text x="998.4" y="2126.4" font-size="36.8" textLength="104.3" lengthAdjust="spacingAndGlyphs">AHSG</text>
<path d="M964.7 2173.8C965 2176.3 965.3 2178.8 965.7 2181.2C966.2 2184.5 966.7 2187.7 967.6 2190.9C968.5 2194.2 970.9 2197.4 972.5 2200.7C974.4 2204.6 976.7 2208.5 978.3 2212.4C980 2216.3 981.7 2220.1 982.6 2224C983.3 2227 983.6 2229.9 984.2 2232.8C984.7 2235.7 985 2238.6 985.7 2241.6C986.5 2244.8 987.5 2248 989 2251.3C990.6 2254.5 994.1 2257.8 996.8 2261C999.6 2264.3 1002.8 2267.5 1005.6 2270.8C1008.3 2274 1010.5 2277.2 1013.4 2280.5C1016.2 2283.7 1020.3 2287 1023.1 2290.2C1025.9 2293.5 1029.3 2296.7 1030.5 2300C1031.3 2302.2 1032.2 2304.5 1032.2 2306.8C1032.2 2309 1031.4 2311.3 1030.5 2313.6C1029.5 2316.2 1026.2 2318.8 1023.1 2321.4C1020 2324 1014.7 2326.6 1010.4 2329.1C1006.2 2331.7 1001.8 2334.3 997.8 2336.9C993.7 2339.5 989.4 2342.1 986.1 2344.7C983.7 2346.7 981.5 2348.6 979.7 2350.6L949.7 2350.6C947.9 2348.6 945.7 2346.7 943.3 2344.7C940 2342.1 935.7 2339.5 931.6 2336.9C927.6 2334.3 923.2 2331.7 919 2329.1C914.7 2326.6 909.4 2324 906.3 2321.4C903.2 2318.8 899.9 2316.2 898.9 2313.6C898 2311.3 897.2 2309 897.2 2306.8C897.2 2304.5 898.1 2302.2 898.9 2300C900.1 2296.7 903.5 2293.5 906.3 2290.2C909.1 2287 913.2 2283.7 916 2280.5C918.9 2277.2 921.1 2274 923.8 2270.8C926.6 2267.5 929.8 2264.3 932.6 2261C935.3 2257.8 938.8 2254.5 940.4 2251.3C941.9 2248 942.9 2244.8 943.7 2241.6C944.4 2238.6 944.7 2235.7 945.2 2232.8C945.8 2229.9 946.1 2227 946.8 2224C947.7 2220.1 949.4 2216.3 951.1 2212.4C952.7 2208.5 955 2204.6 956.9 2200.7C958.5 2197.4 960.9 2194.2 961.8 2190.9C962.7 2187.7 963.2 2184.5 963.7 2181.2C964.1 2178.8 964.4 2176.3 964.7 2173.8Z" fill="#fcc99b" stroke="#444444" stroke-width="0.9" stroke-linejoin="round"/>
<path d="M945.6 2232.8h38.1M915.9 2281.1h97.6M909.5 2287.3h110.4M898.1 2310.3h133.2M902.2 2317.5h124.9M907.4 2321.9h114.5" stroke="#3a3a3a" stroke-width="1.1" opacity="0.95" fill="none"/>
<path d="M1082.2 2134.4L1184.6 2134.4C1187.8 2137.6 1190.9 2140.8 1192.6 2144C1195.4 2149.3 1197.3 2154.6 1198.3 2160C1199.6 2166.4 1200.9 2172.8 1200.9 2179.2C1200.9 2185.6 1200.8 2192 1200.6 2198.4C1200.3 2206.9 1198.7 2215.4 1197.4 2224C1196.1 2232.5 1194.7 2241 1192.6 2249.6C1190.7 2257 1188 2264.5 1184.6 2272C1182.2 2277.3 1178.4 2282.6 1175 2288C1171.5 2293.3 1167.5 2298.6 1163.8 2304C1160.1 2309.3 1156 2314.6 1152.6 2319.9C1149.2 2325.3 1145.5 2330.6 1143 2335.9C1140.6 2341.1 1138.6 2346.2 1137.2 2351.3L1129.6 2351.3C1128.2 2346.2 1126.2 2341.1 1123.8 2335.9C1121.3 2330.6 1117.6 2325.3 1114.2 2319.9C1110.8 2314.6 1106.7 2309.3 1103 2304C1099.3 2298.6 1095.3 2293.3 1091.8 2288C1088.4 2282.6 1084.6 2277.3 1082.2 2272C1078.8 2264.5 1076.1 2257 1074.2 2249.6C1072.1 2241 1070.7 2232.5 1069.4 2224C1068.1 2215.4 1066.5 2206.9 1066.2 2198.4C1066 2192 1065.9 2185.6 1065.9 2179.2C1065.9 2172.8 1067.2 2166.4 1068.5 2160C1069.5 2154.6 1071.4 2149.3 1074.2 2144C1075.9 2140.8 1079 2137.6 1082.2 2134.4Z" fill="#9dd89c" stroke="#444444" stroke-width="0.9" stroke-linejoin="round"/>
<path d="M1075.6 2142.4h115.7M1072.6 2148.1h121.6M1066.6 2196.8h133.7M1067.7 2210.2h131.4M1076.8 2257.2h113.2M1086 2278.4h94.7" stroke="#3a3a3a" stroke-width="1.1" opacity="0.95" fill="none"/>
<line x1="964.3" y1="2299.0" x2="1133.6" y2="2203.6" stroke="#ff0000" stroke-width="2" stroke-linecap="butt"/>
<text x="1033.8" y="2247.6" font-size="36.0" stroke="#000" stroke-width="0.45">*</text>
<text x="941.5" y="2411.8" font-size="30.2" textLength="41.9" lengthAdjust="spacingAndGlyphs">CB</text>
<text x="1113.5" y="2411.7" font-size="28.4" textLength="37.9" lengthAdjust="spacingAndGlyphs">SA</text>
<line x1="1378.5" y1="2100.0" x2="1378.5" y2="2372.1" stroke="#6a635d" stroke-width="1.8" />
<line x1="1374.6" y1="2371.5" x2="1719.5" y2="2371.5" stroke="#2a2a2a" stroke-width="1.25" />
<path d="M1373.1 2100h5.4M1373.1 2154.4h5.4M1373.1 2208.7h5.4M1373.1 2263h5.4M1373.1 2317.5h5.4M1373.1 2371.6h5.4M1375.6 2113.6h2.9M1375.6 2127.2h2.9M1375.6 2140.8h2.9M1375.6 2167.9h2.9M1375.6 2181.5h2.9M1375.6 2195.1h2.9M1375.6 2222.2h2.9M1375.6 2235.8h2.9M1375.6 2249.4h2.9M1375.6 2276.6h2.9M1375.6 2290.2h2.9M1375.6 2303.8h2.9M1375.6 2331h2.9M1375.6 2344.5h2.9M1375.6 2358.1h2.9M1463.6 2371.5v2.6M1634.3 2371.5v2.6" stroke="#2a2a2a" stroke-width="0.9" fill="none"/>
<text x="1350.9" y="2105.5" font-size="17.2">7.5</text>
<text x="1350.9" y="2159.4" font-size="17.2">6.5</text>
<text x="1350.9" y="2212.6" font-size="17.2">5.5</text>
<text x="1350.9" y="2265.1" font-size="17.2">4.5</text>
<text x="1350.9" y="2318.6" font-size="17.2">3.5</text>
<text x="1350.9" y="2372.2" font-size="17.2">2.5</text>
<text x="1339.0" y="2320.6" font-size="25.6" textLength="154.2" lengthAdjust="spacingAndGlyphs" transform="rotate(-90 1339.0 2320.6)">Log<tspan font-size="16.4" dy="4.4">2</tspan><tspan dy="-4.4"> Intensity</tspan></text>
<text x="1509.0" y="2120.6" font-size="36.6" textLength="103.7" lengthAdjust="spacingAndGlyphs">AHSG</text>
<path d="M1451.5 2127.3L1475.7 2127.3C1476.7 2131 1477.6 2134.7 1478.2 2138.4C1478.8 2142.3 1479.6 2146.2 1479.6 2150.1C1479.6 2154 1479.6 2157.9 1479.6 2161.8C1479.6 2166.9 1478.3 2172.1 1477.6 2177.3C1476.9 2182.5 1475.6 2187.7 1475.3 2192.9C1475.1 2196.8 1474.9 2200.7 1474.9 2204.6C1474.9 2208.5 1476.1 2212.4 1477.2 2216.3C1478.3 2220.1 1480.8 2224 1483.1 2227.9C1485.3 2231.8 1488.1 2235.7 1490.9 2239.6C1493.6 2243.5 1496.9 2247.4 1499.6 2251.3C1502.4 2255.2 1505.3 2259.1 1507.4 2263C1509.5 2266.9 1511.6 2270.8 1512.7 2274.6C1513.5 2277.9 1514.5 2281.1 1514.6 2284.4C1514.7 2287 1514.8 2289.6 1514.8 2292.2C1514.8 2295.4 1513.4 2298.7 1512.3 2301.9C1510.9 2305.8 1508 2309.7 1505.4 2313.6C1502.9 2317.5 1499.5 2321.4 1496.7 2325.3C1494.3 2328.5 1491.9 2331.7 1489.9 2335C1487.9 2338.1 1486.2 2341.2 1484.6 2344.3L1442.6 2344.3C1441 2341.2 1439.3 2338.1 1437.3 2335C1435.3 2331.7 1432.9 2328.5 1430.5 2325.3C1427.7 2321.4 1424.3 2317.5 1421.8 2313.6C1419.2 2309.7 1416.3 2305.8 1414.9 2301.9C1413.8 2298.7 1412.4 2295.4 1412.4 2292.2C1412.4 2289.6 1412.5 2287 1412.6 2284.4C1412.7 2281.1 1413.7 2277.9 1414.5 2274.6C1415.6 2270.8 1417.7 2266.9 1419.8 2263C1421.9 2259.1 1424.8 2255.2 1427.6 2251.3C1430.3 2247.4 1433.6 2243.5 1436.3 2239.6C1439.1 2235.7 1441.9 2231.8 1444.1 2227.9C1446.4 2224 1448.9 2220.1 1450 2216.3C1451.1 2212.4 1452.3 2208.5 1452.3 2204.6C1452.3 2200.7 1452.1 2196.8 1451.9 2192.9C1451.6 2187.7 1450.3 2182.5 1449.6 2177.3C1448.9 2172.1 1447.6 2166.9 1447.6 2161.8C1447.6 2157.9 1447.6 2154 1447.6 2150.1C1447.6 2146.2 1448.4 2142.3 1449 2138.4C1449.6 2134.7 1450.5 2131 1451.5 2127.3Z" fill="#fcc99b" stroke="#444444" stroke-width="1" stroke-linejoin="round"/>
<path d="M1448 2150.1h31.1M1448 2160.4h31.1M1417 2269.2h93.2M1413.2 2282h100.7M1413 2294.1h101.3M1417.5 2306.4h92.2M1426.7 2319.8h73.7" stroke="#3a3a3a" stroke-width="1.1" opacity="0.95" fill="none"/>
<path d="M1631 2127.3L1637.4 2127.3C1638.1 2129.7 1639.6 2132 1641.2 2134.4C1643.5 2137.6 1647.9 2140.8 1651.8 2144C1657 2148.2 1664.5 2152.5 1669.4 2156.8C1675.5 2162.1 1681.1 2167.4 1684.8 2172.8C1687.7 2177 1689.7 2181.3 1691.8 2185.6C1693.8 2189.8 1695.7 2194.1 1697.2 2198.4C1698.8 2202.6 1700.6 2206.9 1701.4 2211.2C1702 2214.4 1702.7 2217.6 1702.7 2220.8C1702.7 2225 1701.6 2229.3 1700.7 2233.6C1699.6 2238.9 1697.4 2244.2 1695 2249.6C1692.5 2254.9 1689 2260.2 1684.8 2265.6C1680.5 2270.9 1673.9 2276.2 1667.8 2281.6C1662.9 2285.8 1656.2 2290.1 1651.8 2294.4C1647.4 2298.6 1642.9 2302.9 1640.6 2307.2C1638.3 2311.4 1636.5 2315.7 1635.5 2319.9C1634.9 2322.4 1634.4 2324.9 1634.2 2327.3C1634 2324.9 1633.5 2322.4 1632.9 2319.9C1631.9 2315.7 1630.1 2311.4 1627.8 2307.2C1625.5 2302.9 1621 2298.6 1616.6 2294.4C1612.2 2290.1 1605.5 2285.8 1600.6 2281.6C1594.5 2276.2 1587.9 2270.9 1583.6 2265.6C1579.4 2260.2 1575.9 2254.9 1573.4 2249.6C1571 2244.2 1568.8 2238.9 1567.7 2233.6C1566.8 2229.3 1565.7 2225 1565.7 2220.8C1565.7 2217.6 1566.4 2214.4 1567 2211.2C1567.8 2206.9 1569.6 2202.6 1571.2 2198.4C1572.7 2194.1 1574.6 2189.8 1576.6 2185.6C1578.7 2181.3 1580.7 2177 1583.6 2172.8C1587.3 2167.4 1592.9 2162.1 1599 2156.8C1603.9 2152.5 1611.4 2148.2 1616.6 2144C1620.5 2140.8 1624.9 2137.6 1627.2 2134.4C1628.8 2132 1630.3 2129.7 1631 2127.3Z" fill="#9dd89c" stroke="#444444" stroke-width="1" stroke-linejoin="round"/>
<path d="M1584 2172.8h100.3M1571.8 2197.7h124.8M1568.2 2208h132.1M1566.2 2219.8h136.1M1567.6 2231.3h133.2M1571 2243.2h126.3M1577.2 2256h113.9M1587.5 2269.4h93.5" stroke="#3a3a3a" stroke-width="1.1" opacity="0.95" fill="none"/>
<line x1="1463.0" y1="2282.4" x2="1634.9" y2="2219.0" stroke="#ff0000" stroke-width="2" stroke-linecap="butt"/>
<text x="1532.1" y="2252.5" font-size="36.0" stroke="#000" stroke-width="0.45">*</text>
<text x="1443.5" y="2406.4" font-size="30.2" textLength="41.9" lengthAdjust="spacingAndGlyphs">CB</text>
<text x="1614.8" y="2406.4" font-size="28.5" textLength="38.0" lengthAdjust="spacingAndGlyphs">SA</text>
</svg>
</body></html>
